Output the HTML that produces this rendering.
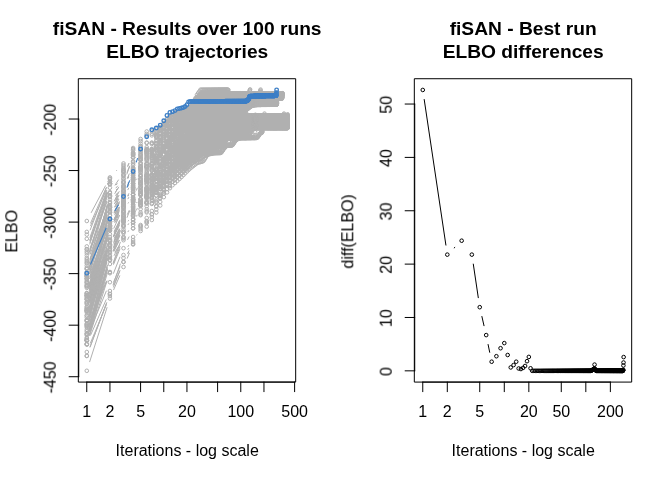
<!DOCTYPE html>
<html lang="en"><head><meta charset="utf-8"><title>fiSAN - ELBO trajectories</title>
<style>
html,body{margin:0;padding:0;background:#fff;}
svg{display:block;}
text{font-family:"Liberation Sans",sans-serif;fill:#000;will-change:transform;}
.ax{font-size:16px;text-anchor:middle;}
.tt{font-size:19.2px;font-weight:bold;text-anchor:middle;}
.ln{stroke:#000;stroke-width:1;fill:none;stroke-linecap:round;stroke-linejoin:round;}
.g{stroke:#b0b0b0;stroke-width:1;fill:none;stroke-linecap:round;}
.gp{fill:none;stroke:none;marker-start:url(#mg);marker-mid:url(#mg);marker-end:url(#mg);}
.bp{fill:none;stroke:none;marker-start:url(#mb);marker-mid:url(#mb);marker-end:url(#mb);}
.kp{fill:none;stroke:none;marker-start:url(#mk);marker-mid:url(#mk);marker-end:url(#mk);}
</style></head>
<body>
<svg width="672" height="480" viewBox="0 0 672 480">
<rect x="0" y="0" width="672" height="480" fill="#fff"/>
<defs>
<marker id="mg" markerUnits="userSpaceOnUse" markerWidth="8" markerHeight="8" refX="4" refY="4" viewBox="0 0 8 8" overflow="visible"><circle cx="4" cy="4" r="1.8" fill="none" stroke="#b0b0b0" stroke-width="1"/></marker>
<marker id="mb" markerUnits="userSpaceOnUse" markerWidth="8" markerHeight="8" refX="4" refY="4" viewBox="0 0 8 8" overflow="visible"><circle cx="4" cy="4" r="1.8" fill="none" stroke="#3d7fc6" stroke-width="1.35"/></marker>
<marker id="mk" markerUnits="userSpaceOnUse" markerWidth="8" markerHeight="8" refX="4" refY="4" viewBox="0 0 8 8" overflow="visible"><circle cx="4" cy="4" r="1.8" fill="none" stroke="#000" stroke-width="1"/></marker>
<clipPath id="cl"><rect x="78.7" y="78.7" width="217" height="303.4"/></clipPath>
<clipPath id="cr"><rect x="414.7" y="78.7" width="217" height="303.4"/></clipPath>
</defs>
<g clip-path="url(#cl)">
<path class="g" d="M91.3 212.5L105.4 185.9M116.6 170.5L116.8 170.3M89.9 240.3L106.8 192.6M90 237.3L106.7 190.5M90.2 229.9L106.5 187.6M90.6 225.8L106.1 190.4M90.6 223.1L106.1 187.8M89.9 242.3L106.8 192.6M89.5 251.7L107.2 193.1M89.8 244L106.9 192.9M90 240L106.7 193.4M127.8 165.5L128.8 163.4M89.9 250.4L106.8 202.3M115.1 185.1L118.4 180M89.2 263.9L107.5 193.1M127.7 166.5L128.9 163.9M89.9 248.8L106.7 201.1M116.3 184.8L117.2 183.8M89.3 269.1L107.4 204.6M116 187.9L117.5 186.1M89.5 266.9L107.2 208.4M115.7 191.6L117.8 188.8M127.1 172.2L129.5 166.2M89.4 269.7L107.3 205.8M116.5 189.6L116.9 189.3M154 147L154.1 146.4M89.6 253.2L107.1 196.8M127.4 178.1L129.2 174M90.1 259.8L106.6 216.2M115.6 199.5L117.9 196.2M90.1 254.4L106.6 210.7M114.8 193.5L118.6 187.2M89.4 267.1L107.3 206M116.5 189.8L117 189.3M91.1 246.8L105.6 218.1M114.3 201L119.1 191.6M126.9 174L129.7 166.4M89.4 268.9L107.3 205.1M127.9 177.8L128.7 176.2M90 258.8L106.7 212.4M115.8 195.8L117.6 193.5M90.9 260.5L105.8 229.6M114.4 212.5L119 203.8M89.8 267L106.9 216.5M116.1 200L117.4 198.5M128.2 182.7L128.4 182.4M89.4 284.1L107.3 220.4M115.3 203.2L118.2 198.8M89.4 273.1L107.3 211.8M115.9 195L117.6 192.8M89.8 265.6L106.9 214.3M116.3 198L117.1 197.1M91.1 257.1L105.6 228.2M114.5 211.2L119 202.7M89.5 273.8L107.2 215.6M115.5 198.7L117.9 195.4M90.4 263.3L106.3 224.1M114.6 206.8L118.8 199.3M89.2 290.3L107.5 221.4M114.5 203.7L119 195.3M128 178.4L128.6 177.3M90.2 266.2L106.5 224.2M115.2 207.2L118.2 202.8M89.1 294.7L107.6 221.4M116 204.6L117.5 202.7M127.8 186.7L128.8 184.6M89.5 285.9L107.1 228M116.1 211.4L117.4 209.8M90 276.6L106.7 230.6M114.1 212.9L119.4 201.8M127.8 184.5L128.9 182.3M90.4 277.7L106.3 239.1M114 221.6L119.4 210M136.8 179.4L136.9 179M88.9 299.4L107.8 217.2M116.2 200.5L117.3 199.3M89.4 283.8L107.3 221.4M115.8 204.5L117.7 202M89 308.1L107.7 231.1M89.8 271.1L106.9 219.8M127.9 189.7L128.7 188.1M89.6 284.5L107.1 228.3M114.7 210.8L118.8 203.4M90.2 272.9L106.5 230.1M115 213L118.4 207.6M89.2 301.9L107.5 232.4M114.7 214.8L118.7 207.8M89.7 290.1L106.9 237.6M113.9 219.7L119.6 207.1M89.5 286.7L107.1 228.7M115.9 212L117.5 210.1M90.1 275.6L106.6 230.8M115.3 213.8L118.1 209.5M136.5 190.2L137.2 188.2M90.3 277.2L106.4 237.1M114.1 219.5L119.3 208.7M89.6 278.7L107.1 221.4M128.1 196.1L128.6 195.2M89.4 298.1L107.3 234.6M115.2 217.4L118.2 213M89.8 290.1L106.9 238.1M114.4 220.5L119 211.7M89.4 297.4L107.3 234.6M116 218L117.4 216.3M89.7 293L107 238.8M115.7 222L117.8 219.2M128.2 203.1L128.4 202.7M89.7 288.5L107 235.6M115.4 218.6L118 214.8M89.3 301.5L107.4 236.6M114.8 219L118.7 212.4M127.8 195.6L128.8 193.6M89.9 287.6L106.8 239.7M114.8 222.4L118.7 215.6M128 198.8L128.7 197.5M88.9 310.7L107.8 228.5M89 314.3L107.7 235.1M90.8 286.6L105.9 254.4M113.6 236.8L119.8 221.7M89.9 286.1L106.8 237.7M114.9 220.4L118.5 214.5M89.2 303.2L107.5 232M89.6 301.3L107.1 246.1M113.9 228.2L119.6 215.4M89.6 292.9L107.1 235.9M90.1 294.4L106.6 250.2M114.8 232.9L118.6 226.6M89.7 306.3L106.9 253.8M113.5 235.8L119.9 220.2M89.6 311.7L107.1 254M113.9 236L119.6 223.3M88.9 331L107.8 249.3M114.2 231.3L119.2 221.2M89.4 310.7L107.3 248.6M115.2 231.4L118.3 226.6M89.8 300.6L106.9 249.8M114.4 232.2L119 223.4M89.9 301.8L106.8 254M114.1 236.2L119.4 225.2M89.3 316.6L107.4 250.2M115.1 232.9L118.3 227.8M136.8 202.7L136.9 202.4M89.5 315.3L107.2 256M114.4 238.2L119.1 229.2M89.1 322.1L107.5 250.5M114.6 232.8L118.8 225.1M88.9 318.2L107.7 238.1M89.1 328.8L107.6 255M114.9 237.5L118.6 231.3M127.4 214.3L129.2 210.4M89.1 331L107.6 257.9M114.2 240L119.3 229.6M90 306.6L106.7 260.9M113.7 243.1L119.7 229M89.3 331.1L107.4 265.2M113.9 247.2L119.5 235.1M127.1 217.4L129.5 211.3M89.6 315.5L107.1 259.8M113.9 241.9L119.6 229.3M89 320.6L107.7 243.5M136.5 210.1L137.2 208.5M89.9 311.9L106.8 262.4M114.1 244.7L119.3 233.8M89.4 331.1L107.3 267.3M114.3 249.5L119.1 240.3M90.4 299.9L106.3 261M114.9 243.9L118.6 237.6M128.2 221L128.5 220.5M89.6 326.2L107.1 269M113.2 250.8L120.3 231M89.3 324.1L107.4 258.2M114.7 240.6L118.7 233.8M89.4 331.1L107.3 269M113.6 250.9L119.9 235.4M89.5 324.7L107.2 265.5M113.4 247.4L120 230.4M89.4 331.1L107.3 269M114.1 251.2L119.3 240.4M89.7 361.7L107 307.6M113.7 289.7L119.7 275.8M127.3 258.2L129.3 253.3M90.4 343.1L106.3 304.9M113.5 287.1L119.9 270.9M127.7 253.3L129 250.7M90.6 335.2L106.1 299.8M113.6 282.1L119.9 266.9M128 249.5L128.6 248.5M90.1 347L106.6 303M113.1 284.9L120.3 264.1M128 246.5L128.6 245.5M90.4 329.3L106.3 291.1M113.5 273.3L119.9 257.1M127.7 239.5L129 236.9M90.6 317.4L106.1 282M113.6 264.3L119.9 249.1M128 231.7L128.6 230.7M90.1 325.2L106.6 281.2M113.1 263.1L120.3 242.3M128 224.7L128.6 223.7M90.1 346.8L106.6 302.9M113.7 285.1L119.8 270.8M128 253.4L128.6 252.3M136.8 235L136.9 234.8M89.4 335L107.3 273.2M114.2 255.4L119.2 245.5M89.7 335.4L107 281.1M113.5 263.1L120 246.5M89.3 335.1L107.4 269.5M115 252.1L118.4 246.7M136.7 216.1L137 215.2"/>
<polyline class="gp" points="86.8,221 109.9,177.4 123.5,163.4 133.1,148 140.6,139 146.7,131.5 151.8,131.4 156.3,129.6 160.2,127.1 163.8,123 167,119.3 169.9,115.6 172.5,114.2 175,112.6 177.3,111.6 179.5,111 181.5,110.6 183.4,110.6 185.2,109.3 187,108.7 188.6,108.4 190.1,107.5 191.6,105.4 193,103.9 194.4,101.3 195.7,97.8 197,94.8 198.2,93 199.4,91.4 200.5,89.7 201.6,89.7 202.7,89.7 203.7,89.7 204.7,89.7 205.7,89.7 206.6,89.7 207.5,89.7 208.4,89.7 209.3,89.7 210.1,89.7 211,89.7 211.8,89.7 212.6,89.7 213.3,89.7 214.1,89.7 214.8,89.7 215.5,89.7 216.2,89.7 216.9,89.7 217.6,89.7 218.3,89.7 218.9,89.7 219.5,89.7 220.2,89.7 220.8,89.7 221.4,89.7 222,89.7 222.6,89.7 223.1,89.7 223.7,89.7 224.2,89.7 224.8,89.7 225.3,89.7 225.9,89.7 226.4,89.7 226.9,89.7 227.4,89.7 227.9,89.7 228.4,90.1"/>
<polyline class="gp" points="86.8,249.4 109.9,183.5 123.5,170.3 133.1,153.8 140.6,147.4 146.7,147.2 151.8,144 156.3,134.1 160.2,129.4 163.8,125.2 167,121 169.9,118.4 172.5,118.4 175,117 177.3,116.9 179.5,115.5 181.5,112.9 183.4,111.9 185.2,111.9 187,111.7 188.6,110.2 190.1,110.2 191.6,110.2 193,109.9 194.4,109.8 195.7,106.1 197,103.8 198.2,100.8 199.4,98.4 200.5,96.8 201.6,96.2 202.7,96.2 203.7,96.2 204.7,96.2 205.7,96.2 206.6,96.2 207.5,96.2 208.4,96.2 209.3,96.2 210.1,96.2 211,96.2 211.8,96.2 212.6,96.2 213.3,96.2 214.1,96.2 214.8,96.2 215.5,96.2 216.2,96.2 216.9,96.2 217.6,96.2 218.3,96.2 218.9,96.2 219.5,96.2 220.2,96.2 220.8,96.2 221.4,96.2 222,96.2 222.6,96.2 223.1,95.9 223.7,95.4 224.2,95"/>
<polyline class="gp" points="86.8,246.4 109.9,181.5 123.5,169.3 133.1,153.1 140.6,145.9 146.7,143 151.8,143 156.3,135.4 160.2,130.3 163.8,124.9 167,123.2 169.9,119.8 172.5,117.4 175,116.5 177.3,112.5 179.5,112 181.5,111.5 183.4,111.5 185.2,111.4 187,111 188.6,109 190.1,108.3 191.6,106.9 193,104.9 194.4,101.6 195.7,99 197,98 198.2,97 199.4,96 200.5,95 201.6,95 202.7,95 203.7,95 204.7,95 205.7,95 206.6,95 207.5,95 208.4,95 209.3,95 210.1,95 211,95 211.8,95 212.6,95 213.3,95 214.1,95 214.8,95 215.5,95 216.2,95 216.9,95 217.6,95 218.3,95 218.9,95 219.5,95 220.2,95 220.8,95 221.4,95 222,95 222.6,95 223.1,95 223.7,95 224.2,95 224.8,95 225.3,95 225.9,95 226.4,95 226.9,95 227.4,95 227.9,95 228.4,94.8 228.9,94.7 229.3,94.5 229.8,94.3 230.3,94.2 230.7,94 231.2,93.8 231.6,93.6 232,93.5 232.5,93.4 232.9,93.4 233.3,93.4 233.7,93.4 234.1,93.4 234.5,93.4 234.9,93.4 235.3,93.4 235.7,93.4 236.1,93.4 236.5,93.4 236.9,93.4 237.3,93.4 237.6,93.4 238,93.4 238.4,93.4 238.7,93.4 239.1,93.4 239.4,93.4 239.8,93.4 240.1,93.4 240.8,93.4 241.4,93.4 242.1,93.4 242.7,93.4 243.4,93.4 244,93.4 244.6,93.4 245.2,93.4 245.7,93.4 246.3,93.4 246.9,93.4 247.4,93.4 248,93.4 248.5,93.4 249,93.4 249.6,93.4 250.1,93.4 250.6,93.4 251.1,93.4 251.6,93.4 252,93.4 252.5,93.4 253,93.4 253.4,93.4 253.9,93.4 254.3,93.4 254.8,93.4 255.2,93.4 255.7,93.4 256.1,93.4 256.5,93.4 256.9,93.4 257.3,93.4 257.7,93.4 258.1,93.4 258.5,93.4 258.9,93.4 259.3,93.4 259.7,93.4 260.1,93.4 260.4,93.4 260.8,93.4 261.2,93.4 261.5,93.4 261.9,93.4 262.2,93.4 262.6,93.4 262.9,93.4 263.3,93.4 263.8,93.4 264.3,93.4 264.8,93.4 265.3,93.4 265.8,93.4 266.2,93.4 266.7,93.4 267.2,93.4 267.6,93.4 268.1,93.4 268.5,93.4 268.9,93.4 269.4,93.4 269.8,93.4 270.2,93.4 270.6,93.4 271,93.4 271.4,93.4 271.8,93.4 272.2,93.4 272.6,93.4 273,93.4 273.4,93.4 273.8,93.4 274.1,93.4 274.5,93.4 274.9,93.4 275.2,93.4 275.6,93.4 275.9,93.4 276.3,93.4 276.6,93.4 277,93.4 277.4,93.4 277.9,93.4 278.3,93.4 278.7,93.4 279.2,93.4 279.6,93.4 280,93.4 280.4,93.4 280.8,93.4 281.2,93.4 281.6,93.4 282,93.4 282.2,93.3 282.3,93.3 282.4,93.3"/>
<polyline class="gp" points="86.8,238.8 109.9,178.6 123.5,165.1 133.1,149.1 140.6,141.1 146.7,133.9 151.8,133.9 156.3,131.3 160.2,129.4 163.8,124.4 167,120.7 169.9,116.2 172.5,114.7 175,114 177.3,112.7 179.5,112.7 181.5,111.7 183.4,110.4 185.2,110 187,109.3 188.6,108.6 190.1,107.8 191.6,106.9 193,105.4 194.4,103.4 195.7,100.8 197,98.3 198.2,96.1 199.4,94.4 200.5,93.8 201.6,93.8 202.7,93.8 203.7,93.8 204.7,93.8 205.7,93.8 206.6,93.8 207.5,93.8 208.4,93.8 209.3,93.8 210.1,93.8 211,93.8 211.8,93.8 212.6,93.8 213.3,93.8 214.1,93.8 214.8,93.8 215.5,93.8 216.2,93.8 216.9,93.8 217.6,93.8 218.3,93.8 218.9,93.8 219.5,93.8 220.2,93.8 220.8,93.8 221.4,93.8 222,93.8 222.6,93.8 223.1,93.8 223.7,93.8 224.2,93.8 224.8,93.8 225.3,93.8 225.9,93.8 226.4,93.8 226.9,93.8 227.4,93.8 227.9,93.8 228.4,93.8 228.9,93.8 229.3,93.8 229.8,93.8 230.3,93.8 230.7,93.8 231.2,93.8 231.6,93.8 232,93.8 232.5,93.8 232.9,93.8 233.3,93.8 233.7,93.8 234.1,93.8 234.5,93.8 234.9,93.8 235.3,93.8 235.7,93.8 236.1,93.8 236.5,93.8 236.9,93.8 237.3,93.8 237.6,93.8 238,93.8 238.4,93.8 238.7,93.8 239.1,93.8 239.4,93.8 239.8,93.8 240.1,93.8 240.8,93.8 241.4,93.8 242.1,93.8 242.7,93.8 243.4,93.8 244,93.8 244.6,93.8 245.2,93.8 245.7,93.8 246.3,93.8 246.9,93.8 247.4,93.8 248,93.8 248.5,93.5 249,92.7 249.6,91.2 249.8,90.3 250.1,89.4"/>
<polyline class="gp" points="86.8,234.6 109.9,181.6 123.5,168.3 133.1,152.6 140.6,146.2 146.7,142.6 151.8,142.6 156.3,135.1 160.2,133 163.8,128.1 167,123.7 169.9,120.5 172.5,118.9 175,114.9 177.3,112.8 179.5,111.5 181.5,110.5 183.4,109.9 185.2,109.7 187,108 188.6,107.8 190.1,107.7 191.6,107.7 193,107.7 194.4,107.7 195.7,104.8 197,102.2 198.2,99.2 199.4,96.6 200.5,94.7 201.6,94 202.7,94 203.7,94 204.7,94 205.7,94 206.6,94 207.5,94 208.4,94 209.3,94 210.1,94 211,94 211.8,94 212.6,94 213.3,94 214.1,94 214.8,94 215.5,94 216.2,94 216.9,94 217.6,94 218.3,94 218.9,94 219.5,94 220.2,94 220.8,94 221.4,94 222,94 222.6,94 223.1,94 223.7,94 224.2,94 224.8,94 225.3,94 225.9,94 226.4,94 226.9,94 227.4,94 227.9,94 228.4,94 228.9,94 229.3,94 229.8,94 230.3,94 230.7,94 231.2,94 231.6,94 232,94 232.5,94 232.9,94 233.3,94 233.7,94 234.1,94 234.5,94 234.9,94 235.3,94 235.7,94 236.1,94 236.5,94 236.9,94 237.3,94 237.6,94 238,94 238.4,94 238.7,94 239.1,94 239.4,94 239.8,94 240.1,94 240.8,94 241.4,94 242.1,94 242.7,94 243.4,94 244,94 244.6,94 245.2,94 245.7,94 246.3,94 246.9,94 247.4,94 248,94 248.5,94 249,94 249.6,94 250.1,94 250.6,94 251.1,94 251.6,94 252,94 252.5,94 253,94 253.4,94 253.9,94 254.3,94 254.8,94 255.2,94 255.7,94 256.1,94 256.5,94 256.9,94 257.3,94 257.7,94 258.1,94 258.5,94 258.9,94 259.3,94 259.7,93.4 260.1,92.2 260.3,91.4 260.4,90.5 260.6,89.6"/>
<polyline class="gp" points="86.8,231.9 109.9,179 123.5,166.6 133.1,150.3 140.6,143.6 146.7,135.4 151.8,135.4 156.3,132.5 160.2,128.4 163.8,123.8 167,119.1 169.9,117.1 172.5,115.1 175,113.5 177.3,112.8 179.5,111.8 181.5,111.2 183.4,111.2 185.2,110.4 187,110.1 188.6,109.2 190.1,107.9 191.6,106.3 193,103.3 194.4,101.6 195.7,99 197,98 198.2,97 199.4,96 200.5,95 201.6,95 202.7,95 203.7,95 204.7,95 205.7,95 206.6,95 207.5,95 208.4,95 209.3,95 210.1,95 211,95 211.8,95 212.6,95 213.3,95 214.1,95 214.8,95 215.5,95 216.2,95 216.9,95 217.6,95 218.3,95 218.9,95 219.5,95 220.2,95 220.8,95 221.4,95 222,95 222.6,95 223.1,95 223.7,95 224.2,95 224.8,95 225.3,95 225.9,95 226.4,95 226.9,95 227.4,95 227.9,95 228.4,94.8 228.9,94.7 229.3,94.6 229.8,94.6 230.3,94.6 230.7,94.6 231.2,94.6 231.6,94.6 232,94.6 232.5,94.6 232.9,94.6 233.3,94.6 233.7,94.6 234.1,94.6 234.5,94.6 234.9,94.6 235.3,94.6 235.7,94.6 236.1,94.6 236.5,94.6 236.9,94.6 237.3,94.6 237.6,94.6 238,94.6 238.4,94.6 238.7,94.6 239.1,94.6 239.4,94.6 239.8,94.6 240.1,94.6 240.8,94.6 241.4,94.6 242.1,94.6 242.7,94.6 243.4,94.6 244,94.6 244.6,94.6 245.2,94.6 245.7,94.6 246.3,94.6 246.9,94.6 247.4,94.6 248,94.6 248.5,94.6 249,94.6 249.6,94.6 250.1,94.6 250.6,94.6 251.1,94.6 251.6,94.6 252,94.6 252.5,94.6 253,94.6 253.4,94.6 253.9,94.6 254.3,94.6 254.8,94.6 255.2,94.6 255.7,94.6 256.1,94.6 256.5,94.6 256.9,94.6 257.3,94.6 257.7,94.6 258.1,94.6 258.5,94.6 258.9,94.6 259.3,94.6 259.7,94.6 260.1,94.6 260.4,94.6 260.8,94.6 261.2,94.6 261.5,94.6 261.9,94.6 262.2,94.6 262.6,94.6 262.9,94.6 263.3,94.6 263.8,94.6 264.3,94.6 264.8,94.6 265.3,94.6 265.8,94.6 266.2,94.6 266.7,94.6 267.2,94.6 267.6,94.6 268.1,94.6 268.5,94.6 268.9,94.6 269.4,94.6 269.8,94.6 270.2,94.6 270.6,94.6 271,94.6 271.4,94.6 271.8,94.6 272.2,94.6 272.6,94.6 273,94.6 273.4,94.6 273.8,94.6 274.1,94.6 274.5,94.6 274.9,94.6 275.2,94.6 275.6,94.6 275.9,94.6 276.3,94.6 276.6,94.6 277,94.6 277.4,94.6 277.9,94.6 278.3,94.6 278.7,94.6 279.2,94.6 279.6,94.6 280,94.6 280.4,94.6 280.8,94.6 281.2,94.6 281.6,94.6 282,94.6 282.2,94.3 282.3,93.8 282.4,93.3"/>
<polyline class="gp" points="86.8,251.4 109.9,183.6 123.5,171.9 133.1,157.5 140.6,151.6 146.7,151.4 151.8,151.4 156.3,141.5 160.2,134.1 163.8,126.8 167,122 169.9,119.6 172.5,117.2 175,116.7 177.3,112.6 179.5,112.6 181.5,112.6 183.4,111.8 185.2,110.2 187,110.1 188.6,108.5 190.1,108.5 191.6,108.5 193,106.6 194.4,103.7 195.7,102.3 197,100.7 198.2,99.7 199.4,99.4 200.5,99.4 201.6,99.4 202.7,99.4 203.7,99.4 204.7,99.4 205.7,99.4 206.6,99.4 207.5,99.4 208.4,99.4 209.3,99.4 210.1,99.4 211,99.4 211.8,99.4 212.6,99.4 213.3,99.4 214.1,99.4 214.8,99.4 215.5,99.4 216.2,99.4 216.9,99.4 217.6,99.4 218.3,99.4 218.9,99.4 219.5,99.4 220.2,99.4 220.8,99.4 221.4,99.4 222,99.4 222.6,99.4 223.1,99.4 223.7,99.4 224.2,99.4 224.8,99.4 225.3,99.4 225.9,99.4 226.4,99.4 226.9,99.4 227.4,98.8 227.9,97.9 228.4,96.3"/>
<polyline class="gp" points="86.8,260.9 109.9,183.9 123.5,175.4 133.1,161.2 140.6,149.9 146.7,149 151.8,148.8 156.3,140.4 160.2,136.8 163.8,132.1 167,128.1 169.9,122.9 172.5,122.9 175,120.7 177.3,117.3 179.5,113.6 181.5,111.8 183.4,111 185.2,110.8 187,110.8 188.6,110.8 190.1,109.4 191.6,106 193,102.4 194.4,100.1 195.7,99 197,98 198.2,97 199.4,96 200.5,95.3 201.6,95.3 202.7,95.3 203.7,95.3 204.7,95.3 205.7,95.3 206.6,95.3 207.5,95.3 208.4,95.3 209.3,95.3 210.1,95.3 211,95.3 211.8,95.3 212.6,95.3 213.3,95.3 214.1,95.3 214.8,95.3 215.5,95.3 216.2,95.3 216.9,95.3 217.6,95.3 218.3,95.3 218.9,95.3 219.5,95.3 220.2,95.3 220.8,95.3 221.4,95.3 222,95.3 222.6,95.3 223.1,95.3 223.7,95.3 224.2,95.3 224.8,95.3 225.3,95.3 225.9,95.3 226.4,95.3 226.9,95.3 227.4,95.3 227.9,95.3 228.4,95.3 228.9,95.3 229.3,95.3 229.8,95.3 230.3,95.3 230.7,95.3 231.2,95.3 231.6,95.3 232,95.3 232.5,95.3 232.9,95.3 233.3,95.3 233.7,95.3 234.1,95.3 234.5,95.3 234.9,95.3 235.3,95.3 235.7,95.3 236.1,95.3 236.5,95.3 236.9,95.3 237.3,95.3 237.6,95.3 238,95.3 238.4,95.3 238.7,95.3 239.1,95.3 239.4,95.3 239.8,94.7 240.1,93.7 240.4,93.3"/>
<polyline class="gp" points="86.8,253.1 109.9,183.8 123.5,170.9 133.1,154.3 140.6,149.7 146.7,149.6 151.8,149.6 156.3,136.4 160.2,127.8 163.8,123.9 167,122.1 169.9,118.2 172.5,118.2 175,116.6 177.3,116.6 179.5,115.5 181.5,115.5 183.4,115.5 185.2,113.1 187,111.9 188.6,111.8 190.1,111.8 191.6,109.1 193,105.6 194.4,102.1 195.7,100.3 197,99.5 198.2,99.5 199.4,99.5 200.5,99.5 201.6,99.5 202.7,99.5 203.7,99.5 204.7,99.5 205.7,99.5 206.6,99.5 207.5,99.5 208.4,99.5 209.3,99.5 210.1,99.5 211,99.5 211.8,99.5 212.6,99.5 213.3,99.5 214.1,99.5 214.8,99.5 215.5,99.5 216.2,99.5 216.9,99.5 217.6,99.5 218.3,99.5 218.9,99.5 219.5,99.5 220.2,99.5 220.8,99.5 221.4,99.5 222,99.5 222.6,99.5 223.1,99.5 223.7,99.5 224.2,99.5 224.8,99.5 225.3,99.5 225.9,99.5 226.4,99.5 226.9,99.5 227.4,99.5 227.9,99.5 228.4,99.5 228.9,99.5 229.3,99.5 229.8,99.5 230.3,99.5 230.7,99.5 231.2,99.5 231.6,99.5 232,99.5 232.5,99.5 232.9,99.5 233.3,99.5 233.7,99.5 234.1,99.5 234.5,99.5 234.9,99.5 235.3,99.5 235.7,99.5 236.1,99.5 236.5,99.5 236.9,99.5 237.3,99.5 237.6,99.5 238,99.5 238.4,99.5 238.7,99.5 239.1,99.5 239.4,99.5 239.8,99.5 240.1,99.5 240.8,99.5 241.4,99.5 242.1,99.5 242.7,99.5 243.4,99.5 244,99.5 244.6,99.5 245.2,99.5 245.7,99.5 246.3,99.5 246.9,99.5 247.4,99.5 248,99.5 248.5,99.5 249,99.5 249.6,99.5 250.1,99.5 250.6,99.5 251.1,99.5 251.6,99.5 252,99.5 252.5,99.5 253,99.5 253.4,99.5 253.9,99.5 254.3,99.5 254.8,99.5 255.2,99.5 255.7,99.5 256.1,99.5 256.5,99.5 256.9,99.5 257.3,99.5 257.7,99.5 258.1,99.5 258.5,99.5 258.9,99.5 259.3,99.5 259.7,99.5 260.1,99.5 260.4,99.5 260.8,99.5 261.2,99.5 261.5,99.5 261.9,99.5 262.2,99.5 262.6,99.5 262.9,99.5 263.3,99.5 263.8,99.5 264.3,99.5 264.8,99.5 265.3,99.5 265.8,99.5 266.2,99.5 266.7,99.5 267.2,99.5 267.6,99.5 268.1,99.5 268.5,99.5 268.9,99.5 269.4,99.5 269.8,98.7 269.9,97.5 270.1,95.4"/>
<polyline class="gp" points="86.8,249.1 109.9,184.3 123.5,174.1 133.1,154.9 140.6,152.2 146.7,152.2 151.8,149.5 156.3,137.6 160.2,131.4 163.8,127.1 167,123.3 169.9,120.2 172.5,118.3 175,116.3 177.3,114.4 179.5,113.9 181.5,113.9 183.4,112.7 185.2,112.3 187,112.3 188.6,111 190.1,111 191.6,110.5 193,109.4 194.4,106.5 195.7,104.2 197,102.4 198.2,100.6 199.4,99.1 200.5,98.6 201.6,98.6 202.7,98.6 203.7,98.6 204.7,98.6 205.7,98.6 206.6,98.6 207.5,98.6 208.4,98.6 209.3,98.6 210.1,98.6 211,98.6 211.8,98.6 212.6,98.6 213.3,98.6 214.1,98.6 214.8,98.6 215.5,98.6 216.2,98.6 216.9,98.6 217.6,98.6 218.3,98.6 218.9,98.6 219.5,98.6 220.2,98.6 220.8,98.6 221.4,98.6 222,98.6 222.6,98.6 223.1,98.6 223.7,98.6 224.2,98.6 224.8,98.6 225.3,98.6 225.9,98.6 226.4,98.6 226.9,98.6 227.4,98.6 227.9,98.6 228.4,98.6 228.9,98.6 229.3,98.6 229.8,98.6 230.3,98.6 230.7,98.6 231.2,98.6 231.6,98.6 232,98.6 232.5,98.6 232.9,98.6 233.3,98.6 233.7,98.6 234.1,98.6 234.5,98.6 234.9,98.6 235.3,98.6 235.7,98.6 236.1,98.6 236.5,98.6 236.9,98.6 237.3,98.6 237.6,98.6 238,98.6 238.4,98.6 238.7,98.6 239.1,98.6 239.4,98.6 239.8,98.6 240.1,98.6 240.8,98.6 241.4,98.6 242.1,98.6 242.7,98.6 243.4,98.6 244,98.6 244.6,98.6 245.2,98.6 245.7,98.6 246.3,98.6 246.9,98.6 247.4,98.6 248,98.6 248.5,98.6 249,98.6 249.6,98.6 250.1,98.6 250.6,98.6 251.1,98.6 251.6,98.6 252,98.6 252.5,98.6 253,98.6 253.4,98.6 253.9,98.6 254.3,98.6 254.8,98.6 255.2,98.6 255.7,98.6 256.1,98.6 256.5,98.6 256.9,98.6 257.3,98.6 257.7,98.6 258.1,98.6 258.5,98.6 258.9,98.6 259.3,98.6 259.7,98.6 260.1,98.6 260.4,98.6 260.8,98.6 261.2,98.6 261.5,98.6 261.9,98.6 262.2,98.6 262.6,98.6 262.9,98.6 263.3,98.6 263.8,98.6 264.3,98.6 264.8,98.6 265.3,98.6 265.8,98.6 266.2,98.6 266.7,98.6 267.2,98.6 267.6,98.6 268.1,98.6 268.5,98.6 268.9,98.6 269.4,98.6 269.8,98.6 270.2,98.6 270.6,98.6 271,98.6 271.4,98.6 271.8,98.6 272.2,98.6 272.6,98.6 273,98.6 273.4,98.6 273.8,98.6 274.1,98.6 274.5,98.6 274.9,98.6 275.2,98.6 275.6,98.6 275.9,98.6 276.3,98.6 276.6,98.6 277,98.6 277.4,98.6 277.9,98.6 278.3,98.6 278.7,98.6 279.2,98.6 279.6,98.6 280,98.6 280.4,98.6 280.8,98.6 281.2,98.6 281.6,98.6 282,98.6 282.2,98 282.3,97.1 282.4,95.5"/>
<polyline class="gp" points="86.8,259.4 109.9,193.2 123.5,171.9 133.1,162 140.6,154.6 146.7,150.2 151.8,149.9 156.3,136.5 160.2,132.7 163.8,125.7 167,121.7 169.9,119.4 172.5,116.1 175,115.7 177.3,115.7 179.5,115.7 181.5,115.5 183.4,113.2 185.2,112 187,112 188.6,112 190.1,112 191.6,112 193,109.5 194.4,107 195.7,103.7 197,100.6 198.2,98.2 199.4,96.5 200.5,95.8 201.6,95.8 202.7,95.8 203.7,95.8 204.7,95.8 205.7,95.8 206.6,95.8 207.5,95.8 208.4,95.8 209.3,95.8 210.1,95.8 211,95.8 211.8,95.8 212.6,95.8 213.3,95.8 214.1,95.8 214.8,95.8 215.5,95.8 216.2,95.8 216.9,95.8 217.6,95.8 218.3,95.8 218.9,95.8 219.5,95.8 220.2,95.8 220.8,95.8 221.4,95.8 222,95.8 222.6,95.8 223.1,95.8 223.7,95.8 224.2,95.8 224.8,95.8 225.3,95.8 225.9,95.8 226.4,95.8 226.9,95.8 227.4,95.8 227.9,95.8 228.4,95.8 228.9,95.8 229.3,95.8 229.8,95.8 230.3,95.8 230.7,95.8 231.2,95.8 231.6,95.8 232,95.8 232.5,95.8 232.9,95.8 233.3,95.8 233.7,95.8 234.1,95.8 234.5,95.8 234.9,95.8 235.3,95.8 235.7,95.8 236.1,95.8 236.5,95.8 236.9,95.8 237.3,95.8 237.6,95.8 238,95.8 238.4,95.8 238.7,95.8 239.1,95.8 239.4,95.8 239.8,95.8 240.1,95.8 240.8,95.8 241.4,95.8 242.1,95.8 242.7,95.8 243.4,95.8 244,95.8 244.6,95.8 245.2,95.8 245.7,95.8 246.3,95.8 246.9,95.8 247.4,95.8 248,95.8 248.5,95.8 249,95.8 249.6,95.8 250.1,95.8 250.6,95.8 251.1,95.8 251.6,95.8 252,95.8 252.5,95.8 253,95.8 253.4,95.8 253.9,95.8 254.3,95.8 254.8,95.8 255.2,95.8 255.7,95.8 256.1,95.8 256.5,95.8 256.9,95.8 257.3,95.8 257.7,95.8 258.1,95.8 258.5,95.8 258.9,95.8 259.3,95.8 259.7,95.8 260.1,95.8 260.4,95.8 260.8,95.8 261.2,95.8 261.5,95.8 261.9,95.8 262.2,95.8 262.6,95.8 262.9,95.8 263.3,95.8 263.8,95.8 264.3,95.8 264.8,95.8 265.3,95.8 265.8,95.8 266.2,95.8 266.7,95.8 267.2,95.8 267.6,95.8 268.1,95.8 268.5,95.8 268.9,95.8 269.4,95.8 269.8,95.8 270.2,95.8 270.6,95.8 271,95.8 271.4,95.8 271.8,95.8 272.2,95.8 272.6,95.8 273,95.8 273.4,95.8 273.8,95.8 274.1,95.8 274.5,95.8 274.9,95.8 275.2,95.8 275.6,95.8 275.9,95.8 276.3,95.8 276.6,95.8 277,95.8 277.4,95.8 277.9,95.8 278.3,95.8 278.7,95.8 279.2,95.8 279.6,95.8 280,95.8 280.4,95.8 280.8,95.8 281.2,95.8 281.6,95.8 282,95.8 282.2,95.5 282.3,95 282.4,94.3"/>
<polyline class="gp" points="86.8,273.2 109.9,183.8 123.5,175.1 133.1,155.3 140.6,149.5 146.7,149.5 151.8,149.5 156.3,143.7 160.2,137.8 163.8,132.2 167,128.5 169.9,124.8 172.5,123.1 175,122.4 177.3,120.9 179.5,119.2 181.5,118.4 183.4,116.7 185.2,116.1 187,116.1 188.6,116 190.1,116 191.6,114.2 193,110.3 194.4,106.8 195.7,103 197,100.3 198.2,98.3 199.4,97.5 200.5,97.5 201.6,97.5 202.7,97.5 203.7,97.5 204.7,97.5 205.7,97.5 206.6,97.5 207.5,97.5 208.4,97.5 209.3,97.5 210.1,97.5 211,97.5 211.8,97.5 212.6,97.5 213.3,97.5 214.1,97.5 214.8,97.5 215.5,97.5 216.2,97.5 216.9,97.5 217.6,97.5 218.3,97.5 218.9,97.5 219.5,97.5 220.2,97.5 220.8,97.5 221.4,97.5 222,97.5 222.6,97.5 223.1,97.5 223.7,97.5 224.2,97.5 224.8,97.5 225.3,97.5 225.9,97.5 226.4,97.5 226.9,97.5 227.4,97.5 227.9,97.5 228.4,97.5 228.9,97.5 229.3,97.5 229.8,97.5 230.3,97.5 230.7,97.5 231.2,97.5 231.6,97.5 232,97.5 232.5,97.5 232.9,97.5 233.3,97.5 233.7,97.5 234.1,97.5 234.5,97.5 234.9,97.5 235.3,97.5 235.7,97.5 236.1,97.5 236.5,97.5 236.9,97.5 237.3,97.5 237.6,97.5 238,97.5 238.4,97.5 238.7,97.5 239.1,97.5 239.4,97.5 239.8,97.5 240.1,97.5 240.8,97.5 241.4,97.5 242.1,97.5 242.7,97.5 243.4,97.5 244,97.5 244.6,97.5 245.2,97.5 245.7,97.5 246.3,97.5 246.9,97.5 247.4,97.5 248,97.5 248.5,97.5 249,97.5 249.6,97.5 250.1,97.5 250.6,97.5 251.1,97.5 251.6,97.5 252,97.5 252.5,97.5 253,97.5 253.4,97.5 253.9,97.5 254.3,97.5 254.8,97.5 255.2,97.5 255.7,97.5 256.1,97.5 256.5,97.5 256.9,97.5 257.3,97.5 257.7,97.5 258.1,97.5 258.5,97.5 258.9,97.5 259.3,97.5 259.7,97.5 260.1,97.5 260.4,97.5 260.8,97.5 261.2,97.5 261.5,97.5 261.9,97.5 262.2,97.5 262.6,97.5 262.9,97.5 263.3,97.5 263.8,97.5 264.3,97.5 264.8,97.5 265.3,97.5 265.8,97.5 266.2,97.5 266.7,97.5 267.2,97.5 267.6,97.5 268.1,97.5 268.5,97.5 268.9,97.5 269.4,97.5 269.8,97.5 270.2,97.5 270.6,97.5 271,97.5 271.4,97.5 271.8,97.5 272.2,97.5 272.6,97.5 273,97.5 273.4,97.5 273.8,97.5 274.1,97.5 274.5,97.5 274.9,97.5 275.2,97.5 275.6,97.5 275.9,97.5 276.3,97.5 276.6,97.5 277,97.5 277.4,97.5 277.9,97.5 278.3,97.5 278.7,97.5 279.2,97.5 279.6,97.5 280,97.5 280.4,97.5 280.8,97.5 281.2,97.5 281.6,97.5 282,97.5 282.2,97.1 282.3,96.5 282.4,95.4"/>
<polyline class="gp" points="86.8,257.9 109.9,192.1 123.5,176.6 133.1,169.3 140.6,158.1 146.7,150.7 151.8,150.7 156.3,143.8 160.2,140.7 163.8,135.1 167,131.4 169.9,127.2 172.5,124.3 175,121.5 177.3,120.4 179.5,119.2 181.5,119.2 183.4,119.2 185.2,117.4 187,116.6 188.6,116.6 190.1,116.1 191.6,115 193,114.8 194.4,113.1 195.7,113.1 197,111.2 198.2,110 199.4,107.9 200.5,105.9 201.6,104 202.7,102.1 203.7,100.9 204.7,100.5 205.7,100.5 206.6,100.5 207.5,100.5 208.4,100.5 209.3,100.5 210.1,100.5 211,100.5 211.8,100.5 212.6,100.5 213.3,100.5 214.1,100.5 214.8,100.5 215.5,100.5 216.2,100.5 216.9,100.5 217.6,100.5 218.3,100.5 218.9,100.5 219.5,100.5 220.2,100.5 220.8,100.5 221.4,100.5 222,100.5 222.6,100.5 223.1,100.5 223.7,100.5 224.2,100.5 224.8,100.5 225.3,100.5 225.9,100.5 226.4,100.5 226.9,100.5 227.4,100.5 227.9,100.5 228.4,100.5 228.9,100.5 229.3,100.5 229.8,100.5 230.3,100.5 230.7,100.5 231.2,100.5 231.6,100.5 232,100.5 232.5,100.5 232.9,100.5 233.3,100.5 233.7,100.5 234.1,100.5 234.5,100.5 234.9,100.5 235.3,100.5 235.7,100.5 236.1,100.5 236.5,100.5 236.9,100.5 237.3,100.5 237.6,100.5 238,100.5 238.4,100.5 238.7,100.5 239.1,100.5 239.4,100.5 239.8,100.5 240.1,100.5 240.8,100.5 241.4,100.5 242.1,100.5 242.7,100.5 243.4,100.5 244,100.5 244.6,100.5 245.2,100.5 245.7,100.5 246.3,100.5 246.9,100.5 247.4,100.5 248,100.5 248.5,100.5 249,100.5 249.6,100.5 250.1,100.5 250.6,100.5 251.1,100.5 251.6,100.5 252,100.5 252.5,100.5 253,100.5 253.4,100.5 253.9,100.5 254.3,100.5 254.6,99.7 254.8,98.5 255,96.4"/>
<polyline class="gp" points="86.8,278.4 109.9,195.3 123.5,178.6 133.1,163.6 140.6,158.7 146.7,151.7 151.8,151.7 156.3,146.1 160.2,136.5 163.8,131.4 167,126.3 169.9,122.8 172.5,120.5 175,118.9 177.3,115.6 179.5,114.2 181.5,112.6 183.4,112.6 185.2,112.6 187,112.4 188.6,111.5 190.1,111.4 191.6,108.6 193,104.8 194.4,101.9 195.7,99 197,98 198.2,97 199.4,96.5 200.5,96.5 201.6,96.5 202.7,96.5 203.7,96.5 204.7,96.5 205.7,96.5 206.6,96.5 207.5,96.5 208.4,96.5 209.3,96.5 210.1,96.5 211,96.5 211.8,96.5 212.6,96.5 213.3,96.5 214.1,96.5 214.8,96.5 215.5,96.5 216.2,96.5 216.9,96.5 217.6,96.5 218.3,96.5 218.9,96.5 219.5,96.5 220.2,96.5 220.8,96.5 221.4,96.5 222,96.5 222.6,96.5 223.1,96.5 223.7,96.5 224.2,96.5 224.8,96.5 225.3,96.5 225.9,96.5 226.4,96.5 226.9,96.5 227.4,96.5 227.9,96.5 228.4,96.5 228.9,96.5 229.3,96.5 229.8,96.5 230.3,96.5 230.7,96.5 231.2,96.5 231.6,96.5 232,96.5 232.5,96.5 232.9,96.5 233.3,96.5 233.7,96.5 234.1,96.5 234.5,96.5 234.9,96.5 235.3,96.5 235.7,96.5 236.1,96.5 236.5,96.5 236.9,96.5 237.3,96.5 237.6,96.5 238,96.5 238.4,96.5 238.7,96.5 239.1,96.5 239.4,95.9 239.8,95 240.1,93.4"/>
<polyline class="gp" points="86.8,276.1 109.9,199.3 123.5,181.1 133.1,157.3 140.6,153.9 146.7,153.9 151.8,153.9 156.3,143.4 160.2,137 163.8,131.7 167,124.7 169.9,120.8 172.5,117.5 175,116.4 177.3,114.6 179.5,114.6 181.5,113.1 183.4,112.1 185.2,111.9 187,111.9 188.6,111.9 190.1,110.9 191.6,109.2 193,107.3 194.4,105.1 195.7,103.8 197,102.8 198.2,102.5 199.4,102.5 200.5,102.5 201.6,102.5 202.7,102.5 203.7,102.5 204.7,102.5 205.7,102.5 206.6,102.5 207.5,102.5 208.4,102.5 209.3,102.5 210.1,102.5 211,102.5 211.8,102.5 212.6,102.5 213.3,102.5 214.1,102.5 214.8,102.5 215.5,102.5 216.2,102.5 216.9,102.5 217.6,102.5 218.3,102.5 218.9,102.5 219.5,102.5 220.2,102.5 220.8,102.5 221.4,102.5 222,102.5 222.6,102.5 223.1,102.5 223.7,102.5 224.2,102.5 224.8,102.5 225.3,102.5 225.9,102.5 226.4,102.5 226.9,102.5 227.4,102.5 227.9,102.5 228.4,102.5 228.9,102.5 229.3,102.5 229.8,102.5 230.3,102.5 230.7,102.5 231.2,102.5 231.6,102.5 232,102.5 232.5,102.5 232.9,102.5 233.3,102.5 233.7,102.5 234.1,102.5 234.5,102.5 234.9,102.5 235.3,102.5 235.7,102.5 236.1,102.5 236.5,102.5 236.9,102.5 237.3,102.5 237.6,102.5 238,102.5 238.4,102.5 238.7,102.5 239.1,102.5 239.4,102.5 239.8,102.5 240.1,102.5 240.8,102.5 241.4,102.5 242.1,102.5 242.7,102.5 243.4,102.5 244,102.5 244.6,102.5 245.2,102.5 245.7,102.5 246.3,102.5 246.9,102.5 247.4,102.5 248,102.5 248.5,102.5 249,102.5 249.6,102.5 250.1,102.5 250.6,102.5 251.1,102.5 251.6,102.5 252,102.5 252.5,102.5 253,102.5 253.4,102.5 253.9,102.5 254.3,102.5 254.8,102.5 255.2,102.5 255.7,102.5 256.1,102.5 256.5,102.5 256.9,102.5 257.3,102.5 257.7,102.5 258.1,102.5 258.5,102.5 258.9,102.5 259.3,102.5 259.7,102.5 260.1,102.5 260.4,102.5 260.8,102.5 261.2,102.5 261.5,102.5 261.9,102.5 262.2,102.5 262.6,102.5 262.9,102.5 263.3,102.5 263.8,102.5 264.3,102.5 264.8,102.5 265.3,102.5 265.8,102.5 266.2,102.5 266.5,101.9 266.7,100.9 266.8,99.4"/>
<polyline class="gp" points="86.8,278.9 109.9,196.6 123.5,182.3 133.1,170.5 140.6,159.2 146.7,158.6 151.8,156.3 156.3,137 160.2,137 163.8,131.5 167,128 169.9,124.3 172.5,123.5 175,123.2 177.3,119.5 179.5,119 181.5,117.5 183.4,117.4 185.2,116.2 187,115 188.6,114.6 190.1,114.6 191.6,114.6 193,114.6 194.4,114.6 195.7,114.6 197,114.6 198.2,114.6 199.4,114.6 200.5,113.1 201.6,113.1 202.7,113.1 203.7,113 204.7,112.7 205.7,112.7 206.6,112.7 207.5,112.6 208.4,112.6 209.3,112.6 210.1,112.6 211,112.6 211.8,112.6 212.6,112.6 213.3,112.4 214.1,112.3 214.8,112.2 215.5,112.1 216.2,112.1 216.9,112 217.6,111.9 218.3,111.8 218.9,111.7 219.5,111.6 220.2,111.4 220.8,111.3 221.4,111.2 222,111.1 222.6,110.9 223.1,110.8 223.7,110.6 224.2,110.4 224.8,110.3 225.3,110.1 225.9,109.9 226.4,109.7 226.9,109.5 227.4,109.3 227.9,109 228.4,108.8 228.9,108.6 229.3,108.4 229.8,108.2 230.3,107.9 230.7,107.7 231.2,107.5 231.6,107.3 232,107.2 232.5,107 232.9,106.8 233.3,106.6 233.7,106.5 234.1,106.4 234.5,106.2 234.9,106.1 235.3,106 235.7,105.9 236.1,105.8 236.5,105.7 236.9,105.7 237.3,105.6 237.6,105.5 238,105.5 238.4,105.4 238.7,105.4 239.1,105.3 239.4,105.3 239.8,105.2 240.1,105.2 240.8,105.2 241.4,105.1 242.1,105.1 242.7,105 243.4,105 244,105 244.6,105 245.2,104.9 245.7,104.9 246.3,104.9 246.9,104.9 247.4,104.9 248,104.9 248.5,104.9 249,104.9 249.6,104.8 250.1,104.8 250.6,104.8 251.1,104.8 251.6,104.8 252,104.8 252.5,104.8 253,104.8 253.4,104.8 253.9,104.8 254.3,104.8 254.8,104.8 255.2,104.8 255.7,104.8 256.1,104.7 256.5,104.7 256.9,104.7 257.3,104.7 257.7,104.7 258.1,104.7 258.5,104.7 258.9,104.7 259.3,104.7 259.7,104.7 260.1,104.7 260.4,104.7 260.8,104.7 261.2,104.7 261.5,104.7 261.7,104.1 261.9,103.1 262.1,101.6"/>
<polyline class="gp" points="86.8,262.4 109.9,187.7 123.5,186.9 133.1,165.2 140.6,159.8 146.7,159.8 151.8,157.8 156.3,147.1 160.2,142.2 163.8,133.8 167,132.3 169.9,128.7 172.5,123.8 175,122.1 177.3,119.9 179.5,119.8 181.5,119.1 183.4,118.6 185.2,118 187,118 188.6,116.7 190.1,115 191.6,113.3 193,110 194.4,108.3 195.7,105.8 197,103.8 198.2,103 199.4,103 200.5,103 201.6,103 202.7,103 203.7,103 204.7,103 205.7,103 206.6,103 207.5,103 208.4,103 209.3,103 210.1,103 211,103 211.8,103 212.6,103 213.3,103 214.1,103 214.8,103 215.5,103 216.2,103 216.9,103 217.6,103 218.3,103 218.9,103 219.5,103 220.2,103 220.8,103 221.4,103 222,103 222.6,103 223.1,103 223.7,103 224.2,103 224.8,103 225.3,103 225.9,103 226.4,103 226.9,103 227.4,103 227.9,103 228.4,103 228.9,103 229.3,103 229.8,103 230.3,103 230.7,103 231.2,103 231.6,103 232,103 232.5,103 232.9,103 233.3,103 233.7,103 234.1,103 234.5,103 234.9,103 235.3,103 235.7,103 236.1,103 236.5,103 236.9,103 237.3,103 237.6,103 238,103 238.4,103 238.7,103 239.1,103 239.4,103 239.8,103 240.1,103 240.8,103 241.4,103 242.1,103 242.7,103 243.4,103 244,103 244.6,103 245.2,103 245.7,103 246.3,103 246.9,103 247.4,103 248,103 248.5,103 249,103 249.6,103 250.1,103 250.6,103 251.1,103 251.6,103 252,103 252.5,103 253,103 253.4,103 253.9,103 254.3,103 254.8,103 255.2,103 255.7,103 256.1,103 256.5,103 256.9,103 257.3,103 257.7,103 258.1,103 258.5,103 258.9,103 259.3,103 259.7,103 260.1,103 260.4,103 260.8,103 261.2,103 261.5,103 261.9,103 262.2,103 262.6,103 262.9,103 263.3,103 263.8,103 264.3,103 264.8,103 265.3,103 265.8,103 266.2,103 266.7,103 267.2,103 267.6,103 268.1,103 268.5,103 268.9,103 269.4,103 269.8,103 270.2,103 270.6,103 271,103 271.4,103 271.8,103 272.2,103 272.6,103 273,103 273.4,103 273.8,103 274.1,103 274.5,103 274.9,103 275.2,103 275.6,103 275.9,103 276.3,103 276.6,103 276.7,102.4 276.8,101.5 277,99.9"/>
<polyline class="gp" points="86.8,268.8 109.9,207.2 123.5,188.4 133.1,173.3 140.6,160 146.7,153.9 151.8,153.9 156.3,149.8 160.2,144.2 163.8,140.9 167,138.4 169.9,134.9 172.5,132.8 175,128.6 177.3,126.2 179.5,125.2 181.5,123.1 183.4,121.8 185.2,117.6 187,117.1 188.6,117.1 190.1,117.1 191.6,114.8 193,111.4 194.4,107.8 195.7,104.9 197,102.7 198.2,102 199.4,102 200.5,102 201.6,102 202.7,102 203.7,102 204.7,102 205.7,102 206.6,102 207.5,102 208.4,102 209.3,102 210.1,102 211,102 211.8,102 212.6,102 213.3,102 214.1,102 214.8,102 215.5,102 216.2,102 216.9,102 217.6,102 218.3,102 218.9,102 219.5,102 220.2,102 220.8,102 221.4,102 222,102 222.6,102 223.1,102 223.7,102 224.2,102 224.8,102 225.3,102 225.9,102 226.4,102 226.9,102 227.4,102 227.9,102 228.4,102 228.9,102 229.3,102 229.8,102 230.3,102 230.7,102 231.2,102 231.6,102 232,102 232.5,102 232.9,102 233.3,102 233.7,102 234.1,102 234.5,102 234.9,102 235.3,102 235.7,102 236.1,102 236.5,102 236.9,102 237.3,102 237.6,102 238,102 238.4,102 238.7,102 239.1,102 239.4,102 239.8,102 240.1,102 240.8,102 241.4,102 242.1,102 242.7,102 243.4,102 244,102 244.6,102 245.2,102 245.7,102 246.3,102 246.9,102 247.4,102 248,102 248.5,102 249,102 249.6,102 250.1,102 250.6,102 251.1,102 251.6,102 252,102 252.5,102 253,102 253.4,102 253.9,102 254.3,102 254.8,102 255.2,102 255.7,102 256.1,102 256.5,102 256.9,102 257.3,102 257.7,102 258.1,102 258.5,102 258.9,102 259.3,102 259.7,102 260.1,102 260.4,102 260.8,102 261.2,102 261.5,102 261.9,102 262.2,102 262.6,102 262.9,102 263.3,102 263.8,102 264.3,102 264.8,102 265.3,102 265.4,101.4 265.6,100.4 265.8,98.9"/>
<polyline class="gp" points="86.8,263.4 109.9,201.8 123.5,178.9 133.1,168.1 140.6,155.3 146.7,155.3 151.8,155.3 156.3,149.3 160.2,147.4 163.8,139.1 167,134.9 169.9,131.6 172.5,131.6 175,126.9 177.3,125.3 179.5,123.4 181.5,122.1 183.4,120 185.2,119.1 187,119.1 188.6,118.6 190.1,117.3 191.6,117.3 193,117.3 194.4,117.3 195.7,117.2 197,116.6 198.2,115.4 199.4,115.4 200.5,115.4 201.6,115.4 202.7,115.2 203.7,114.4 204.7,114.4 205.7,114.4 206.6,114.2 207.5,114 208.4,114 209.3,113.8 210.1,113.8 211,113.8 211.8,113.8 212.6,113.8 213.3,113.8 214.1,113.7 214.8,113.6 215.5,113.6 216.2,113.5 216.9,113.4 217.6,113.4 218.3,113.3 218.9,113.3 219.5,113.2 220.2,113.2 220.8,113.1 221.4,113.1 222,113.1 222.6,113 223.1,113 223.7,112.9 224.2,112.9 224.8,112.9 225.3,112.8 225.9,112.8 226.4,112.8 226.9,112.7 227.4,112.7 227.9,112.7 228.4,112.7 228.9,112.6 229.3,112.6 229.8,112.6 230.3,112.6 230.7,112.5 231.2,112.5 231.6,112.5 232,112.5 232.5,112.5 232.9,112.4 233.3,112.4 233.7,112.4 234.1,112.4 234.5,112.4 234.9,112.3 235.3,112.3 235.7,112.3 236.1,112.3 236.5,112.2 236.9,112.2 237.3,112.2 237.6,112.2 238,112.2 238.4,112.1 238.7,112.1 239.1,112.1 239.4,112 239.8,112 240.1,112 240.8,111.9 241.4,111.8 242.1,111.7 242.7,111.5 243.4,111.4 244,111.2 244.6,110.9 245.2,110.6 245.7,110.3 246.3,110 246.9,109.6 247.4,109.1 248,108.7 248.5,108.3 249,107.8 249.6,107.4 250.1,107 250.6,106.6 251.1,106.3 251.6,106.1 252,105.8 252.5,105.6 253,105.5 253.4,105.3 253.9,105.2 254.3,105.1 254.8,105.1 255.2,105 255.7,105 256.1,104.9 256.5,104.9 256.9,104.9 257.3,104.9 257.7,104.8 258.1,104.8 258.5,104.8 258.9,104.8 259.3,104.8 259.7,104.8 260.1,104.8 260.4,104.8 260.8,104.8 261.2,104.8 261.5,104.7 261.9,104.7 262.2,104.7 262.6,104.7 262.9,104.7 263.3,104.7 263.8,104.7 264.3,104.7 264.8,104.7 265.3,104.7 265.8,104.7 266.2,104.7 266.7,104.7 267.2,104.7 267.6,104.7 268.1,104.7 268.5,104.7 268.9,104.7 269.4,104.7 269.8,104.7 270.2,104.6 270.6,104.6 271,104.6 271.4,104.6 271.8,104.6 272.2,104.6 272.6,104.6 273,104.6 273.4,104.6 273.8,104.6 274.1,104.6 274.5,104.6 274.9,104.6 275.2,104.6 275.6,104.6 275.9,104.6 276.3,104.6 276.6,104.6 276.7,104.3 276.8,103.8 277,103"/>
<polyline class="gp" points="86.8,276.3 109.9,196.8 123.5,182.2 133.1,175.5 140.6,159.8 146.7,151.6 151.8,151.6 156.3,143.1 160.2,137.8 163.8,133.9 167,132 169.9,128.4 172.5,127.9 175,124.2 177.3,121.7 179.5,118.9 181.5,117.7 183.4,117.7 185.2,117.5 187,117 188.6,116.2 190.1,116.2 191.6,114.4 193,113.4 194.4,110.3 195.7,107.2 197,105.2 198.2,103 199.4,101.4 200.5,100.9 201.6,100.9 202.7,100.9 203.7,100.9 204.7,100.9 205.7,100.9 206.6,100.9 207.5,100.9 208.4,100.9 209.3,100.9 210.1,100.9 211,100.9 211.8,100.9 212.6,100.9 213.3,100.9 214.1,100.9 214.8,100.9 215.5,100.9 216.2,100.9 216.9,100.9 217.6,100.9 218.3,100.9 218.9,100.9 219.5,100.9 220.2,100.9 220.8,100.9 221.4,100.9 222,100.9 222.6,100.9 223.1,100.9 223.7,100.9 224.2,100.9 224.8,100.9 225.3,100.9 225.9,100.9 226.4,100.9 226.9,100.9 227.4,100.9 227.9,100.9 228.4,100.9 228.9,100.9 229.3,100.9 229.8,100.9 230.3,100.9 230.7,100.9 231.2,100.9 231.6,100.9 232,100.9 232.5,100.9 232.9,100.9 233.3,100.9 233.7,100.9 234.1,100.9 234.5,100.9 234.9,100.9 235.3,100.9 235.7,100.9 236.1,100.9 236.5,100.9 236.9,100.9 237.3,100.9 237.6,100.9 238,100.9 238.4,100.9 238.7,100.9 239.1,100.9 239.4,100.9 239.8,100.9 240.1,100.9 240.8,100.9 241.4,100.9 242.1,100.9 242.7,100.9 243.4,100.9 244,100.9 244.6,100.9 245.2,100.9 245.7,100.9 246.3,100.9 246.9,100.9 247.4,100.9 248,100.9 248.5,100.9 249,100.9 249.6,100.9 250.1,100.9 250.6,100.9 251.1,100.9 251.6,100.9 252,100.9 252.5,100.9 253,100.9 253.4,100.9 253.9,100.9 254.3,100.9 254.8,100.9 255.2,100.9 255.4,100.3 255.7,99.3 255.9,97.8"/>
<polyline class="gp" points="86.8,255.4 109.9,209.5 123.5,183 133.1,157.4 140.6,157.4 146.7,157.4 151.8,157.4 156.3,151.3 160.2,143 163.8,137.3 167,134.2 169.9,129.4 172.5,126.9 175,123.1 177.3,120.2 179.5,118.9 181.5,116.6 183.4,115.4 185.2,114.1 187,113.9 188.6,113 190.1,113 191.6,112.7 193,112.4 194.4,111.4 195.7,109.4 197,107.3 198.2,105.9 199.4,104.1 200.5,102.8 201.6,102.1 202.7,101.8 203.7,101.8 204.7,101.8 205.7,101.8 206.6,101.8 207.5,101.8 208.4,101.8 209.3,101.8 210.1,101.8 211,101.8 211.8,101.8 212.6,101.8 213.3,101.8 214.1,101.8 214.8,101.8 215.5,101.8 216.2,101.8 216.9,101.8 217.6,101.8 218.3,101.8 218.9,101.8 219.5,101.8 220.2,101.8 220.8,101.8 221.4,101.8 222,101.8 222.6,101.8 223.1,101.8 223.7,101.8 224.2,101.8 224.8,101.8 225.3,101.8 225.9,101.8 226.4,101.8 226.9,101.8 227.4,101.8 227.9,101.8 228.4,101.8 228.9,101.8 229.3,101.8 229.8,101.8 230.3,101.8 230.7,101.8 231.2,101.8 231.6,101.8 232,101.8 232.5,101.8 232.9,101.8 233.3,101.8 233.7,101.8 234.1,101.8 234.5,101.8 234.9,101.8 235.3,101.8 235.7,101.8 236.1,101.8 236.5,101.8 236.9,101.8 237.3,101.8 237.6,101.8 238,101.8 238.4,101.8 238.7,101.8 239.1,101.8 239.4,101.8 239.8,101.8 240.1,101.8 240.8,101.8 241.4,101.8 242.1,101.8 242.7,101.8 243.4,101.8 244,101.8 244.6,101.8 245.2,101.8 245.7,101.8 246.3,101.8 246.9,101.8 247.4,101.8 248,101.8 248.5,101.8 249,101.8 249.6,101.8 250.1,101.8 250.6,101.8 251.1,101.8 251.6,101.8 252,101.8 252.5,101.8 253,101.8 253.4,101.8 253.9,101.8 254.3,101.8 254.8,101.8 255.2,101.8 255.7,101.8 256.1,101.8 256.5,101.8 256.9,101.8 257.3,101.8 257.7,101.8 258.1,101.8 258.5,101.8 258.9,101.8 259.3,101.8 259.7,101.8 260.1,101.8 260.4,101.8 260.8,101.8 261.2,101.8 261.5,101.8 261.9,101.8 262.2,101.8 262.6,101.8 262.9,101.8 263.3,101.8 263.8,101.8 264.3,101.8 264.8,101.8 265.3,101.8 265.8,101.8 266.2,101.8 266.7,101.8 267.2,101.8 267.6,101.8 268.1,101.8 268.5,101.8 268.9,101.8 269.4,101.8 269.8,101.8 270.2,101.8 270.6,101.8 271,101.8 271.4,101.8 271.8,101.8 272.2,101.8 272.6,101.8 273,101.8 273.4,101.8 273.8,101.8 274.1,101.8 274.5,101.8 274.9,101.8 275.2,101.8 275.6,101.8 275.9,101.8 276.3,101.8 276.6,101.8 276.7,101.2 276.8,100.3 277,98.7"/>
<polyline class="gp" points="86.8,278.1 109.9,195.9 123.5,186.3 133.1,167.7 140.6,159.1 146.7,153.1 151.8,153.1 156.3,147.9 160.2,139.5 163.8,132.7 167,125.9 169.9,123.4 172.5,121.4 175,118.1 177.3,116.7 179.5,114.5 181.5,114.5 183.4,114.5 185.2,114.5 187,114.5 188.6,114.5 190.1,113.2 191.6,112.6 193,111.5 194.4,111.5 195.7,111.4 197,109.2 198.2,108.1 199.4,107.8 200.5,106.1 201.6,105.2 202.7,104.3 203.7,103.7 204.7,103.5 205.7,103.5 206.6,103.5 207.5,103.5 208.4,103.5 209.3,103.5 210.1,103.5 211,103.5 211.8,103.5 212.6,103.5 213.3,103.5 214.1,103.5 214.8,103.5 215.5,103.5 216.2,103.5 216.9,103.5 217.6,103.5 218.3,103.5 218.9,103.5 219.5,103.5 220.2,102.9 220.8,101.9 221.4,100.4"/>
<polyline class="gp" points="86.8,267.8 109.9,203.3 123.5,186 133.1,172 140.6,163.5 146.7,158.5 151.8,158.5 156.3,148.7 160.2,143 163.8,137.5 167,132.9 169.9,126.8 172.5,123.1 175,120 177.3,119.6 179.5,117.2 181.5,115.7 183.4,115.7 185.2,114.9 187,113.5 188.6,112.1 190.1,112.1 191.6,111.3 193,111.2 194.4,111.1 195.7,111.1 197,109.8 198.2,107.7 199.4,105.7 200.5,104.8 201.6,104.1 202.7,103.9 203.7,103.9 204.7,103.9 205.7,103.9 206.6,103.9 207.5,103.9 208.4,103.9 209.3,103.9 210.1,103.9 211,103.9 211.8,103.9 212.6,103.9 213.3,103.9 214.1,103.9 214.8,103.9 215.5,103.9 216.2,103.9 216.9,103.9 217.6,103.9 218.3,103.9 218.9,103.9 219.5,103.9 220.2,103.9 220.8,103.9 221.4,103.9 222,103.9 222.6,103.9 223.1,103.9 223.7,103.9 224.2,103.9 224.8,103.9 225.3,103.9 225.9,103.9 226.4,103.9 226.9,103.9 227.4,103.9 227.9,103.9 228.4,103.9 228.9,103.9 229.3,103.9 229.8,103.9 230.3,103.9 230.7,103.9 231.2,103.9 231.6,103.9 232,103.9 232.5,103.9 232.9,103.9 233.3,103.9 233.7,103.9 234.1,103.9 234.5,103.9 234.9,103.9 235.3,103.9 235.7,103.9 236.1,103.9 236.5,103.9 236.9,103.9 237.3,103.9 237.6,103.9 238,103.9 238.4,103.9 238.7,103.9 239.1,103.9 239.4,103.9 239.8,103.9 240.1,103.9 240.8,103.9 241.4,103.9 242.1,103.9 242.7,103.9 243.4,103.9 244,103.9 244.6,103.9 245.2,103.9 245.7,103.9 246.3,103.9 246.9,103.9 247.4,103.9 248,103.9 248.5,103.9 249,103.9 249.6,103.9 250.1,103.9 250.3,103.3 250.6,102.3 250.8,100.8"/>
<polyline class="gp" points="86.8,269.1 109.9,221 123.5,195.3 133.1,179.9 140.6,166.4 146.7,166.4 151.8,166.4 156.3,158.1 160.2,153.9 163.8,146.6 167,141.8 169.9,136.6 172.5,132.7 175,129 177.3,126.1 179.5,125.9 181.5,125.9 183.4,124.9 185.2,123.4 187,121 188.6,121 190.1,121 191.6,119.6 193,118.3 194.4,118.3 195.7,118.2 197,118.1 198.2,118.1 199.4,118.1 200.5,117.7 201.6,117.7 202.7,117.2 203.7,116.4 204.7,115.9 205.7,115.9 206.6,115.8 207.5,115.4 208.4,115.4 209.3,115 210.1,114.7 211,114.7 211.8,114.5 212.6,114.4 213.3,114.3 214.1,114.2 214.8,114.1 215.5,114 216.2,113.9 216.9,113.8 217.6,113.7 218.3,113.6 218.9,113.5 219.5,113.4 220.2,113.4 220.8,113.3 221.4,113.2 222,113.1 222.6,113.1 223.1,113 223.7,112.9 224.2,112.9 224.8,112.8 225.3,112.8 225.9,112.7 226.4,112.6 226.9,112.6 227.4,112.5 227.9,112.4 228.4,112.4 228.9,112.3 229.3,112.2 229.8,112.2 230.3,112.1 230.7,112 231.2,112 231.6,111.9 232,111.8 232.5,111.7 232.9,111.6 233.3,111.5 233.7,111.4 234.1,111.3 234.5,111.2 234.9,111.1 235.3,111 235.7,110.9 236.1,110.8 236.5,110.6 236.9,110.5 237.3,110.3 237.6,110.2 238,110 238.4,109.9 238.7,109.7 239.1,109.5 239.4,109.4 239.8,109.2 240.1,109 240.8,108.7 241.4,108.3 242.1,108 242.7,107.6 243.4,107.3 244,107 244.6,106.7 245.2,106.5 245.7,106.3 246.3,106.1 246.9,105.9 247.4,105.8 248,105.7 248.5,105.5 249,105.4 249.6,105.4 250.1,105.3 250.6,105.2 251.1,105.2 251.6,105.1 252,105.1 252.5,105.1 253,105 253.4,105 253.9,105 254.3,105 254.8,104.9 255.2,104.9 255.7,104.9 256.1,104.9 256.5,104.9 256.9,104.9 257.3,104.8 257.7,104.8 258.1,104.8 258.5,104.8 258.9,104.8 259.3,104.8 259.7,104.8 260.1,104.8 260.4,104.8 260.8,104.8 261.2,104.8 261.5,104.7 261.9,104.7 262.2,104.7 262.6,104.7 262.9,104.7 263.3,104.7 263.8,104.7 264.3,104.7 264.8,104.7 265.3,104.7 265.8,104.7 266.2,104.7 266.7,104.6 267.2,104.6 267.6,104.6 268.1,104.6 268.5,104.6 268.9,104.6 269.4,104.6 269.8,104.6 270.2,104.6 270.6,104.6 271,104.6 271.4,104.6 271.8,104.6 272.2,104.6 272.6,104.6 273,104.6 273.4,104.5 273.8,104.5 274.1,104.5 274.5,104.5 274.9,104.5 275.2,104.5 275.6,104.5 275.9,104.5 276.3,104.5 276.6,104.5 276.7,104.2 276.8,103.7 277,103"/>
<polyline class="gp" points="86.8,276.1 109.9,207.4 123.5,191.1 133.1,174.1 140.6,172.8 146.7,163.8 151.8,163.8 156.3,158.6 160.2,153.4 163.8,148.6 167,143.9 169.9,139.9 172.5,137.7 175,134.4 177.3,133.6 179.5,132.2 181.5,129.4 183.4,126.1 185.2,125.3 187,123.4 188.6,122.9 190.1,120.7 191.6,119 193,117.9 194.4,115.6 195.7,114.4 197,112.6 198.2,112.5 199.4,110.8 200.5,110.2 201.6,108.7 202.7,108.4 203.7,107.9 204.7,107.6 205.7,107.2 206.6,107 207.5,106.8 208.4,106.7 209.3,106.7 210.1,106.7 211,106.7 211.8,106.7 212.6,106.6 213.3,106.6 214.1,106.6 214.8,106.6 215.5,106.6 216.2,106.6 216.9,106.6 217.6,106.6 218.3,106.5 218.9,106.5 219.5,106.5 220.2,106.5 220.8,106.5 221.4,106.5 222,106.5 222.6,106.5 223.1,106.5 223.7,106.5 224.2,106.5 224.8,106.5 225.3,106.5 225.9,106.5 226.4,106.5 226.9,106.5 227.4,106.5 227.9,106.5 228.4,106.5 228.9,106.5 229.3,106.5 229.8,106.5 230.3,106.5 230.7,106.5 231.2,106.5 231.6,106.5 232,106.5 232.5,106.5 232.9,106.5 233.3,106.5 233.7,106.5 234.1,106.5 234.5,106.5 234.9,106.5 235.3,105.7 235.7,104.5 236.1,102.4"/>
<polyline class="gp" points="86.8,293.3 109.9,211.2 123.5,190.8 133.1,177.5 140.6,162.8 146.7,160.9 151.8,160.9 156.3,159.8 160.2,153.3 163.8,148.7 167,145.4 169.9,141.2 172.5,137.8 175,135.1 177.3,132.4 179.5,131.1 181.5,128.2 183.4,126.9 185.2,124.3 187,123.4 188.6,122.1 190.1,121.6 191.6,119 193,117.8 194.4,115.7 195.7,114.1 197,113.6 198.2,112.7 199.4,111.7 200.5,110.4 201.6,109.8 202.7,109.1 203.7,108.5 204.7,108.4 205.7,107.8 206.6,107.8 207.5,107.8 208.4,107.8 209.3,107.8 210.1,107.8 211,107.8 211.8,107.7 212.6,107.6 213.3,107.6 214.1,107.6 214.8,107.6 215.5,107.6 216.2,107.6 216.9,107.6 217.6,107.6 218.3,107.5 218.9,107.5 219.5,107.5 220.2,107.5 220.8,106.7 221.4,105.5 222,103.4"/>
<polyline class="gp" points="86.8,282.3 109.9,202.6 123.5,185.2 133.1,169.8 140.6,167.2 146.7,163.3 151.8,163.3 156.3,147.2 160.2,142 163.8,135.2 167,130.6 169.9,128.5 172.5,125.4 175,123.2 177.3,121.8 179.5,118.1 181.5,116.5 183.4,113.8 185.2,113.3 187,111.4 188.6,111.4 190.1,110.4 191.6,110 193,108.8 194.4,108.8 195.7,108.8 197,108.5 198.2,108.5 199.4,108.5 200.5,108.5 201.6,108.5 202.7,108.1 203.7,108.1 204.7,108.1 205.7,107.9 206.6,107.9 207.5,107.9 208.4,107.9 209.3,107.9 210.1,107.9 211,107.9 211.8,107.9 212.6,107.9 213.3,107.9 214.1,107.9 214.8,107.9 215.5,107.9 216.2,107.9 216.9,107.9 217.6,107.9 218.3,107.9 218.9,107.9 219.5,107.9 220.2,107.9 220.8,107.9 221.4,107.9 222,107.9 222.6,107.9 223.1,107.9 223.7,107.9 224.2,107.9 224.8,107.9 225.3,107.9 225.9,107.9 226.4,107.9 226.9,107.9 227.4,107.9 227.9,107.9 228.4,107.9 228.9,107.9 229.3,107.9 229.8,107.9 230.3,107.9 230.7,107.9 231.2,107.9 231.6,107.9 232,107.9 232.5,107.9 232.9,107.9 233.3,107.1 233.7,105.9 234.1,103.8"/>
<polyline class="gp" points="86.8,274.7 109.9,205.2 123.5,189.9 133.1,180.5 140.6,169.1 146.7,165.9 151.8,165.9 156.3,155.7 160.2,149.1 163.8,143 167,138.7 169.9,134.6 172.5,132.2 175,129.4 177.3,127.7 179.5,125.7 181.5,124.6 183.4,123.6 185.2,123.2 187,121.1 188.6,118.8 190.1,117.4 191.6,116.4 193,115.1 194.4,113 195.7,112.6 197,111.6 198.2,110.7 199.4,110.5 200.5,110.2 201.6,109.7 202.7,109.7 203.7,109.7 204.7,109.7 205.7,109.7 206.6,109.7 207.5,109.6 208.4,109.6 209.3,109.6 210.1,109.6 211,109.6 211.8,109.5 212.6,109.5 213.3,109.5 214.1,109.5 214.8,109.5 215.5,109.5 216.2,109.5 216.9,109.5 217.6,109.5 218.3,109.5 218.9,109.5 219.5,109.5 220.2,109.5 220.8,109.5 221.4,109.5 222,109.5 222.6,109.5 223.1,109.5 223.7,109.5 224.2,109.5 224.8,108.7 225.3,107.5 225.9,105.4"/>
<polyline class="gp" points="86.8,265.6 109.9,219.6 123.5,194.2 133.1,183.1 140.6,172 146.7,172 151.8,170.4 156.3,158.4 160.2,152.4 163.8,148.1 167,143.3 169.9,139.2 172.5,137.4 175,134.5 177.3,132.1 179.5,130.3 181.5,128.4 183.4,126.2 185.2,124.4 187,122.7 188.6,120.1 190.1,118.5 191.6,117.3 193,117 194.4,116.7 195.7,114.7 197,113.8 198.2,112.4 199.4,112 200.5,111.9 201.6,111.2 202.7,111 203.7,110.9 204.7,110.9 205.7,110.6 206.6,110.5 207.5,110.4 208.4,110.4 209.3,110.4 210.1,110.4 211,110.4 211.8,110.4 212.6,110.4 213.3,110.4 214.1,110.4 214.8,110.4 215.5,110.4 216.2,110.4 216.9,110.4 217.6,110.4 218.3,110.4 218.9,110.4 219.5,110.4 220.2,110.4 220.8,110.4 221.4,110.4 222,110.4 222.6,110.4 223.1,110.4 223.7,110.4 224.2,110.4 224.8,110.4 225.3,110.4 225.9,110.4 226.4,110.4 226.9,110.4 227.4,110.4 227.9,110.4 228.4,110.4 228.9,110.4 229.3,110.4 229.8,110.4 230.3,110.4 230.7,110.4 231.2,110.4 231.6,110.4 232,110.4 232.5,110.4 232.9,110.4 233.3,110.4 233.7,110.4 234.1,110.4 234.5,110.4 234.9,110.4 235.3,110.4 235.7,110.4 236.1,109.6 236.5,108.4 236.9,106.3"/>
<polyline class="gp" points="86.8,283 109.9,206.5 123.5,187.6 133.1,179 140.6,167.2 146.7,167.2 151.8,159.2 156.3,150.3 160.2,146.1 163.8,139.9 167,133.7 169.9,131.1 172.5,128.3 175,126.4 177.3,124.7 179.5,122 181.5,118.9 183.4,117.8 185.2,117 187,115 188.6,114.8 190.1,113.4 191.6,112.1 193,111.4 194.4,111.4 195.7,111.4 197,111.4 198.2,111.4 199.4,111.4 200.5,111.4 201.6,111.4 202.7,111.4 203.7,111.4 204.7,111.1 205.7,111.1 206.6,111.1 207.5,111.1 208.4,111.1 209.3,111.1 210.1,111.1 211,111.1 211.8,111.1 212.6,111.1 213.3,110.3 214.1,109.1 214.8,107"/>
<polyline class="gp" points="86.8,272.2 109.9,215.2 123.5,191 133.1,177.6 140.6,167.9 146.7,164.4 151.8,164.4 156.3,155.5 160.2,150 163.8,146.4 167,143.4 169.9,139.1 172.5,135.3 175,133.6 177.3,129.7 179.5,126.8 181.5,125.3 183.4,122.9 185.2,121.1 187,119.1 188.6,117.9 190.1,115.8 191.6,114.6 193,113.3 194.4,112.4 195.7,112.4 197,112.4 198.2,111.9 199.4,111.9 200.5,111.9 201.6,111.5 202.7,111.5 203.7,111.5 204.7,111.5 205.7,111.5 206.6,111.5 207.5,111.5 208.4,111.5 209.3,111.5 210.1,111.5 211,111.5 211.8,111.5 212.6,111.5 213.3,111.5 214.1,111.5 214.8,111.5 215.5,111.5 216.2,111.5 216.9,111.5 217.6,111.5 218.3,111.5 218.9,111.5 219.5,111.5 220.2,111.5 220.8,111.5 221.4,111.5 222,111.5 222.6,111.5 223.1,111.5 223.7,111.5 224.2,111.5 224.8,111.5 225.3,111.5 225.9,111.5 226.4,111.5 226.9,111.5 227.4,111.5 227.9,111.5 228.4,111.5 228.9,111.5 229.3,111.5 229.8,111.5 230.3,111.5 230.7,111.5 231.2,111.5 231.6,111.5 232,110.7 232.5,109.4 232.9,107.4"/>
<polyline class="gp" points="86.8,299.5 109.9,212.1 123.5,186.8 133.1,168.8 140.6,156.2 146.7,156.2 151.8,156.2 156.3,156.2 160.2,151.8 163.8,147.5 167,143.1 169.9,137.7 172.5,136.4 175,134.4 177.3,132.1 179.5,129.7 181.5,128.3 183.4,126 185.2,124 187,122.3 188.6,119.6 190.1,118.2 191.6,117.2 193,116.9 194.4,116.1 195.7,115 197,115 198.2,114.7 199.4,114.7 200.5,114.5 201.6,114.1 202.7,113.6 203.7,113.6 204.7,113.3 205.7,113 206.6,113 207.5,113 208.4,113 209.3,113 210.1,113 211,113 211.8,113 212.6,113 213.3,113 214.1,113 214.8,113 215.5,113 216.2,113 216.9,113 217.6,113 218.3,113 218.9,113 219.5,113 220.2,113 220.8,113 221.4,113 222,113 222.6,113 223.1,113 223.7,113 224.2,113 224.8,113 225.3,113 225.9,113 226.4,113 226.9,113 227.4,113 227.9,113 228.4,113 228.9,113 229.3,113 229.8,113 230.3,113 230.7,113 231.2,113 231.6,113 232,113 232.5,113 232.9,113 233.3,113 233.7,113 234.1,113 234.5,113 234.9,113 235.3,113 235.7,113 236.1,113 236.5,113 236.9,113 237.3,112.2 237.6,110.9 238,108.9"/>
<polyline class="gp" points="86.8,275.2 109.9,215.2 123.5,194.8 133.1,179.6 140.6,169.2 146.7,166.7 151.8,164.3 156.3,155.9 160.2,150.4 163.8,145.9 167,140.6 169.9,137.2 172.5,134.3 175,132 177.3,128.9 179.5,128.1 181.5,124.8 183.4,123.9 185.2,121.5 187,120.5 188.6,118.6 190.1,118.6 191.6,117.9 193,117.9 194.4,117.9 195.7,117.9 197,117.9 198.2,117.8 199.4,117.3 200.5,117.3 201.6,117.3 202.7,117.3 203.7,117.3 204.7,117.3 205.7,117.3 206.6,117.3 207.5,117.3 208.4,117.3 209.3,117.3 210.1,117.3 211,117.3 211.8,117.3 212.6,117.3 213.3,117.3 214.1,117.3 214.8,117.3 215.5,117.3 216.2,117.3 216.9,117.3 217.6,117.3 218.3,117.3 218.9,117.3 219.5,117.3 220.2,117.3 220.8,117.3 221.4,117.3 222,117.3 222.6,117.3 223.1,117.3 223.7,117.3 224.2,117.3 224.8,117.3 225.3,117.3 225.9,117.3 226.4,117.3 226.9,117.3 227.4,117.3 227.9,117.3 228.4,117.3 228.9,117.3 229.3,117.3 229.8,117.3 230.3,117.3 230.7,117.3 231.2,117.3 231.6,117.3 232,117.3 232.5,117.3 232.9,117.3 233.3,117.3 233.7,117.3 234.1,117.3 234.5,117.3 234.9,117.3 235.3,117.3 235.7,117.3 236.1,117.3 236.5,117.3 236.9,117.3 237.3,117.3 237.6,117.3 238,117.3 238.4,117.3 238.7,117.3 239.1,117.3 239.4,117.3 239.8,117.3 240.1,117.3 240.8,117.3 241.4,117.3 242.1,117.3 242.7,117.3 243.4,117.3 244,117.3 244.6,117.3 245.2,117.3 245.7,117.3 246.3,117.3 246.9,117.3 247.4,117.3 248,117.3 248.5,117.3 249,117.3 249.6,117.3 250.1,117.3 250.6,117.3 251.1,117.3 251.6,117.3 252,117.3 252.5,117.3 253,117.3 253.4,117.3 253.9,117.3 254.3,117.3 254.8,117.3 255.2,117.3 255.7,117.3 256.1,117.3 256.5,117.3 256.9,117.3 257.3,117.3 257.7,117.3 258.1,117.3 258.5,117.3 258.9,117.3 259.3,117.3 259.7,117.3 260.1,117.3 260.4,117.3 260.8,117.3 261.2,117.3 261.5,117.3 261.9,117.3 262.2,117.3 262.6,117.3 262.9,117.3 263.3,117.3 263.8,117.3 264.3,117.3 264.8,117.3 265.3,117.3 265.8,117.3 266.2,117.3 266.7,117.3 267.2,117.3 267.6,117.3 268.1,117.3 268.5,117.3 268.9,117.3 269.4,117.3 269.8,117.3 270.2,117.3 270.6,117.3 271,117.3 271.4,117.3 271.8,117.3 272.2,117.3 272.6,117.3 273,117.3 273.4,117.3 273.8,117.3 274.1,117.3 274.5,117.3 274.9,117.3 275.2,117.3 275.6,117.3 275.9,117.3 276.3,117.3 276.6,117.3 277,117.3 277.4,117.3 277.9,117.3 278.3,117.3 278.7,117.3 279.2,117.3 279.6,117.3 280,117.3 280.4,117.3 280.8,117.3 281.2,117.3 281.6,117.3 282,117.3 282.4,117.3 282.8,117.3 283.2,117.3 283.5,117.3 283.9,117.3 284.3,117.3 284.6,117.3 285,117.3 285.3,117.3 285.7,117.3 286,117.3 286.4,117.3 286.7,117.3 287.1,117.3 287.5,117 287.6,116.5 287.6,115.8"/>
<polyline class="gp" points="86.8,304 109.9,212.1 123.5,195.3 133.1,176 140.6,164.2 146.7,163.9 151.8,163.9 156.3,163.7 160.2,159.2 163.8,154.1 167,149.9 169.9,145.4 172.5,142.2 175,138.5 177.3,135.6 179.5,134.1 181.5,133 183.4,130.8 185.2,128.3 187,126.3 188.6,124.8 190.1,124.5 191.6,123.3 193,122.5 194.4,120.9 195.7,120.1 197,118.9 198.2,118.3 199.4,117.8 200.5,116.5 201.6,116.5 202.7,116.4 203.7,115.7 204.7,115.5 205.7,115.4 206.6,115.4 207.5,115.4 208.4,115.4 209.3,115.4 210.1,115.4 211,115.4 211.8,115.4 212.6,115.4 213.3,115.4 214.1,115.4 214.8,115.4 215.5,115.4 216.2,115.4 216.9,115.4 217.6,115.4 218.3,115.4 218.9,115.4 219.5,115.4 220.2,115.4 220.8,115.4 221.4,115.4 222,115.4 222.6,115.4 223.1,115.4 223.7,115.4 224.2,115.4 224.8,115.4 225.3,115.4 225.9,115.4 226.4,115.4 226.9,115.4 227.4,115.4 227.9,115.4 228.4,115.4 228.9,115.4 229.3,115.4 229.8,115.4 230.3,115.4 230.7,115.4 231.2,115.4 231.6,115.4 232,115.4 232.5,115.4 232.9,115.4 233.3,115.4 233.7,115.4 234.1,115.4 234.5,115.4 234.9,115.4 235.3,115.4 235.7,115.4 236.1,115.4 236.5,115.4 236.9,115.4 237.3,115.4 237.6,115.4 238,115.4 238.4,115.4 238.7,115.4 239.1,115.4 239.4,115.4 239.8,115.4 240.1,115.4 240.8,115.4 241.4,115.4 242.1,115.4 242.7,115.4 243.4,115.4 244,115.4 244.6,115.4 245.2,115.4 245.7,115.4 246.3,115.4 246.9,115.4 247.4,115.4 248,115.4 248.5,115.4 249,115.4 249.6,115.4 250.1,115.4 250.6,115.4 251.1,115.4 251.6,115.4 252,115.4 252.5,115.4 253,115.4 253.4,115.4 253.9,115.4 254.3,115.4 254.8,115.4 255.2,115.4 255.7,115.4 256.1,115.4 256.5,115.4 256.9,115.4 257.3,115.4 257.7,115.4 258.1,115.4 258.5,115.4 258.9,115.4 259.3,115.4 259.7,115.4 260.1,115.4 260.4,115.4 260.8,115.4 261.2,115.4 261.5,115.4 261.9,115.4 262.2,115.4 262.6,115.4 262.9,115.4 263.3,115.4 263.8,115.4 264.3,115.4 264.8,115.4 265.3,115.4 265.8,115.4 266.2,115.4 266.7,115.4 267.2,115.4 267.6,115.4 268.1,115.4 268.5,115.4 268.9,115.4 269.4,115.4 269.8,115.4 270.2,115.4 270.6,115.4 271,115.4 271.4,115.4 271.8,115.4 272.2,115.4 272.6,115.4 273,115.4 273.4,115.4 273.8,115.4 274.1,115.4 274.5,115.4 274.9,115.4 275.2,115.4 275.6,115.4 275.9,115.4 276.3,115.4 276.6,115.4 277,115.4 277.4,115.4 277.9,115.4 278.3,115.4 278.7,115.4 279.2,115.4 279.6,115.4 280,115.4 280.4,115.4 280.8,115.4 281.2,115.4 281.6,115.4 282,115.4 282.4,115.4 282.8,115.4 283.2,115.4 283.5,115.4 283.8,115.1 283.9,114.5 284,113.6"/>
<polyline class="gp" points="86.8,295.1 109.9,218.8 123.5,202.4 133.1,185.9 140.6,168.8 146.7,167.7 151.8,167.7 156.3,159.9 160.2,154.8 163.8,149.9 167,144.7 169.9,140.9 172.5,135.6 175,133.1 177.3,130.9 179.5,130.9 181.5,129.1 183.4,128 185.2,125.2 187,124.4 188.6,122.7 190.1,121.8 191.6,120.4 193,120.4 194.4,120.2 195.7,119.5 197,119.5 198.2,119.5 199.4,119.5 200.5,119.2 201.6,119.2 202.7,119.2 203.7,119.2 204.7,119.2 205.7,119.2 206.6,119.2 207.5,119.2 208.4,119.2 209.3,119.2 210.1,119.2 211,119.2 211.8,119.2 212.6,119.2 213.3,119.2 214.1,119.2 214.8,119.2 215.5,119.2 216.2,119.2 216.9,119.2 217.6,119.2 218.3,119.2 218.9,119.2 219.5,119.2 220.2,119.2 220.8,119.2 221.4,119.2 222,119.2 222.6,119.2 223.1,119.2 223.7,119.2 224.2,119.2 224.8,119.2 225.3,119.2 225.9,119.2 226.4,119.2 226.9,119.2 227.4,119.2 227.9,119.2 228.4,119.2 228.9,119.2 229.3,119.2 229.8,119.2 230.3,119.2 230.7,119.2 231.2,119.2 231.6,119.2 232,119.2 232.5,119.2 232.9,119.2 233.3,119.2 233.7,119.2 234.1,119.2 234.5,119.2 234.9,119.2 235.3,118.6 235.7,117.7 236.1,116.1"/>
<polyline class="gp" points="86.8,285.6 109.9,221.6 123.5,193.1 133.1,173.7 140.6,166 146.7,166 151.8,166 156.3,158.6 160.2,153.1 163.8,147.8 167,146 169.9,140.5 172.5,136 175,136 177.3,133.8 179.5,131.5 181.5,127.9 183.4,126.2 185.2,124.3 187,122.7 188.6,121 190.1,119.6 191.6,119.2 193,118 194.4,118 195.7,117.9 197,117.2 198.2,116.9 199.4,116.7 200.5,116.7 201.6,116.7 202.7,116.7 203.7,116.7 204.7,116.7 205.7,116.6 206.6,116.6 207.5,116.6 208.4,116.6 209.3,116.6 210.1,116.6 211,116.6 211.8,116.6 212.6,116.6 213.3,116.6 214.1,116.6 214.8,116.6 215.5,116.6 216.2,116.6 216.9,116.6 217.6,116.6 218.3,116.6 218.9,116.6 219.5,116.6 220.2,116.6 220.8,116.6 221.4,116.6 222,116.6 222.6,116.6 223.1,116.6 223.7,116.6 224.2,116.6 224.8,116.6 225.3,116 225.9,115 226.4,113.5"/>
<polyline class="gp" points="86.8,286.6 109.9,230.3 123.5,201.3 133.1,188.3 140.6,170.1 146.7,168.9 151.8,168.8 156.3,160.7 160.2,155.6 163.8,149.7 167,145.3 169.9,141.5 172.5,138.1 175,135.2 177.3,133.6 179.5,131.8 181.5,130.3 183.4,128.2 185.2,126.5 187,125.3 188.6,123.5 190.1,122.4 191.6,121.6 193,119.1 194.4,118.5 195.7,118.2 197,118.2 198.2,118 199.4,117.3 200.5,116.8 201.6,116.1 202.7,116.1 203.7,116.1 204.7,116.1 205.7,116.1 206.6,116.1 207.5,116.1 208.4,116.1 209.3,116.1 210.1,116.1 211,116.1 211.8,116.1 212.6,116.1 213.3,116.1 214.1,116.1 214.8,116.1 215.5,116.1 216.2,116.1 216.9,116.1 217.6,116.1 218.3,116.1 218.9,116.1 219.5,116.1 220.2,116.1 220.8,116.1 221.4,116.1 222,116.1 222.6,116.1 223.1,116.1 223.7,116.1 224.2,116.1 224.8,116.1 225.3,116.1 225.9,116.1 226.4,116.1 226.9,116.1 227.4,116.1 227.9,116.1 228.4,116.1 228.9,116.1 229.3,116.1 229.8,116.1 230.3,116.1 230.7,116.1 231.2,116.1 231.6,116.1 232,116.1 232.5,116.1 232.9,116.1 233.3,116.1 233.7,116.1 234.1,116.1 234.5,116.1 234.9,116.1 235.3,116.1 235.7,116.1 236.1,116.1 236.5,116.1 236.9,116.1 237.3,116.1 237.6,116.1 238,116.1 238.4,116.1 238.7,116.1 239.1,116.1 239.4,116.1 239.8,116.1 240.1,116.1 240.8,116.1 241.4,116.1 242.1,116.1 242.7,116.1 243.4,116.1 244,116.1 244.6,116.1 245.2,116.1 245.7,116.1 246.3,116.1 246.9,116.1 247.4,116.1 248,116.1 248.5,116.1 249,116.1 249.6,116.1 250.1,116.1 250.6,116.1 251.1,116.1 251.6,116.1 252,116.1 252.5,116.1 253,116.1 253.4,116.1 253.9,116.1 254.3,116.1 254.8,116.1 255.2,116.1 255.7,116.1 256.1,116.1 256.5,116.1 256.9,116.1 257.3,116.1 257.7,116.1 258.1,116.1 258.5,116.1 258.9,116.1 259.3,116.1 259.7,116.1 260.1,116.1 260.4,116.1 260.8,116.1 261.2,116.1 261.5,116.1 261.9,116.1 262.2,116.1 262.6,116.1 262.9,116.1 263.3,116.1 263.8,116.1 264.1,115.6 264.3,114.9 264.5,113.6"/>
<polyline class="gp" points="86.8,308.8 109.9,207.8 123.5,192 133.1,178.3 140.6,170.6 146.7,170.5 151.8,163 156.3,154.1 160.2,148.4 163.8,143.1 167,138.6 169.9,135.2 172.5,130.6 175,128.4 177.3,127.3 179.5,126.6 181.5,123.6 183.4,122.2 185.2,121.1 187,121.1 188.6,121.1 190.1,121.1 191.6,121.1 193,120.4 194.4,120.2 195.7,120.2 197,120.1 198.2,119.5 199.4,119.3 200.5,119.2 201.6,119.2 202.7,119.2 203.7,119.2 204.7,119.2 205.7,119.2 206.6,119.2 207.5,119.2 208.4,119.2 209.3,119.2 210.1,119.2 211,119.2 211.8,119.2 212.6,119.2 213.3,119.2 214.1,119.2 214.8,119.2 215.5,119.2 216.2,119.2 216.9,119.2 217.6,119.2 218.3,119.2 218.9,119.2 219.5,119.2 220.2,119.2 220.8,119.2 221.4,119.2 222,119.2 222.6,119.2 223.1,119.2 223.7,119.2 224.2,119.2 224.8,119.2 225.3,119.2 225.9,119.2 226.4,119.2 226.9,119.2 227.4,119.2 227.9,119.2 228.4,119.2 228.9,119.2 229.3,119.2 229.8,119.2 230.3,119.2 230.7,119.2 231.2,119.2 231.6,119.2 232,119.2 232.5,119.2 232.9,119.2 233.3,119.2 233.7,119.2 234.1,119.2 234.5,119.2 234.9,119.2 235.3,119.2 235.7,119.2 236.1,119.2 236.5,119.2 236.9,119.2 237.3,119.2 237.6,119.2 238,119.2 238.4,119.2 238.7,119.2 239.1,119.2 239.4,119.2 239.8,119.2 240.1,119.2 240.8,119.2 241.4,119.2 242.1,119.2 242.7,119.2 243.4,119.2 244,119.2 244.6,119.2 245.2,119.2 245.7,119.2 246.3,119.2 246.9,119.2 247.4,119.2 248,119.2 248.5,119.2 249,119.2 249.6,119.2 250.1,119.2 250.6,119.2 251.1,119.2 251.6,119.2 252,119.2 252.5,119.2 253,119.2 253.4,119.2 253.9,119.2 254.3,119.2 254.8,119.2 255.2,119.2 255.7,119.2 256.1,119.2 256.5,119.2 256.9,119.2 257.3,119.2 257.7,119.2 258.1,119.2 258.5,119.2 258.9,119.2 259.3,119.2 259.7,119.2 260.1,119.2 260.4,119.2 260.8,119.2 261.2,119.2 261.5,119.2 261.9,119.2 262.2,119.2 262.6,119.2 262.9,119.2 263.3,119.2 263.8,119.2 264.3,119.2 264.8,119.2 265.3,119.2 265.8,119.2 266.2,119.2 266.7,119.2 267.2,119.2 267.6,119.2 268.1,119.2 268.5,119.2 268.9,119.2 269.4,119.2 269.8,119.2 270.2,119.2 270.6,119.2 271,119.2 271.4,119.2 271.8,119.2 272.2,119.2 272.6,119.2 273,119.2 273.4,119.2 273.8,119.2 274.1,119.2 274.5,119.2 274.9,119.2 275.2,119.2 275.6,119.2 275.9,119.2 276.3,119.2 276.6,119.2 277,119.2 277.4,119.2 277.9,119.2 278.3,119.2 278.7,119.2 279.2,119.2 279.6,119.2 280,119.2 280.4,119.2 280.8,119.2 281.2,119.2 281.6,119.2 282,119.2 282.3,118.6 282.4,117.7 282.5,116.1"/>
<polyline class="gp" points="86.8,293 109.9,212.2 123.5,194.4 133.1,183.6 140.6,179.8 146.7,174.5 151.8,174.5 156.3,169.1 160.2,161.5 163.8,154.8 167,151.9 169.9,148 172.5,145.2 175,143.8 177.3,141.7 179.5,140.9 181.5,137.6 183.4,136.5 185.2,133.8 187,131.8 188.6,130.4 190.1,129.2 191.6,128.2 193,127.3 194.4,126.5 195.7,125.4 197,124.6 198.2,123.9 199.4,122.9 200.5,121.7 201.6,121 202.7,120 203.7,120 204.7,120 205.7,120 206.6,120 207.5,120 208.4,119.9 209.3,119.9 210.1,119.9 211,119.9 211.8,119.9 212.6,119.9 213.3,119.9 214.1,119.9 214.8,119.9 215.5,119.9 216.2,119.9 216.9,119.3 217.6,118.4 218.3,116.8"/>
<polyline class="gp" points="86.8,317.5 109.9,221.8 123.5,208.7 133.1,194.8 140.6,178.5 146.7,173.1 151.8,166.3 156.3,158.1 160.2,151.7 163.8,146.9 167,141.8 169.9,138.5 172.5,135.3 175,131 177.3,129.5 179.5,128.7 181.5,127.8 183.4,125.2 185.2,124.2 187,123.1 188.6,120.8 190.1,119.5 191.6,118.6 193,118.6 194.4,118.6 195.7,118.5 197,117.7 198.2,117.6 199.4,117.6 200.5,117.6 201.6,117.4 202.7,117.4 203.7,117.4 204.7,116.8 205.7,115.8 206.6,114.3"/>
<polyline class="gp" points="86.8,280.2 109.9,210.6 123.5,198.2 133.1,179.5 140.6,175.8 146.7,175.1 151.8,169.7 156.3,156.9 160.2,153 163.8,146.1 167,143.8 169.9,138.1 172.5,135.5 175,132.4 177.3,131.8 179.5,130.4 181.5,129.1 183.4,127.2 185.2,125.2 187,123.8 188.6,123 190.1,122.4 191.6,122.2 193,122.2 194.4,122.2 195.7,122.1 197,122 198.2,122 199.4,122 200.5,122 201.6,122 202.7,122 203.7,122 204.7,122 205.7,122 206.6,122 207.5,122 208.4,122 209.3,122 210.1,122 211,122 211.8,122 212.6,122 213.3,122 214.1,122 214.8,122 215.5,122 216.2,122 216.9,122 217.6,122 218.3,122 218.9,122 219.5,122 220.2,122 220.8,122 221.4,122 222,122 222.6,122 223.1,122 223.7,122 224.2,122 224.8,121.4 225.3,120.4 225.9,118.9"/>
<polyline class="gp" points="86.8,293.7 109.9,219.1 123.5,195.1 133.1,181.5 140.6,166.9 146.7,166.9 151.8,166.9 156.3,165.2 160.2,160.5 163.8,154.4 167,150.3 169.9,146.3 172.5,143.4 175,140.3 177.3,138.7 179.5,137.3 181.5,134.4 183.4,132.3 185.2,131.2 187,129.2 188.6,128.3 190.1,127.2 191.6,124.4 193,124.3 194.4,123.1 195.7,122 197,121.6 198.2,119.8 199.4,118.8 200.5,117.5 201.6,117.1 202.7,116.9 203.7,116.3 204.7,115.9 205.7,115.9 206.6,115.9 207.5,115.7 208.4,115.7 209.3,115.7 210.1,115.7 211,115.7 211.8,115.7 212.6,115.7 213.3,115.6 214.1,115.6 214.8,115.6 215.5,115.6 216.2,115.6 216.9,115.6 217.6,115.6 218.3,115.6 218.9,115.6 219.5,115.6 220.2,115.6 220.8,115.6 221.4,115.6 222,115.6 222.6,115.6 223.1,115.6 223.7,115.6 224.2,115.6 224.8,115.6 225.3,115.6 225.9,115.6 226.4,115.6 226.9,115.6 227.4,115.6 227.9,115.6 228.4,115.6 228.9,115.6 229.3,115.6 229.8,115.6 230.3,115.6 230.7,115.6 231.2,115.6 231.6,115.6 232,115.6 232.5,115.6 232.9,115.6 233.3,115.6 233.7,115.6 234.1,115.6 234.5,115.6 234.9,115.6 235.3,115.6 235.7,115.6 236.1,115.6 236.5,115.6 236.9,115.6 237.3,115.6 237.6,115.6 238,115.6 238.4,115.6 238.7,115.6 239.1,115.6 239.4,115.6 239.8,115.6 240.1,115.6 240.8,115.6 241.4,115.6 242.1,115.6 242.7,115.6 243.4,115.6 244,115.6 244.6,115.6 245.2,115.6 245.7,115.6 246.3,115.6 246.9,115.6 247.4,115.6 248,115.6 248.5,115.6 249,115.6 249.6,115.6 250.1,115.6 250.6,115.6 251.1,115.6 251.6,115.6 252,115.6 252.5,115.6 253,115.6 253.4,115.6 253.9,115.6 254.3,115.6 254.8,115.6 255.2,115.6 255.7,115.6 256.1,115.6 256.5,115.6 256.9,115.6 257.3,115.6 257.7,115.6 258.1,115.6 258.5,115.6 258.9,115.6 259.3,115.6 259.7,115.6 260.1,115.6 260.4,115.6 260.8,115.6 261.2,115.6 261.5,115.6 261.9,115.6 262.2,115.6 262.6,115.6 262.9,115.6 263.3,115.6 263.8,115.6 264.3,115.6 264.8,115.6 265.3,115.6 265.8,115.6 266.2,115.6 266.7,115.6 267.2,115.6 267.6,115.6 268.1,115.6 268.5,115.6 268.9,115.6 269.4,115.6 269.8,115.6 270.2,115.6 270.6,115.6 271,115.6 271.4,115.6 271.8,115.6 272.2,115.6 272.6,115.6 273,115.6 273.4,115.6 273.8,115.6 274.1,115.6 274.5,115.6 274.9,115.6 275.2,115.6 275.6,115.6 275.9,115.6 276.3,115.6 276.6,115.6 277,115.6 277.4,115.6 277.9,115.6 278.3,115.6 278.7,115.6 279.2,115.6 279.6,115.6 280,115.6 280.4,115.6 280.8,115.6 281.2,115.6 281.6,115.6 282,115.6 282.4,115.6 282.8,115.6 283.2,115.6 283.5,115.6 283.9,115.6 284.3,115.6 284.6,115.6 285,115.6 285.3,115.6 285.7,115.6 286,115.6 286.4,115.6 286.7,115.6 287.1,115.6 287.5,115.4 287.6,115 287.6,114.3"/>
<polyline class="gp" points="86.8,281.8 109.9,221.2 123.5,199.4 133.1,194.4 140.6,182.3 146.7,176.2 151.8,170.7 156.3,162.6 160.2,157.8 163.8,150.9 167,146.4 169.9,142.3 172.5,140.1 175,139.5 177.3,137 179.5,134.9 181.5,132.9 183.4,130.3 185.2,129.1 187,127.8 188.6,127.3 190.1,125.7 191.6,124.9 193,123.7 194.4,123.4 195.7,123.4 197,123.4 198.2,123.4 199.4,123.4 200.5,123.4 201.6,123.3 202.7,122.9 203.7,122.9 204.7,122.9 205.7,122.9 206.6,122.9 207.5,122.6 208.4,122.6 209.3,122.6 210.1,122.6 211,122.6 211.8,122.6 212.6,122.6 213.3,122.6 214.1,122.6 214.8,122.6 215.5,122.6 216.2,122.6 216.9,122.6 217.6,122.6 218.3,122.6 218.9,122.6 219.5,122.6 220.2,122.6 220.8,122.6 221.4,122.6 222,122.6 222.6,122.6 223.1,122.6 223.7,122.6 224.2,122.6 224.8,122.6 225.3,122.6 225.9,122.6 226.4,122.6 226.9,122.6 227.4,122.6 227.9,122.6 228.4,122.6 228.9,122.6 229.3,122.6 229.8,122.6 230.3,122.6 230.7,122.6 231.2,122.6 231.6,122.6 232,122.6 232.5,122.6 232.9,122.6 233.3,122.6 233.7,122.6 234.1,122.6 234.5,122.6 234.9,122.6 235.3,122.6 235.7,122.6 236.1,122.6 236.5,122.6 236.9,122.6 237.3,122.6 237.6,122.6 238,122.6 238.4,122.6 238.7,122.6 239.1,122.6 239.4,122.6 239.8,122.6 240.1,122.6 240.8,122.6 241.4,122.6 242.1,122.6 242.7,122.6 243.4,122.6 244,122.6 244.6,122.6 245.2,122.6 245.7,122.6 246.3,122.6 246.9,122.6 247.4,122.6 248,122.6 248.5,122 248.8,121 249,119.5"/>
<polyline class="gp" points="86.8,311.2 109.9,223.1 123.5,199.5 133.1,183.8 140.6,176.3 146.7,176.3 151.8,175.4 156.3,161.3 160.2,154.4 163.8,149.9 167,146.9 169.9,142.4 172.5,139.4 175,137.2 177.3,133.1 179.5,132.9 181.5,130.7 183.4,128.1 185.2,127.3 187,124.6 188.6,123.7 190.1,122.1 191.6,121.2 193,120.5 194.4,119.2 195.7,118.4 197,117.7 198.2,117.7 199.4,117.7 200.5,117.6 201.6,117.2 202.7,117 203.7,117 204.7,117 205.7,117 206.6,117 207.5,117 208.4,117 209.3,117 210.1,117 211,117 211.8,117 212.6,117 213.3,117 214.1,117 214.8,117 215.5,117 216.2,117 216.9,117 217.6,117 218.3,117 218.9,117 219.5,117 220.2,117 220.8,117 221.4,117 222,117 222.6,117 223.1,117 223.7,117 224.2,117 224.8,117 225.3,117 225.9,117 226.4,117 226.9,117 227.4,117 227.9,117 228.4,117 228.9,117 229.3,117 229.8,117 230.3,117 230.7,117 231.2,117 231.6,117 232,117 232.5,117 232.9,117 233.3,117 233.7,117 234.1,117 234.5,117 234.9,117 235.3,117 235.7,117 236.1,117 236.5,117 236.9,117 237.3,117 237.6,117 238,117 238.4,117 238.7,117 239.1,117 239.4,117 239.8,117 240.1,117 240.8,117 241.4,117 242.1,117 242.7,117 243.4,117 244,117 244.6,117 245.2,117 245.7,117 246.3,116.5 246.6,115.6 246.9,114.2"/>
<polyline class="gp" points="86.8,299.2 109.9,228.5 123.5,198.3 133.1,187.6 140.6,174.6 146.7,174.6 151.8,174.6 156.3,160.9 160.2,155.1 163.8,150.7 167,145 169.9,141 172.5,137.6 175,136.5 177.3,135.6 179.5,133.4 181.5,129.7 183.4,129.1 185.2,128.1 187,125.2 188.6,124.4 190.1,122.6 191.6,120.8 193,120 194.4,119.8 195.7,119.7 197,119.4 198.2,119.4 199.4,119.1 200.5,118.8 201.6,118.8 202.7,118.8 203.7,118.8 204.7,118.8 205.7,118.8 206.6,118.8 207.5,118.8 208.4,118.8 209.3,118.8 210.1,118.8 211,118.8 211.8,118.8 212.6,118.8 213.3,118.8 214.1,118.8 214.8,118.8 215.5,118.8 216.2,118.8 216.9,118.8 217.6,118.8 218.3,118.8 218.9,118.8 219.5,118.8 220.2,118.8 220.8,118.8 221.4,118.8 222,118.8 222.6,118.8 223.1,118.8 223.7,118.8 224.2,118.8 224.8,118.8 225.3,118.8 225.9,118.8 226.4,118.8 226.9,118.8 227.4,118.8 227.9,118.8 228.4,118.8 228.9,118.8 229.3,118.8 229.8,118.8 230.3,118.8 230.7,118.8 231.2,118.8 231.6,118.8 232,118.8 232.5,118.8 232.9,118.8 233.3,118.8 233.7,118.8 234.1,118.8 234.5,118.8 234.9,118.8 235.3,118.8 235.7,118.8 236.1,118.8 236.5,118.8 236.9,118.8 237.3,118.8 237.6,118.8 238,118.8 238.4,118.8 238.7,118.8 239.1,118.8 239.4,118.8 239.8,118.8 240.1,118.8 240.8,118.8 241.4,118.8 242.1,118.8 242.7,118.8 243.4,118.8 244,118.8 244.6,118.8 245.2,118.8 245.7,118.8 246.3,118.8 246.9,118.8 247.4,118.8 248,118.8 248.5,118.8 249,118.8 249.6,118.8 250.1,118.8 250.6,118.8 251.1,118.8 251.6,118.8 252,118.8 252.5,118.8 253,118.8 253.4,118.8 253.9,118.8 254.3,118.8 254.8,118.8 255.2,118.8 255.7,118.8 256.1,118.8 256.5,118.8 256.9,118.8 257.3,118.8 257.7,118.8 258.1,118.8 258.5,118.8 258.9,118.8 259.3,118.8 259.7,118.8 260.1,118.8 260.4,118.8 260.8,118.8 261.2,118.8 261.5,118.8 261.9,118.8 262.2,118.8 262.6,118.8 262.9,118.8 263.3,118.8 263.8,118.8 264.3,118.8 264.8,118.8 265.3,118.8 265.8,118.8 266.2,118.8 266.7,118.8 267.2,118.8 267.6,118.8 268.1,118.8 268.5,118.8 268.9,118.8 269.4,118.8 269.8,118.8 270.2,118.8 270.6,118.8 271,118.8 271.4,118.8 271.8,118.8 272.2,118.8 272.6,118.8 273,118.8 273.4,118.8 273.8,118.8 274.1,118.8 274.5,118.8 274.9,118.8 275.2,118.8 275.6,118.8 275.9,118.8 276.3,118.8 276.6,118.8 277,118.8 277.4,118.8 277.9,118.8 278.3,118.8 278.7,118.8 279.2,118.8 279.6,118.8 280,118.8 280.4,118.8 280.8,118.8 281.2,118.8 281.6,118.8 282,118.8 282.4,118.8 282.8,118.8 283.2,118.8 283.5,118.8 283.9,118.2 284,117.3 284.1,115.7"/>
<polyline class="gp" points="86.8,295.9 109.9,219.5 123.5,202.6 133.1,187.6 140.6,183.1 146.7,179.2 151.8,176.4 156.3,163 160.2,156 163.8,151.1 167,146.9 169.9,143.8 172.5,141.4 175,138.4 177.3,136.2 179.5,133.8 181.5,132.6 183.4,130.8 185.2,129.6 187,127.7 188.6,126.4 190.1,126.4 191.6,125.9 193,125.9 194.4,125.9 195.7,125.9 197,125.9 198.2,125.9 199.4,125.7 200.5,125.1 201.6,125.1 202.7,125.1 203.7,125.1 204.7,125.1 205.7,125.1 206.6,125.1 207.5,125.1 208.4,125.1 209.3,125.1 210.1,125.1 211,125.1 211.8,125.1 212.6,125.1 213.3,125.1 214.1,125.1 214.8,125.1 215.5,125.1 216.2,125.1 216.9,125.1 217.6,125.1 218.3,125.1 218.9,125.1 219.5,125.1 220.2,125.1 220.8,125.1 221.4,125.1 222,124.5 222.6,123.6 223.1,122"/>
<polyline class="gp" points="86.8,284.6 109.9,221.8 123.5,201.6 133.1,199.2 140.6,179.2 146.7,178.8 151.8,174.4 156.3,174 160.2,166.9 163.8,163.5 167,157.5 169.9,155.4 172.5,153.2 175,150.9 177.3,148.8 179.5,146.8 181.5,144.1 183.4,141.4 185.2,137.7 187,137.4 188.6,136.1 190.1,133.9 191.6,133.4 193,131 194.4,129.9 195.7,128.3 197,127.1 198.2,126.2 199.4,125.5 200.5,124.7 201.6,123.6 202.7,122.6 203.7,121.4 204.7,120.6 205.7,120.4 206.6,119.7 207.5,119.4 208.4,119.4 209.3,119.3 210.1,119.1 211,118.8 211.8,118.7 212.6,118.5 213.3,118.4 214.1,118.4 214.8,118.3 215.5,118.3 216.2,118.2 216.9,118.2 217.6,118.2 218.3,118.1 218.9,118.1 219.5,118.1 220.2,118.1 220.8,118.1 221.4,118 222,118 222.6,118 223.1,118 223.7,118 224.2,118 224.8,118 225.3,118 225.9,118 226.4,118 226.9,118 227.4,118 227.9,118 228.4,118 228.9,118 229.3,118 229.8,118 230.3,118 230.7,118 231.2,118 231.6,118 232,118 232.5,118 232.9,118 233.3,118 233.7,118 234.1,118 234.5,117.9 234.9,117.9 235.3,117.9 235.7,117.9 236.1,117.9 236.5,117.9 236.9,117.9 237.3,117.9 237.6,117.9 238,117.9 238.4,117.9 238.7,117.9 239.1,117.9 239.4,117.9 239.8,117.9 240.1,117.9 240.8,117.9 241.4,117.9 242.1,117.9 242.7,117.9 243.4,117.9 244,117.9 244.6,117.9 245.2,117.9 245.7,117.9 246.3,117.9 246.9,117.9 247.4,117.9 248,117.9 248.5,117.9 249,117.9 249.6,117.9 250.1,117.9 250.6,117.9 251.1,117.9 251.6,117.9 252,117.9 252.5,117.9 253,117.9 253.4,117.9 253.9,117.9 254.3,117.9 254.8,117.9 255,117.3 255.2,116.4 255.4,114.8"/>
<polyline class="gp" points="86.8,286.1 109.9,228.2 123.5,200.1 133.1,189.7 140.6,181.7 146.7,178.8 151.8,178.8 156.3,168.8 160.2,162.4 163.8,159 167,154 169.9,150.1 172.5,146.9 175,145.2 177.3,143.9 179.5,140 181.5,137.1 183.4,135.7 185.2,134.1 187,132.6 188.6,131.1 190.1,129.4 191.6,128.3 193,127.6 194.4,125.9 195.7,125.1 197,123.6 198.2,122.9 199.4,122.3 200.5,122 201.6,121.7 202.7,121.7 203.7,121.7 204.7,121.7 205.7,121.7 206.6,121.7 207.5,121.7 208.4,121.7 209.3,121.7 210.1,121.7 211,121.7 211.8,121.7 212.6,121.7 213.3,121.7 214.1,121.7 214.8,121.7 215.5,121.7 216.2,121.7 216.9,121.7 217.6,121.7 218.3,121.7 218.9,121.7 219.5,121.7 220.2,121.7 220.8,121.7 221.4,121.7 222,121.7 222.6,121.7 223.1,121.7 223.7,121.7 224.2,121.7 224.8,121.7 225.3,121.7 225.9,121.7 226.4,121.7 226.9,121.7 227.4,121.7 227.9,121.7 228.4,121.7 228.9,121.7 229.3,121.7 229.8,121.7 230.3,121.7 230.7,121.7 231.2,121.7 231.6,121.7 232,121.7 232.5,121.7 232.9,121.7 233.3,121.7 233.7,121.7 234.1,121.7 234.5,121.7 234.9,121.7 235.3,121.7 235.7,121.7 236.1,121.7 236.5,121.7 236.9,121.7 237.3,121.7 237.6,121.7 238,121.7 238.4,121.7 238.7,121.7 239.1,121.7 239.4,121.7 239.8,121.7 240.1,121.7 240.8,121.7 241.4,121.7 242.1,121.7 242.7,121.7 243.4,121.7 244,121.7 244.6,121.7 245.2,121.7 245.7,121.7 246.3,121.7 246.9,121.7 247.4,121.7 248,121.7 248.5,121.7 249,121.7 249.6,121.7 250.1,121.7 250.6,121.7 251.1,121.7 251.6,121.7 252,121.7 252.5,121.7 253,121.7 253.4,121.7 253.9,121.7 254.3,121.7 254.8,121.7 255.2,121.7 255.7,121.7 256.1,121.7 256.5,121.7 256.9,121.7 257.3,121.7 257.7,121.7 258.1,121.7 258.5,121.7 258.9,121.7 259.3,121.7 259.7,121.7 260.1,121.7 260.4,121.7 260.8,121.7 261.2,121.7 261.5,121.7 261.9,121.7 262.2,121.7 262.6,121.7 262.9,121.7 263.3,121.7 263.8,121.7 264.3,121.7 264.8,121.7 265.3,121.7 265.8,121.7 266.2,121.7 266.7,121.7 267.2,121.7 267.6,121.7 268.1,121.7 268.5,121.7 268.9,121.7 269.4,121.7 269.8,121.7 270.2,121.7 270.6,121.7 271,121.7 271.4,121.7 271.8,121.7 272.2,121.7 272.6,121.7 273,121.7 273.4,121.7 273.8,121.7 274.1,121.7 274.5,121.7 274.9,121.7 275.2,121.7 275.6,121.7 275.9,121.7 276.3,121.7 276.6,121.7 277,121.7 277.4,121.7 277.9,121.7 278.3,121.7 278.7,121.7 279.2,121.7 279.6,121.7 280,121.7 280.4,121.7 280.8,121.7 281.2,121.7 281.6,121.7 282,121.7 282.4,121.7 282.8,121.7 283.2,121.7 283.5,121.7 283.6,121.1 283.7,120.2 283.8,118.6"/>
<polyline class="gp" points="86.8,287.9 109.9,212.2 123.5,204.5 133.1,186.7 140.6,178.8 146.7,178.8 151.8,178.8 156.3,172.2 160.2,165.9 163.8,160.9 167,156.2 169.9,151.8 172.5,148.6 175,147.2 177.3,145.4 179.5,144.5 181.5,143.4 183.4,140.5 185.2,139.5 187,137.5 188.6,135.5 190.1,133.2 191.6,131.7 193,131.1 194.4,129.4 195.7,127.8 197,126.4 198.2,125.7 199.4,125.1 200.5,124.1 201.6,123.3 202.7,123.2 203.7,123.1 204.7,123.1 205.7,123 206.6,123 207.5,122.8 208.4,122.8 209.3,122.8 210.1,122.6 211,122.6 211.8,122.6 212.6,122.6 213.3,122.5 214.1,122.5 214.8,122.5 215.5,122.5 216.2,122.5 216.9,122.5 217.6,122.5 218.3,122.5 218.9,122.5 219.5,122.5 220.2,122.5 220.8,122.5 221.4,122.5 222,122.5 222.6,122.5 223.1,122.5 223.7,122.5 224.2,121.9 224.8,121 225.3,119.4"/>
<polyline class="gp" points="86.8,307.4 109.9,225.4 123.5,205 133.1,194.7 140.6,180.6 146.7,177.2 151.8,175 156.3,159.8 160.2,152.5 163.8,147.8 167,143.4 169.9,141.2 172.5,136.9 175,135.6 177.3,132.7 179.5,130.9 181.5,127.8 183.4,127.2 185.2,125.5 187,123.5 188.6,123.5 190.1,123.5 191.6,123.2 193,122.8 194.4,122.8 195.7,122.8 197,122.8 198.2,122.8 199.4,122.8 200.5,122.8 201.6,122.8 202.7,122.8 203.7,122.8 204.7,122.8 205.7,122.8 206.6,122.8 207.5,122.8 208.4,122.8 209.3,122.8 210.1,122.8 211,122.8 211.8,122.8 212.6,122.8 213.3,122.8 214.1,122.8 214.8,122.8 215.5,122.8 216.2,122.8 216.9,122.8 217.6,122.8 218.3,122.8 218.9,122.8 219.5,122.8 220.2,122.8 220.8,122.8 221.4,122.8 222,122.8 222.6,122.8 223.1,122.8 223.7,122.8 224.2,122.8 224.8,122.8 225.3,122.8 225.9,122.8 226.4,122.8 226.9,122.8 227.4,122.8 227.9,122.8 228.4,122.8 228.9,122.8 229.3,122.8 229.8,122.8 230.3,122.8 230.7,122.8 231.2,122.8 231.6,122.8 232,122.8 232.5,122.8 232.9,122.8 233.3,122.8 233.7,122.8 234.1,122.8 234.5,122.8 234.9,122.8 235.3,122.8 235.7,122.8 236.1,122.8 236.5,122.8 236.9,122.8 237.3,122.8 237.6,122.8 238,122.8 238.4,122.8 238.7,122.8 239.1,122.8 239.4,122.8 239.8,122.8 240.1,122.8 240.8,122.8 241.4,122.8 242.1,122.8 242.7,122.8 243.4,122.8 244,122.8 244.6,122.8 245.2,122.8 245.7,122.8 246.3,122.8 246.9,122.8 247.4,122.8 248,122.8 248.5,122.8 249,122.8 249.6,122.8 250.1,122.8 250.6,122.8 251.1,122.8 251.6,122.8 252,122.8 252.5,122.8 253,122.8 253.4,122.8 253.9,122.8 254.3,122.8 254.8,122.8 255.2,122.8 255.7,122.8 256.1,122.8 256.5,122.8 256.9,122.8 257.3,122.8 257.7,122.8 257.9,122.2 258.1,121.3 258.3,119.8"/>
<polyline class="gp" points="86.8,299.2 109.9,229 123.5,203.2 133.1,192 140.6,178.7 146.7,176.6 151.8,176.1 156.3,172.9 160.2,166.1 163.8,160.1 167,155.6 169.9,150.4 172.5,148.1 175,148.1 177.3,147.1 179.5,143.5 181.5,142.5 183.4,139.2 185.2,137.7 187,135.8 188.6,134.2 190.1,132.8 191.6,132.4 193,131.3 194.4,130.1 195.7,129.1 197,128.1 198.2,126.4 199.4,124.8 200.5,124.5 201.6,123.5 202.7,122.8 203.7,122.4 204.7,121.8 205.7,121.8 206.6,121.8 207.5,121.8 208.4,121.8 209.3,121.8 210.1,121.8 211,121.8 211.8,121.8 212.6,121.7 213.3,121.7 214.1,121.7 214.8,121.7 215.5,121.7 216.2,121.7 216.9,121.7 217.6,121.7 218.3,121.7 218.9,121.7 219.5,121.7 220.2,121.1 220.8,120.1 221.4,118.6"/>
<polyline class="gp" points="86.8,306.6 109.9,225.4 123.5,208.9 133.1,197.1 140.6,184 146.7,179.5 151.8,178.2 156.3,168.8 160.2,164.8 163.8,158.4 167,154.4 169.9,149.2 172.5,146.9 175,144 177.3,141.8 179.5,139 181.5,136.2 183.4,135.5 185.2,133.4 187,131.6 188.6,130.9 190.1,129.1 191.6,128.1 193,127.5 194.4,126.5 195.7,124.7 197,122.9 198.2,121.2 199.4,121.2 200.5,120.4 201.6,120 202.7,119.4 203.7,119.4 204.7,119.2 205.7,118.9 206.6,118.9 207.5,118.7 208.4,118.6 209.3,118.5 210.1,118.5 211,118.5 211.8,118.5 212.6,118.5 213.3,118.5 214.1,118.5 214.8,118.5 215.5,118.5 216.2,118.5 216.9,118.5 217.6,118.5 218.3,118.5 218.9,118.5 219.5,118.5 220.2,118.5 220.8,118.5 221.4,118.5 222,118.5 222.6,118.5 223.1,118.5 223.7,118.5 224.2,118.5 224.8,118.5 225.3,118.5 225.9,118.5 226.4,118.5 226.9,118.5 227.4,118.5 227.9,118.5 228.4,118.5 228.9,118.5 229.3,118.5 229.8,118.5 230.3,118.5 230.7,118.5 231.2,118.5 231.6,118.5 232,118.5 232.5,118.5 232.9,118.5 233.3,118.5 233.7,118.5 234.1,118.5 234.5,118.5 234.9,118.5 235.3,118.5 235.7,118.5 236.1,118.5 236.5,118.5 236.9,118.5 237.3,118.5 237.6,118.5 238,118.5 238.4,118.5 238.7,118.5 239.1,118.5 239.4,118.5 239.8,118.5 240.1,118.5 240.8,118.5 241.4,118.5 242.1,118.5 242.7,118.5 243.4,118.5 244,118.5 244.6,118.5 245.2,118.5 245.7,118.5 246.3,118.5 246.9,118.5 247.4,118.5 248,118.5 248.5,118.5 249,118.5 249.6,118.5 250.1,118.5 250.6,118.5 250.8,117.9 251.1,117 251.3,115.4"/>
<polyline class="gp" points="86.8,302.1 109.9,229.7 123.5,211.5 133.1,194.3 140.6,182.8 146.7,177.8 151.8,177.8 156.3,170.5 160.2,167.3 163.8,160.9 167,157 169.9,152.9 172.5,148.2 175,145.9 177.3,143.4 179.5,142.5 181.5,139.9 183.4,139.9 185.2,137.5 187,134.5 188.6,133 190.1,130.6 191.6,130.5 193,129.1 194.4,126.8 195.7,125.7 197,125.2 198.2,124.9 199.4,124.3 200.5,123.9 201.6,123.2 202.7,123.2 203.7,123.2 204.7,123.2 205.7,123.2 206.6,123.2 207.5,123.2 208.4,123.2 209.3,123.2 210.1,123.2 211,123.2 211.8,123.2 212.6,123.2 213.3,123.2 214.1,123.2 214.8,123.2 215.5,123.2 216.2,123.2 216.9,123.2 217.6,123.2 218.3,123.2 218.9,123.2 219.5,123.2 220.2,123.2 220.8,123.2 221.4,123.2 222,123.2 222.6,123.2 223.1,123.2 223.7,122.6 224.2,121.6 224.8,120.1"/>
<polyline class="gp" points="86.8,297.7 109.9,226.5 123.5,206.9 133.1,191.3 140.6,183.5 146.7,183.5 151.8,183.3 156.3,170.3 160.2,165.7 163.8,159.8 167,154.7 169.9,150.1 172.5,147.6 175,144.9 177.3,142.4 179.5,140.9 181.5,138.7 183.4,137.9 185.2,136.7 187,134.8 188.6,132.5 190.1,130.7 191.6,130.5 193,129.6 194.4,127.8 195.7,127.2 197,127.2 198.2,126.6 199.4,126.4 200.5,125.8 201.6,125.2 202.7,125.2 203.7,125.2 204.7,125.2 205.7,125.2 206.6,125.2 207.5,125.2 208.4,125.2 209.3,125.2 210.1,125.2 211,125.2 211.8,125.2 212.6,125.2 213.3,125.2 214.1,125.2 214.8,125.2 215.5,125.2 216.2,125.2 216.9,125.2 217.6,125.2 218.3,125.2 218.9,125.2 219.5,125.2 220.2,125.2 220.8,125.2 221.4,125.2 222,125.2 222.6,125.2 223.1,125.2 223.7,125.2 224.2,125.2 224.8,125.2 225.3,125.2 225.9,125.2 226.4,125.2 226.9,125.2 227.4,125.2 227.9,125.2 228.4,125.2 228.9,125.2 229.3,125.2 229.8,125.2 230.3,125.2 230.7,125.2 231.2,125.2 231.6,125.2 232,125.2 232.5,125.2 232.9,125.2 233.3,125.2 233.7,125.2 234.1,125.2 234.5,125.2 234.9,125.2 235.3,125.2 235.7,125.2 236.1,125.2 236.5,125.2 236.9,125.2 237.3,125.2 237.6,125.2 238,125.2 238.4,125.2 238.7,125.2 239.1,125.2 239.4,125.2 239.8,125.2 240.1,125.2 240.8,125.2 241.1,124.6 241.4,123.7 241.8,122.1"/>
<polyline class="gp" points="86.8,310.7 109.9,227.3 123.5,204.2 133.1,185.1 140.6,184.5 146.7,180.6 151.8,179.8 156.3,170.6 160.2,165.2 163.8,159 167,153.9 169.9,152.5 172.5,149.2 175,146.9 177.3,145.1 179.5,141.7 181.5,139.1 183.4,138.5 185.2,136 187,135.2 188.6,132.9 190.1,129.8 191.6,129.6 193,128.2 194.4,127.9 195.7,127.3 197,126.9 198.2,126.2 199.4,126 200.5,125 201.6,124.1 202.7,124.1 203.7,124.1 204.7,124.1 205.7,124 206.6,123.9 207.5,123.5 208.4,123.5 209.3,123.5 210.1,123.5 211,123.5 211.8,123.5 212.6,123.5 213.3,123.5 214.1,123.5 214.8,123.5 215.5,123.5 216.2,123.5 216.9,123.5 217.6,123.5 218.3,123.5 218.9,123.5 219.5,123.5 220.2,123.5 220.8,123.5 221.4,123.5 222,123.5 222.6,123.5 223.1,123.5 223.7,123.5 224.2,123.5 224.8,123.5 225.3,123.5 225.9,123.5 226.4,123.5 226.9,123.5 227.4,123.5 227.9,123.5 228.4,123.5 228.9,123.5 229.3,123.5 229.8,123.5 230.3,123.5 230.7,123.5 231.2,123.5 231.6,123.5 232,123.5 232.5,123.5 232.9,123.5 233.3,123.5 233.7,123.5 234.1,123.5 234.5,123.5 234.9,123.5 235.3,123.5 235.7,123.5 236.1,123.5 236.5,123.5 236.9,123.5 237.3,123.5 237.6,123.5 238,123.5 238.4,123.5 238.7,123.5 239.1,123.5 239.4,123.5 239.8,123.5 240.1,123.5 240.8,123.5 241.4,123.5 242.1,123.5 242.7,123.5 243.4,123.5 244,123.5 244.6,123.5 245.2,123.5 245.7,123.5 246.3,123.5 246.9,123.5 247.4,123.5 248,123.5 248.5,123.5 249,123.5 249.6,123.5 250.1,123.5 250.6,123.5 251.1,123.5 251.6,123.5 252,123.5 252.5,123.5 253,123.5 253.4,123.5 253.9,123.5 254.3,123.5 254.8,123.5 255.2,123.5 255.7,123.5 256.1,123.5 256.5,123.5 256.9,123.5 257.3,123.5 257.7,123.5 258.1,123.5 258.5,123.5 258.9,123.5 259.3,123.5 259.7,123.5 260.1,123.5 260.4,123.5 260.8,123.5 261.2,123.5 261.5,123.5 261.9,123.5 262.2,123.5 262.6,123.5 262.9,123.5 263.3,123.5 263.8,123.5 264.3,123.5 264.8,123.5 265.3,123.5 265.8,123.5 266.2,123.5 266.7,123.5 267.2,123.5 267.6,123.5 268.1,123.5 268.5,123.5 268.9,123.5 269.4,123.5 269.8,123.5 270.2,123.5 270.6,123.5 271,123.5 271.4,123.5 271.8,123.5 272.2,123.5 272.6,123.5 273,123.5 273.4,123.5 273.8,123.5 274.1,123.5 274.5,123.5 274.9,123.5 275.2,123.5 275.6,123.5 275.9,123.5 276.3,123.5 276.6,123.5 277,123.5 277.4,123.5 277.9,123.5 278.3,123.5 278.7,123.5 279.2,123.5 279.6,123.5 280,123.5 280.4,123.5 280.8,123.5 281.2,123.5 281.6,123.5 282,123.5 282.4,123.5 282.8,123.5 283.2,123.5 283.5,123.5 283.9,123.5 284.3,123.5 284.6,123.5 285,123.5 285.3,123.5 285.7,123.5 286,123.5 286.4,123.5 286.7,123.5 287.1,123.5 287.5,123.2 287.6,122.7 287.6,121.9"/>
<polyline class="gp" points="86.8,296.7 109.9,230.7 123.5,207.3 133.1,189 140.6,175.6 146.7,175.6 151.8,175.6 156.3,172.7 160.2,166.2 163.8,161.4 167,156.1 169.9,152.6 172.5,150.6 175,147.8 177.3,145.1 179.5,144.3 181.5,141.7 183.4,140.9 185.2,140 187,137.9 188.6,135.8 190.1,133.7 191.6,132.4 193,131.5 194.4,129.9 195.7,128.1 197,126.5 198.2,126.2 199.4,124.7 200.5,123.5 201.6,123.5 202.7,123.5 203.7,122.9 204.7,122.4 205.7,122.3 206.6,122.1 207.5,121.7 208.4,121.4 209.3,121.4 210.1,121.3 211,121.2 211.8,121.1 212.6,121.1 213.3,121.1 214.1,121.1 214.8,121.1 215.5,121.1 216.2,121.1 216.9,121 217.6,121 218.3,121 218.9,121 219.5,121 220.2,121 220.8,121 221.4,121 222,121 222.6,121 223.1,121 223.7,121 224.2,121 224.8,121 225.3,121 225.9,121 226.4,121 226.9,121 227.4,121 227.9,121 228.4,121 228.9,121 229.3,121 229.8,121 230.3,121 230.7,121 231.2,121 231.6,121 232,121 232.5,121 232.9,121 233.3,121 233.7,121 234.1,121 234.5,121 234.9,121 235.3,121 235.7,121 236.1,121 236.5,121 236.9,121 237.3,121 237.6,121 238,121 238.4,121 238.7,121 239.1,121 239.4,121 239.8,121 240.1,121 240.8,121 241.4,121 242.1,121 242.7,121 243.4,121 244,121 244.6,121 245.2,121 245.7,121 246.3,121 246.9,121 247.4,121 248,121 248.5,121 249,121 249.6,121 250.1,121 250.6,121 251.1,121 251.6,121 252,121 252.5,121 253,121 253.4,121 253.9,121 254.3,121 254.8,121 255.2,121 255.7,121 256.1,121 256.5,121 256.9,121 257.3,121 257.7,121 258.1,121 258.5,121 258.9,121 259.3,121 259.7,121 260.1,121 260.4,121 260.8,121 261.2,121 261.5,121 261.9,121 262.2,121 262.6,121 262.9,121 263.3,121 263.8,121 264.3,121 264.8,121 265.3,121 265.8,121 266.2,121 266.7,121 267.2,121 267.6,121 268.1,121 268.5,121 268.9,121 269.4,121 269.8,121 270.2,121 270.6,121 271,121 271.4,121 271.8,121 272.2,121 272.6,121 273,121 273.4,121 273.8,121 274.1,121 274.5,121 274.9,121 275.2,121 275.6,121 275.9,121 276.3,121 276.6,121 277,121 277.4,121 277.9,121 278.3,121 278.7,121 279.2,121 279.6,121 280,121 280.4,121 280.8,121 281.2,121 281.6,121 282,121 282.4,121 282.8,121 283.2,121 283.5,121 283.9,121 284.3,121 284.6,121 285,121 285.3,121 285.7,121 286,121 286.4,121 286.7,121 287.1,121 287.5,120.7 287.6,120.2 287.6,119.5"/>
<polyline class="gp" points="86.8,320.1 109.9,219.2 123.5,211.7 133.1,199.6 140.6,183.9 146.7,180.8 151.8,177.9 156.3,171.9 160.2,164.9 163.8,160.5 167,156.5 169.9,153.3 172.5,151.1 175,146.9 177.3,145.6 179.5,143.7 181.5,141.6 183.4,139.4 185.2,137.7 187,135.7 188.6,133.9 190.1,132.5 191.6,131 193,130.2 194.4,129 195.7,127.5 197,126.6 198.2,126.2 199.4,125.2 200.5,124.4 201.6,123.8 202.7,123.3 203.7,122.6 204.7,122.2 205.7,122.2 206.6,122.2 207.5,122.2 208.4,122.2 209.3,122.2 210.1,122.2 211,122.2 211.8,122.2 212.6,122.2 213.3,122.2 214.1,122.2 214.8,122.2 215.5,122.2 216.2,122.2 216.9,122.2 217.6,122.2 218.3,122.2 218.9,122.2 219.5,122.2 220.2,122.2 220.8,122.2 221.4,122.2 222,122.2 222.6,122.2 223.1,122.2 223.7,122.2 224.2,122.2 224.8,122.2 225.3,122.2 225.9,122.2 226.4,122.2 226.9,122.2 227.4,122.2 227.9,122.2 228.4,122.2 228.9,122.2 229.3,122.2 229.8,122.2 230.3,122.2 230.7,122.2 231.2,122.2 231.6,122.2 232,122.2 232.5,122.2 232.9,122.2 233.3,122.2 233.7,122.2 234.1,122.2 234.5,122.2 234.9,122.2 235.3,122.2 235.7,122.2 236.1,122.2 236.5,122.2 236.9,122.2 237.3,122.2 237.6,122.2 238,122.2 238.4,122.2 238.7,122.2 239.1,122.2 239.4,122.2 239.8,122.2 240.1,122.2 240.8,122.2 241.4,122.2 242.1,122.2 242.7,122.2 243.4,122.2 244,122.2 244.6,122.2 245.2,122.2 245.7,122.2 246.3,122.2 246.9,122.2 247.4,122.2 248,122.2 248.5,122.2 249,122.2 249.6,122.2 250.1,122.2 250.6,122.2 251.1,122.2 251.6,122.2 252,122.2 252.5,122.2 253,122.2 253.4,122.2 253.9,122.2 254.3,122.2 254.8,122.2 255.2,122.2 255.7,122.2 256.1,122.2 256.5,122.2 256.9,122.2 257.3,122.2 257.7,122.2 258.1,122.2 258.5,122.2 258.9,122.2 259.3,122.2 259.7,122.2 260.1,122.2 260.4,122.2 260.8,122.2 261.2,122.2 261.5,122.2 261.9,122.2 262.2,122.2 262.6,122.2 262.9,122.2 263.3,122.2 263.8,122.2 264.3,122.2 264.8,122.2 265.3,122.2 265.8,122.2 266.2,122.2 266.7,122.2 267.2,122.2 267.6,122.2 268.1,122.2 268.5,122.2 268.9,122.2 269.4,122.2 269.8,122.2 270.2,122.2 270.6,122.2 271,122.2 271.4,122.2 271.8,122.2 272.2,122.2 272.6,122.2 273,122.2 273.4,122.2 273.8,122.2 274.1,122.2 274.5,122.2 274.9,122.2 275.2,122.2 275.6,122.2 275.9,122.2 276.3,122.2 276.6,122.2 277,122.2 277.4,122.2 277.9,122.2 278.3,122.2 278.7,122.2 279.2,122.2 279.6,122.2 280,122.2 280.4,122.2 280.8,122.2 281.2,122.2 281.6,122.2 282,122.2 282.4,122.2 282.8,122.2 283.2,122.2 283.5,122.2 283.9,122.2 284.3,122.2 284.6,122.2 285,122.2 285.3,122.2 285.7,122.2 286,122.2 286.4,122.2 286.7,122.2 287.1,122.2 287.5,121.9 287.6,121.5 287.6,120.7"/>
<polyline class="gp" points="86.8,323.6 109.9,225.8 123.5,216 133.1,200.8 140.6,191.3 146.7,183.3 151.8,181.2 156.3,175.7 160.2,170.3 163.8,165.2 167,160.8 169.9,157.4 172.5,154.5 175,152.2 177.3,149.9 179.5,148.1 181.5,146.3 183.4,144.2 185.2,141.6 187,139.2 188.6,137.7 190.1,136.5 191.6,135.3 193,134 194.4,132.1 195.7,131.2 197,130 198.2,129.1 199.4,127.9 200.5,127.1 201.6,126.6 202.7,125.8 203.7,124.9 204.7,123.3"/>
<polyline class="gp" points="86.8,295.3 109.9,245.7 123.5,212.8 133.1,200 140.6,186.8 146.7,184.8 151.8,182.2 156.3,177.7 160.2,172.4 163.8,166.3 167,162 169.9,157.6 172.5,154.9 175,152.6 177.3,150.3 179.5,148.8 181.5,146.9 183.4,144.9 185.2,143.9 187,142 188.6,140.3 190.1,138.9 191.6,137.1 193,136.4 194.4,135.4 195.7,133.1 197,132.3 198.2,131.4 199.4,129.9 200.5,128.2 201.6,126.8 202.7,126 203.7,124.3 204.7,123.9 205.7,123.3 206.6,122.6 207.5,122.2 208.4,122.1 209.3,121.8 210.1,121.5 211,121.2 211.8,121 212.6,120.8 213.3,120.6 214.1,120.5 214.8,120.4 215.5,120.3 216.2,120.2 216.9,120.1 217.6,120 218.3,120 218.9,119.9 219.5,119.9 220.2,119.8 220.8,119.8 221.4,119.8 222,119.8 222.6,119.8 223.1,119.7 223.7,119.7 224.2,119.7 224.8,119.7 225.3,119.7 225.9,119.7 226.4,119.7 226.9,119.7 227.4,119.7 227.9,119.6 228.4,119.6 228.9,119.6 229.3,119.6 229.8,119.6 230.3,119.6 230.7,119.6 231.2,119.6 231.6,119.6 232,119.6 232.5,119.6 232.9,119.6 233.3,119.6 233.7,119.6 234.1,119.6 234.5,119.6 234.9,119.6 235.3,119.6 235.7,119.6 236.1,119.6 236.5,119.6 236.9,119.6 237.3,119.6 237.6,119.5 238,119.5 238.4,119.5 238.7,119.5 239.1,119.5 239.4,119.5 239.8,119.5 240.1,119.5 240.8,119.5 241.4,119.5 242.1,119.5 242.7,119.5 243.4,119.5 244,119.5 244.6,119.5 245.2,119.5 245.7,119.5 246.3,119.5 246.9,119.5 247.4,119.5 248,119.5 248.5,119.5 249,119.5 249.6,119.5 250.1,119.5 250.6,119.5 251.1,119.5 251.6,119.5 252,119.5 252.5,119.5 253,119.5 253.4,119.5 253.9,119.5 254.3,119.5 254.8,119.5 255.2,119.5 255.7,119.5 256.1,119.5 256.5,119.5 256.9,119.5 257.3,119.5 257.7,119.5 258.1,119.5 258.5,119.5 258.9,119.5 259.3,119.5 259.7,119.5 260.1,119.5 260.4,119.5 260.8,119.5 261.2,119.5 261.5,119.5 261.9,119.5 262.2,119.5 262.6,119.5 262.9,119.5 263.3,119.5 263.8,119.5 264.3,119.5 264.8,119.5 265.3,119.5 265.8,119.5 266.2,119.5 266.7,119.5 267.2,119.5 267.6,119.5 268.1,119.5 268.5,119.5 268.9,119.5 269.4,119.5 269.8,119.5 270.2,119.5 270.6,119.5 271,119.5 271.4,119.5 271.8,119.5 272.2,119.5 272.6,119.5 273,119.5 273.4,119.5 273.8,119.5 274.1,119.5 274.5,119.5 274.9,119.5 275.2,119.5 275.6,119.5 275.9,119.5 276.3,119.5 276.6,119.5 277,119.5 277.4,119.5 277.9,119.5 278.3,119.5 278.7,119.5 279.2,119.5 279.6,119.5 280,119.5 280.4,119.5 280.8,119.5 281.2,119.5 281.6,119.5 282,119.5 282.4,119.5 282.8,119.5 283.2,119.5 283.5,119.5 283.9,119.5 284.3,119.5 284.6,119.5 285,119.5 285.3,119.5 285.7,119.5 286,119.5 286.4,119.5 286.7,119.5 287.1,119.5 287.5,119.2 287.6,118.7 287.6,118"/>
<polyline class="gp" points="86.8,295.2 109.9,228.6 123.5,206.3 133.1,199 140.6,187.2 146.7,182 151.8,179.4 156.3,172.3 160.2,166.2 163.8,161.2 167,157 169.9,153.4 172.5,149.4 175,147.5 177.3,146.3 179.5,143.9 181.5,141.4 183.4,139.6 185.2,137 187,135.8 188.6,134.1 190.1,132.3 191.6,132.3 193,131.2 194.4,130.2 195.7,128.1 197,126.6 198.2,125.6 199.4,124.4 200.5,124.3 201.6,122.8 202.7,122.4 203.7,122.4 204.7,122.4 205.7,122.3 206.6,121.8 207.5,121.6 208.4,121.6 209.3,121.6 210.1,121.6 211,121.6 211.8,121.6 212.6,121.6 213.3,121.6 214.1,121.6 214.8,121.5 215.5,121.5 216.2,121.5 216.9,121.5 217.6,121.5 218.3,121.5 218.9,121.5 219.5,121.5 220.2,121.5 220.8,121.5 221.4,121.5 222,121.5 222.6,121.5 223.1,121.5 223.7,121.5 224.2,121.5 224.8,121.5 225.3,121.5 225.9,121.5 226.4,121.5 226.9,121.5 227.4,121.5 227.9,121.5 228.4,121.5 228.9,121.5 229.3,121.5 229.8,121.5 230.3,121.5 230.7,121.5 231.2,121.5 231.6,121.5 232,121.5 232.5,121.5 232.9,121.5 233.3,121.5 233.7,121.5 234.1,121.5 234.5,121.5 234.9,121.5 235.3,121.5 235.7,121.5 236.1,121.5 236.5,121.5 236.9,121.5 237.3,121.5 237.6,121.5 238,121.5 238.4,121.5 238.7,121.5 239.1,121.5 239.4,121.5 239.8,121.5 240.1,121.5 240.8,121.5 241.4,121.5 242.1,121.5 242.7,121.5 243.4,121.5 244,121.5 244.6,121.5 245.2,121.5 245.7,121.5 246.3,121.5 246.9,121.5 247.4,121.5 248,121.5 248.5,121.5 249,121.5 249.6,121.5 250.1,121.5 250.6,121.5 251.1,121.5 251.6,121.5 252,121.5 252.5,121.5 253,121.5 253.4,121.5 253.9,121.5 254.3,121.5 254.8,121.5 255.2,121.5 255.7,121.5 256.1,121.5 256.5,121.5 256.9,121.5 257.3,121.5 257.7,121.5 258.1,121.5 258.5,121.5 258.9,121.5 259.3,121.5 259.7,121.5 260.1,121.5 260.4,121.5 260.8,121.5 261.2,121.5 261.5,121.5 261.9,121.5 262.2,121.5 262.6,121.5 262.9,121.5 263.3,121.5 263.8,121.5 264.3,121.5 264.8,121.5 265.3,121.5 265.8,121.5 266.2,121.5 266.7,121.5 267.2,121.5 267.6,121.5 268.1,121.5 268.5,121.5 268.9,121.5 269.4,121.5 269.8,121.5 270.2,121.5 270.6,121.5 271,121.5 271.4,121.5 271.8,121.5 272.2,121.5 272.6,121.5 273,121.5 273.4,121.5 273.8,121.5 274.1,121.5 274.5,121.5 274.9,121.5 275.2,121.5 275.6,121.5 275.9,121.5 276.3,121.5 276.6,121.5 277,121.5 277.4,121.5 277.9,121.5 278.3,121.5 278.7,121.5 279.2,121.5 279.6,121.5 280,121.5 280.4,121.5 280.8,121.5 281.2,121.5 281.6,121.5 282,121.5 282.4,121.5 282.8,121.5 282.9,120.9 283,120 283.1,118.4"/>
<polyline class="gp" points="86.8,312.5 109.9,222.7 123.5,210.9 133.1,199.3 140.6,186.2 146.7,181 151.8,179.3 156.3,176.9 160.2,171.6 163.8,168.1 167,163.6 169.9,158.8 172.5,154.9 175,152.7 177.3,150.7 179.5,148 181.5,146.2 183.4,144.4 185.2,142.8 187,140.3 188.6,138.5 190.1,137 191.6,135.7 193,135 194.4,133.3 195.7,132.8 197,132.5 198.2,131.4 199.4,129.4 200.5,128.2 201.6,127.5 202.7,127.3 203.7,126.6 204.7,124.6 205.7,123.5 206.6,121.9"/>
<polyline class="gp" points="86.8,310.4 109.9,236.9 123.5,206.7 133.1,197.8 140.6,183.3 146.7,181.3 151.8,180.6 156.3,176.7 160.2,172.1 163.8,166.2 167,162.7 169.9,156.6 172.5,154.5 175,153 177.3,150.8 179.5,147.2 181.5,144.6 183.4,143.2 185.2,141.4 187,140.2 188.6,140 190.1,138.9 191.6,136.2 193,135 194.4,133.8 195.7,131.7 197,130.7 198.2,130.1 199.4,129.4 200.5,128.1 201.6,127.1 202.7,127.1 203.7,126.8 204.7,126.3 205.7,125.9 206.6,125.9 207.5,125.9 208.4,125.7 209.3,125.7 210.1,125.7 211,125.6 211.8,125.6 212.6,125.6 213.3,125.6 214.1,125.6 214.8,125.6 215.5,125.6 216.2,125.5 216.9,125.5 217.6,125.5 218.3,125.5 218.9,125.5 219.5,125.5 220.2,125.5 220.8,125.5 221.4,125.5 222,125.5 222.6,125.5 223.1,125.5 223.7,125.5 224.2,125.5 224.8,125.5 225.3,125.5 225.9,125.5 226.4,125.5 226.9,125.5 227.4,125.5 227.9,125.5 228.4,125.5 228.9,125.5 229.3,125.5 229.8,125.5 230.3,125.5 230.7,125.5 231.2,125.5 231.6,125.5 232,125.5 232.5,125.5 232.9,125.5 233.3,125.5 233.7,125.5 234.1,125.5 234.5,125.5 234.9,125.5 235.3,125.5 235.7,125.5 236.1,125.5 236.5,125.5 236.9,125.5 237.3,125.5 237.6,125.5 238,125.5 238.4,125.5 238.7,125.5 239.1,125.5 239.4,125.5 239.8,125.5 240.1,125.5 240.8,125.5 241.4,125.5 242.1,125.5 242.7,125.5 243.4,125.5 244,125.5 244.6,125.5 245.2,125.5 245.7,125.5 246.3,125.5 246.9,125.5 247.4,125.5 248,125.5 248.5,125.5 249,125.5 249.6,125.5 250.1,125.5 250.6,125.5 251.1,125.5 251.6,125.5 252,125.5 252.5,125.5 253,125.5 253.4,125.5 253.9,125.5 254.3,125.5 254.8,125.5 255.2,125.5 255.7,125.5 256.1,125.5 256.5,125.5 256.9,125.5 257.3,125.5 257.7,125.5 258.1,125.5 258.5,125.5 258.9,125.5 259.3,125.5 259.7,125.5 260.1,125.5 260.4,125.5 260.8,125.5 261.2,125.5 261.5,125.5 261.9,125.5 262.2,125.5 262.6,125.5 262.9,125.5 263.3,125.5 263.8,125.5 264.3,125.5 264.8,125.5 265.3,125.5 265.8,125.5 266.2,125.5 266.7,125.5 267.2,125.5 267.6,125.5 268.1,125.5 268.5,125.5 268.9,125.5 269.4,125.5 269.8,125.5 270.2,125.5 270.6,125.5 271,125.5 271.4,125.5 271.8,125.5 272.2,125.5 272.6,125.5 273,125.5 273.4,125.5 273.8,125.5 274.1,125.5 274.5,125.5 274.9,125.5 275.2,125.5 275.6,125.5 275.9,125.5 276.3,125.5 276.6,125.5 277,125.5 277.4,125.5 277.9,125.5 278.3,125.5 278.7,125.5 279.2,125.5 279.6,125.5 280,125.5 280.4,125.5 280.8,125.5 281.2,125.5 281.6,125.5 282,125.5 282.4,125.5 282.8,125.5 283.2,125.5 283.5,125.5 283.9,125.5 284.3,125.5 284.6,125.5 285,125.5 285.3,125.5 285.7,125.5 286,125.5 286.4,125.5 286.7,125.5 287.1,125.5 287.5,125.2 287.6,124.7 287.6,124"/>
<polyline class="gp" points="86.8,302.1 109.9,226.7 123.5,221.3 133.1,210.8 140.6,193.9 146.7,189.4 151.8,185.4 156.3,178.5 160.2,173.8 163.8,167.4 167,162.1 169.9,157 172.5,153.7 175,151.7 177.3,151.2 179.5,149.4 181.5,147.7 183.4,146 185.2,144.8 187,142.8 188.6,140.8 190.1,139.3 191.6,137.5 193,136.1 194.4,135 195.7,134.7 197,133.6 198.2,132.6 199.4,132 200.5,130.7 201.6,129.4 202.7,128.7 203.7,128 204.7,127 205.7,126.6 206.6,126.4 207.5,126.4 208.4,126.2 209.3,126 210.1,125.8 211,125.8 211.8,125.8 212.6,125.8 213.3,125.8 214.1,125.8 214.8,125.8 215.5,125.7 216.2,125.7 216.9,125.7 217.6,125.7 218.3,125.7 218.9,125.7 219.5,125.7 220.2,125.7 220.8,125.7 221.4,125.7 222,125.7 222.6,125.7 223.1,125.7 223.7,125.7 224.2,125.7 224.8,125.7 225.3,125.7 225.9,125.7 226.4,125.7 226.9,125.7 227.4,125.7 227.9,125.7 228.4,125.7 228.9,125.7 229.3,125.7 229.8,125.7 230.3,125.7 230.7,125.7 231.2,125.7 231.6,125.7 232,125.7 232.5,125.7 232.9,125.7 233.3,125.7 233.7,125.7 234.1,125.7 234.5,125.7 234.9,125.7 235.3,125.7 235.7,125.7 236.1,125.7 236.5,125.7 236.9,125.7 237.3,125.7 237.6,125.7 238,125.7 238.4,125.7 238.7,125.7 239.1,125.7 239.4,125.7 239.8,125.7 240.1,125.7 240.8,125.6 241.4,125.6 242.1,125.6 242.7,125.6 243.4,125.6 244,125.6 244.6,125.6 245.2,125.6 245.7,125.6 246.3,125.6 246.9,125.6 247.4,125.6 248,125.6 248.5,125.6 249,125.6 249.6,125 249.8,124.1 250.1,122.6"/>
<polyline class="gp" points="86.8,303.4 109.9,241.2 123.5,218.3 133.1,207.6 140.6,191.7 146.7,190.9 151.8,185.5 156.3,178.2 160.2,172.6 163.8,168.2 167,164.4 169.9,161.1 172.5,157.5 175,154.5 177.3,152.5 179.5,151.2 181.5,148.3 183.4,146.9 185.2,145 187,142.4 188.6,140.9 190.1,139 191.6,136.9 193,135.6 194.4,133.7 195.7,133.5 197,132.4 198.2,131.5 199.4,129.9 200.5,129.2 201.6,128.5 202.7,127.4 203.7,126.5 204.7,126.1 205.7,125.5 206.6,125 207.5,124.9 208.4,124.8 209.3,124.5 210.1,124.1 211,123.8 211.8,123.8 212.6,123.8 213.3,123.8 214.1,123.7 214.8,123.7 215.5,123.7 216.2,123.6 216.9,123.6 217.6,123.6 218.3,123.6 218.9,123.6 219.5,123.6 220.2,123.5 220.8,123.5 221.4,123.5 222,123.5 222.6,123.5 223.1,123.5 223.7,123.5 224.2,123.5 224.8,123.5 225.3,123.5 225.9,123.5 226.4,123.5 226.9,123.5 227.4,123.5 227.9,123.5 228.4,122.9 228.9,122 229.3,120.4"/>
<polyline class="gp" points="86.8,315.4 109.9,244.7 123.5,211.3 133.1,204.5 140.6,190.4 146.7,187.2 151.8,182.4 156.3,180.7 160.2,174.7 163.8,168.8 167,166.3 169.9,164.2 172.5,161.2 175,158.2 177.3,155.5 179.5,152.7 181.5,150.7 183.4,148.3 185.2,146.2 187,145.1 188.6,143 190.1,141.2 191.6,140.4 193,138.9 194.4,137.2 195.7,135.6 197,134.9 198.2,133.7 199.4,132.8 200.5,132.3 201.6,130.9 202.7,130.2 203.7,129.6 204.7,129.6 205.7,129.6 206.6,129.1 207.5,129 208.4,129 209.3,128.8 210.1,128.6 211,128.5 211.8,128.4 212.6,128.4 213.3,128.3 214.1,128.3 214.8,128.3 215.5,128.3 216.2,128.3 216.9,128.3 217.6,128.3 218.3,128.3 218.9,128.2 219.5,128.2 220.2,128.2 220.8,128.2 221.4,128.2 222,128.2 222.6,128.2 223.1,128.2 223.7,128.2 224.2,128.2 224.8,128.2 225.3,128.2 225.9,128.2 226.4,128.2 226.9,128.2 227.4,128.2 227.9,128.2 228.4,128.2 228.9,128.2 229.3,128.2 229.8,128.2 230.3,128.2 230.7,128.2 231.2,128.2 231.6,128.2 232,128.2 232.5,128.2 232.9,128.2 233.3,128.2 233.7,128.2 234.1,128.2 234.5,128.2 234.9,128.2 235.3,128.2 235.7,128.2 236.1,128.2 236.5,128.2 236.9,128.2 237.3,128.2 237.6,128.2 238,128.2 238.4,128.2 238.7,128.2 239.1,128.2 239.4,128.2 239.8,128.2 240.1,128.2 240.8,128.2 241.4,128.2 242.1,128.2 242.7,128.2 243.4,128.2 244,128.2 244.6,128.2 245.2,128.2 245.7,128.2 246.3,128.2 246.9,128.2 247.4,128.2 248,128.2 248.5,128.2 249,128.2 249.6,128.2 250.1,128.2 250.6,128.2 251.1,128.2 251.6,128.2 252,128.2 252.5,128.2 253,128.2 253.4,128.2 253.9,128.2 254.3,128.2 254.8,128.2 255.2,128.2 255.7,128.2 256.1,128.2 256.5,128.2 256.9,128.2 257.3,128.2 257.7,128.2 258.1,128.2 258.5,128.2 258.9,128.2 259.3,128.2 259.7,128.2 260.1,128.2 260.4,128.2 260.8,128.2 261.2,128.2 261.5,128.2 261.9,128.2 262.2,128.2 262.6,128.2 262.9,128.2 263.3,128.2 263.8,128.2 264.3,128.2 264.8,128.2 265.3,128.2 265.8,128.2 266.2,128.2 266.7,128.2 267.2,128.2 267.6,128.2 268.1,128.2 268.5,128.2 268.9,128.2 269.4,128.2 269.8,128.2 270.2,128.2 270.6,128.2 271,128.2 271.4,128.2 271.8,128.2 272.2,128.2 272.6,128.2 273,128.2 273.4,128.2 273.8,128.2 274.1,128.2 274.5,128.2 274.9,128.2 275.2,128.2 275.6,128.2 275.9,128.2 276.3,128.2 276.6,128.2 277,128.2 277.4,128.2 277.9,128.2 278.3,128.2 278.7,128.2 279.2,128.2 279.6,128.2 280,128.2 280.4,128.2 280.8,128.2 281.2,128.2 281.6,128.2 282,128.2 282.4,128.2 282.8,128.2 283.2,128.2 283.5,128.2 283.9,128.2 284.3,128.2 284.6,128.2 285,128.2 285.3,128.2 285.7,128.2 286,128.2 286.4,128.2 286.7,128.2 287.1,128.2 287.5,128.1 287.6,127.9 287.6,127.7"/>
<polyline class="gp" points="86.8,320.9 109.9,244.8 123.5,214.5 133.1,206.8 140.6,194.3 146.7,190.8 151.8,190.8 156.3,188.2 160.2,182.2 163.8,176.7 167,172.8 169.9,168.7 172.5,167 175,164.6 177.3,162.4 179.5,160.4 181.5,156.9 183.4,155.2 185.2,152.9 187,151.7 188.6,150.8 190.1,149.4 191.6,147.1 193,145.8 194.4,144.2 195.7,142.8 197,142.1 198.2,140.5 199.4,139.6 200.5,138.6 201.6,138 202.7,137.2 203.7,136.3 204.7,135.2 205.7,134.2 206.6,133.6 207.5,132.9 208.4,132 209.3,131.3 210.1,130.8 211,130.3 211.8,129.8 212.6,129.5 213.3,129.2 214.1,128.9 214.8,128.6 215.5,128.4 216.2,128.1 216.9,127.9 217.6,127.7 218.3,127.5 218.9,127.3 219.5,127.2 220.2,127.1 220.8,127 221.4,126.9 222,126.8 222.6,126.8 223.1,126.7 223.7,126.6 224.2,126.6 224.8,126.5 225.3,126.5 225.9,126.4 226.4,126.4 226.9,126.4 227.4,126.3 227.9,126.3 228.4,126.2 228.9,126.2 229.3,126.2 229.8,126.1 230.3,126.1 230.7,126.1 231.2,126.1 231.6,126 232,126 232.5,126 232.9,126 233.3,125.9 233.7,125.9 234.1,125.9 234.5,125.9 234.9,125.9 235.3,125.9 235.7,125.9 236.1,125.8 236.5,125.8 236.9,125.8 237.3,125.8 237.6,125.8 238,125.8 238.4,125.8 238.7,125.8 239.1,125.8 239.4,125.7 239.8,125.7 240.1,125.7 240.8,125.7 241.4,125.7 242.1,125.7 242.7,125.7 243.4,125.7 244,125.7 244.6,125.6 245.2,125.6 245.7,125.6 246.3,125.6 246.9,125.6 247.4,125.6 248,125.6 248.5,125.6 249,125.6 249.6,125.6 250.1,125.6 250.6,125.6 251.1,125 251.3,124 251.6,122.5"/>
<polyline class="gp" points="86.8,340.3 109.9,240 123.5,212.6 133.1,201.9 140.6,188.3 146.7,188.3 151.8,187.8 156.3,173.3 160.2,166.9 163.8,162.9 167,157.5 169.9,153.2 172.5,150.2 175,148.3 177.3,146.8 179.5,145.5 181.5,143.2 183.4,141.8 185.2,140.4 187,138.4 188.6,137.1 190.1,134.5 191.6,133.5 193,132.2 194.4,131.4 195.7,129 197,128.4 198.2,128.1 199.4,127.4 200.5,126.8 201.6,126 202.7,125.6 203.7,124.8 204.7,124.7 205.7,124.7 206.6,124.3 207.5,124.3 208.4,124.3 209.3,124.1 210.1,124.1 211,124.1 211.8,124.1 212.6,124 213.3,124 214.1,124 214.8,124 215.5,124 216.2,124 216.9,124 217.6,124 218.3,124 218.9,124 219.5,124 220.2,124 220.8,124 221.4,124 222,124 222.6,124 223.1,124 223.7,124 224.2,124 224.8,124 225.3,124 225.9,124 226.4,124 226.9,124 227.4,124 227.9,124 228.4,124 228.9,124 229.3,124 229.8,123.4 230.3,122.4 230.7,120.9"/>
<polyline class="gp" points="86.8,319.9 109.9,239.4 123.5,218.6 133.1,205 140.6,193.5 146.7,190.3 151.8,186.9 156.3,185.7 160.2,179.2 163.8,173.1 167,168.6 169.9,165.5 172.5,162.1 175,160.5 177.3,157.2 179.5,156.2 181.5,154 183.4,151.9 185.2,150.6 187,147.3 188.6,146.7 190.1,144.8 191.6,144 193,143.4 194.4,142.7 195.7,141 197,140 198.2,138.8 199.4,137.5 200.5,136.4 201.6,135.9 202.7,134.6 203.7,133.9 204.7,133 205.7,131.9 206.6,130.9 207.5,130.2 208.4,129.5 209.3,129.3 210.1,128.7 211,128.3 211.8,128 212.6,127.7 213.3,127.5 214.1,127.3 214.8,127.1 215.5,127 216.2,126.8 216.9,126.7 217.6,126.6 218.3,126.5 218.9,126.4 219.5,126.3 220.2,126.2 220.8,126.2 221.4,126.1 222,126.1 222.6,126.1 223.1,126 223.7,126 224.2,126 224.8,125.9 225.3,125.9 225.9,125.9 226.4,125.9 226.9,125.9 227.4,125.8 227.9,125.8 228.4,125.8 228.9,125.8 229.3,125.8 229.8,125.8 230.3,125.8 230.7,125.8 231.2,125.7 231.6,125.7 232,125.7 232.5,125.7 232.9,125.7 233.3,125.7 233.7,125.7 234.1,125.7 234.5,125.7 234.9,125.7 235.3,125.7 235.7,125.7 236.1,125.6 236.5,125.6 236.9,125.6 237.3,125.6 237.6,125.6 238,125.6 238.4,125.6 238.7,125.6 239.1,125.6 239.4,125.6 239.8,125.6 240.1,125.6 240.8,125.6 241.4,125.6 242.1,125.6 242.7,125.6 243,125 243.4,124 243.7,122.5"/>
<polyline class="gp" points="86.8,309.7 109.9,240.7 123.5,214.9 133.1,206.1 140.6,190.6 146.7,188.2 151.8,186.3 156.3,181.6 160.2,176.4 163.8,171.1 167,166.4 169.9,162 172.5,158.9 175,158 177.3,155.4 179.5,153.4 181.5,152.1 183.4,149.8 185.2,148.2 187,145.5 188.6,143.4 190.1,142 191.6,140.4 193,138.8 194.4,138.6 195.7,137.5 197,136 198.2,134.9 199.4,133.7 200.5,131.6 201.6,130.7 202.7,129.5 203.7,128.4 204.7,127.8 205.7,127.4 206.6,127.2 207.5,126.6 208.4,126.4 209.3,126.2 210.1,125.9 211,125.5 211.8,125.3 212.6,125.1 213.3,124.9 214.1,124.8 214.8,124.7 215.5,124.7 216.2,124.6 216.9,124.5 217.6,124.5 218.3,124.4 218.9,124.4 219.5,124.3 220.2,124.3 220.8,124.3 221.4,124.3 222,124.3 222.6,124.3 223.1,124.2 223.7,124.2 224.2,124.2 224.8,124.2 225.3,124.2 225.9,124.2 226.4,124.2 226.9,124.2 227.4,124.2 227.9,124.2 228.4,124.2 228.9,124.2 229.3,124.2 229.8,124.2 230.3,124.1 230.7,124.1 231.2,124.1 231.6,124.1 232,124.1 232.5,124.1 232.9,124.1 233.3,124.1 233.7,124.1 234.1,124.1 234.5,124.1 234.9,124.1 235.3,124.1 235.7,124.1 236.1,124.1 236.5,124.1 236.9,124.1 237.3,124.1 237.6,124.1 238,124.1 238.4,124.1 238.7,124.1 239.1,124.1 239.4,124.1 239.8,124.1 240.1,124.1 240.8,124.1 241.4,124.1 242.1,124.1 242.7,124.1 243.4,124.1 244,124.1 244.6,124.1 245.2,124.1 245.7,124.1 246.3,124.1 246.9,124.1 247.4,124.1 248,124.1 248.5,124.1 249,124.1 249.6,124.1 250.1,124.1 250.6,124.1 251.1,124.1 251.6,124.1 252,124.1 252.5,124.1 253,124.1 253.4,124.1 253.9,124.1 254.3,124.1 254.8,124.1 255.2,124.1 255.7,124.1 256.1,124.1 256.5,124.1 256.9,124.1 257.3,124.1 257.7,124.1 258.1,124.1 258.5,124.1 258.9,124.1 259.3,124.1 259.7,124.1 260.1,124.1 260.4,124.1 260.8,124.1 261.2,124.1 261.5,124.1 261.9,124.1 262.2,124.1 262.6,124.1 262.9,124.1 263.3,124.1 263.8,124.1 264.3,124.1 264.8,124.1 265.3,124.1 265.8,124.1 266.2,124.1 266.7,124.1 267.2,124.1 267.6,124.1 268.1,124.1 268.5,124.1 268.9,124.1 269.4,124.1 269.8,124.1 270.2,124.1 270.6,124.1 271,124.1 271.4,124.1 271.8,124.1 272.2,124.1 272.6,124.1 273,124.1 273.4,124.1 273.8,124.1 274.1,124.1 274.5,124.1 274.9,124.1 275.2,124.1 275.6,124.1 275.9,124.1 276.3,124.1 276.6,124.1 277,124.1 277.4,124.1 277.9,124.1 278.3,124.1 278.7,124.1 279.2,124.1 279.6,124.1 280,124.1 280.4,124.1 280.8,124.1 281.2,124.1 281.6,124.1 282,124.1 282.4,124.1 282.8,124.1 283.2,124.1 283.5,124.1 283.9,124.1 284.3,124.1 284.6,124.1 285,124.1 285.2,123.5 285.3,122.5 285.3,121"/>
<polyline class="gp" points="86.8,310.9 109.9,244.9 123.5,216.5 133.1,200.5 140.6,189.4 146.7,189.4 151.8,185 156.3,178.7 160.2,173.9 163.8,167.6 167,162.8 169.9,158.2 172.5,155.5 175,154.7 177.3,153.8 179.5,150.9 181.5,149.2 183.4,145.3 185.2,143.3 187,143.3 188.6,142.2 190.1,139.4 191.6,138.1 193,136.2 194.4,135 195.7,134.9 197,133.5 198.2,131.7 199.4,130.1 200.5,129.6 201.6,128.8 202.7,128.1 203.7,127.5 204.7,127.4 205.7,127.1 206.6,127 207.5,126.5 208.4,126.5 209.3,126.3 210.1,126 211,125.8 211.8,125.7 212.6,125.7 213.3,125.7 214.1,125.6 214.8,125.6 215.5,125.6 216.2,125.6 216.9,125.6 217.6,125.6 218.3,125.6 218.9,125.5 219.5,125.5 220.2,125.5 220.8,125.5 221.4,125.5 222,125.5 222.6,125.5 223.1,125.5 223.7,125.5 224.2,125.5 224.8,125.5 225.3,125.5 225.9,125.5 226.4,125.5 226.9,125.5 227.4,125.5 227.9,125.5 228.4,125.5 228.9,125.5 229.3,125.5 229.8,125.5 230.3,125.5 230.7,125.5 231.2,125.5 231.6,125.5 232,125.5 232.5,125.5 232.9,125.5 233.3,125.5 233.7,125.5 234.1,125.5 234.5,125.5 234.9,125.5 235.3,125.5 235.7,125.5 236.1,125.5 236.5,125.5 236.9,125.5 237.3,125.5 237.6,125.5 238,125.5 238.4,125.5 238.7,125.5 239.1,125.5 239.4,125.5 239.8,125.5 240.1,125.5 240.8,125.5 241.4,125.5 242.1,125.5 242.7,125.5 243.4,125.5 244,125.5 244.6,125.5 245.2,125.5 245.7,125.5 246.3,125.5 246.9,125.5 247.4,125.5 248,125.5 248.5,125.5 249,125.5 249.6,125.5 250.1,125.5 250.6,125.5 251.1,125.5 251.6,125.5 252,125.5 252.5,125.5 253,125.5 253.4,125.5 253.9,125.5 254.3,125.5 254.8,125.5 255.2,125.5 255.7,125.5 256.1,125.5 256.5,125.5 256.9,125.5 257.3,125.5 257.7,125.5 258.1,125.5 258.5,125.5 258.9,125.5 259.3,125.5 259.7,125.5 260.1,124.9 260.3,123.9 260.4,122.4"/>
<polyline class="gp" points="86.8,325.9 109.9,241 123.5,219.7 133.1,211.6 140.6,193.5 146.7,188.3 151.8,183 156.3,171.8 160.2,165.3 163.8,159.6 167,154.7 169.9,151.3 172.5,150.3 175,147 177.3,144.6 179.5,141.5 181.5,138.9 183.4,138.3 185.2,137.2 187,135.4 188.6,133.3 190.1,132 191.6,130 193,129 194.4,128.7 195.7,127.9 197,127.9 198.2,127.4 199.4,126.4 200.5,125.8 201.6,125.8 202.7,125.6 203.7,125.6 204.7,125.6 205.7,125.6 206.6,125.6 207.5,125.6 208.4,125.6 209.3,125.6 210.1,125.6 211,125.6 211.8,125.6 212.6,125.6 213.3,125.6 214.1,125.6 214.8,125.6 215.5,125.6 216.2,125.6 216.9,125.6 217.6,125.6 218.3,125.6 218.9,125.6 219.5,125.6 220.2,125.6 220.8,125.6 221.4,125.6 222,125.6 222.6,125.6 223.1,125.6 223.7,125.6 224.2,125.6 224.8,125.6 225.3,125.6 225.9,125.6 226.4,125.6 226.9,125.6 227.4,125.6 227.9,125.6 228.4,125.6 228.9,125.6 229.3,125.6 229.8,125.6 230.3,125.6 230.7,125.6 231.2,125.6 231.6,125.6 232,125.6 232.5,125.6 232.9,125.6 233.3,125.6 233.7,125.6 234.1,125.6 234.5,125.6 234.9,125.6 235.3,125.6 235.7,125.6 236.1,125.6 236.5,125.6 236.9,125.6 237.3,125.6 237.6,125.6 238,125.6 238.4,125.6 238.7,125.6 239.1,125.6 239.4,125.6 239.8,125.6 240.1,125.6 240.8,125.6 241.4,125.6 242.1,125.6 242.7,125.6 243.4,125.6 244,125.6 244.6,125.6 245.2,125.6 245.7,125.6 246.3,125.6 246.9,125.6 247.4,125.6 248,125.6 248.5,125.6 249,125.6 249.6,125.6 250.1,125.6 250.6,125.6 251.1,125.6 251.6,125.6 252,125.6 252.5,125.6 253,125.6 253.4,125.6 253.9,125.6 254.3,125.6 254.8,125.6 255.2,125.6 255.7,125.6 256.1,125.6 256.5,125.6 256.9,125.6 257.3,125.6 257.7,125.6 258.1,125.6 258.5,125.6 258.9,125.6 259.3,125.6 259.7,125.6 260.1,125.6 260.4,125.6 260.8,125.6 261.2,125.6 261.5,125.6 261.9,125.6 262.2,125.6 262.6,125.6 262.9,125.6 263.3,125.6 263.8,125.6 264.3,125.6 264.8,125.6 265.3,125.6 265.8,125.6 266.2,125.6 266.7,125.6 267.2,125.6 267.6,125.6 268.1,125.6 268.5,125.6 268.9,125.6 269.4,125.6 269.8,125.6 270.2,125.6 270.6,125.6 271,125.6 271.4,125.6 271.7,125 271.8,124.1 272,122.6"/>
<polyline class="gp" points="86.8,324.5 109.9,246.8 123.5,220.6 133.1,210.9 140.6,195 146.7,193 151.8,188.7 156.3,180.7 160.2,174.6 163.8,168.8 167,164.2 169.9,160.1 172.5,156.1 175,153.9 177.3,152.4 179.5,151.1 181.5,149.4 183.4,148.5 185.2,146 187,145.7 188.6,144.6 190.1,143 191.6,141.1 193,139.8 194.4,138.6 195.7,136.3 197,135.3 198.2,134.3 199.4,132.9 200.5,131.7 201.6,130.9 202.7,129.9 203.7,129 204.7,128.6 205.7,128.2 206.6,127.9 207.5,127.7 208.4,127.5 209.3,127.2 210.1,127.2 211,127 211.8,126.9 212.6,126.8 213.3,126.8 214.1,126.8 214.8,126.7 215.5,126.7 216.2,126.7 216.9,126.7 217.6,126.7 218.3,126.6 218.9,126.6 219.5,126.6 220.2,126.6 220.8,126.6 221.4,126.6 222,126.6 222.6,126.6 223.1,126.6 223.7,126.6 224.2,126 224.8,125 225.3,123.5"/>
<polyline class="gp" points="86.8,331.4 109.9,241.2 123.5,216.7 133.1,209.1 140.6,201 146.7,192.5 151.8,188.5 156.3,184.8 160.2,180.5 163.8,175.1 167,169.5 169.9,165.7 172.5,164.4 175,161.1 177.3,158.5 179.5,155.7 181.5,155.4 183.4,153.3 185.2,150.3 187,148.8 188.6,147.1 190.1,143.6 191.6,143 193,142.6 194.4,141.4 195.7,140.1 197,139.1 198.2,137.1 199.4,136.2 200.5,134.8 201.6,134.3 202.7,133.5 203.7,132.2 204.7,131.3 205.7,130.7 206.6,130.6 207.5,129.7 208.4,129.3 209.3,129.1 210.1,128.7 211,128.5 211.8,128.2 212.6,128 213.3,127.8 214.1,127.7 214.8,127.6 215.5,127.5 216.2,127.4 216.9,127.4 217.6,127.3 218.3,127.2 218.9,127.2 219.5,127.1 220.2,127.1 220.8,127.1 221.4,127.1 222,127.1 222.6,127 223.1,127 223.7,127 224.2,127 224.8,127 225.3,127 225.9,127 226.4,127 226.9,126.9 227.4,126.9 227.9,126.9 228.4,126.9 228.9,126.9 229.3,126.9 229.8,126.9 230.3,126.9 230.7,126.9 231.2,126.9 231.6,126.9 232,126.9 232.5,126.9 232.9,126.9 233.3,126.9 233.7,126.9 234.1,126.9 234.5,126.9 234.9,126.9 235.3,126.9 235.7,126.9 236.1,126.9 236.5,126.9 236.9,126.8 237.3,126.8 237.6,126.8 238,126.8 238.4,126.8 238.7,126.8 239.1,126.8 239.4,126.8 239.8,126.8 240.1,126.8 240.8,126.8 241.4,126.8 242.1,126.8 242.7,126.8 243.4,126.8 244,126.8 244.6,126.8 245.2,126.8 245.7,126.8 246.3,126.8 246.9,126.8 247.4,126.8 248,126.8 248.5,126.8 249,126.8 249.6,126.8 250.1,126.8 250.6,126.8 251.1,126.8 251.6,126.8 252,126.8 252.5,126.8 253,126.8 253.4,126.8 253.9,126.8 254.3,126.8 254.8,126.8 255.2,126.8 255.7,126.8 256.1,126.8 256.5,126.8 256.9,126.8 257.3,126.8 257.7,126.8 258.1,126.8 258.5,126.8 258.9,126.8 259.3,126.8 259.7,126.8 260.1,126.8 260.4,126.8 260.8,126.8 261.2,126.8 261.5,126.8 261.9,126.8 262.2,126.8 262.6,126.8 262.9,126.8 263.3,126.8 263.8,126.8 264.3,126.8 264.8,126.8 265.3,126.8 265.8,126.8 266.2,126.8 266.7,126.8 267.2,126.8 267.6,126.8 268.1,126.8 268.5,126.8 268.9,126.8 269.4,126.8 269.8,126.8 270.2,126.8 270.6,126.8 271,126.8 271.4,126.8 271.8,126.8 272.2,126.8 272.6,126.8 273,126.8 273.4,126.8 273.8,126.8 274.1,126.8 274.5,126.8 274.9,126.8 275.2,126.8 275.6,126.8 275.9,126.8 276.3,126.8 276.6,126.8 277,126.8 277.4,126.8 277.9,126.8 278.3,126.8 278.7,126.8 279.2,126.8 279.6,126.8 280,126.8 280.4,126.8 280.8,126.8 281.2,126.8 281.6,126.8 282,126.8 282.4,126.8 282.8,126.8 283.2,126.8 283.5,126.8 283.9,126.8 284.3,126.8 284.6,126.8 285,126.8 285.3,126.8 285.7,126.8 286,126.8 286.4,126.8 286.7,126.8 287.1,126.8 287.5,126.6 287.6,126.3 287.6,125.8"/>
<polyline class="gp" points="86.8,327.6 109.9,228.7 123.5,217.2 133.1,211.7 140.6,195.4 146.7,194.4 151.8,192.7 156.3,189.7 160.2,184.2 163.8,176.8 167,174 169.9,169.3 172.5,167 175,164.6 177.3,163.4 179.5,160.3 181.5,157.9 183.4,157.7 185.2,155.7 187,152.9 188.6,150.9 190.1,149.3 191.6,148.7 193,148.7 194.4,147.5 195.7,146 197,145.2 198.2,143.4 199.4,141.8 200.5,139.8 201.6,138.2 202.7,137.4 203.7,136.9 204.7,135.9 205.7,135.5 206.6,134.9 207.5,134.3 208.4,133.8 209.3,133.5 210.1,133 211,132.6 211.8,132.2 212.6,132 213.3,131.7 214.1,131.6 214.8,131.4 215.5,131.2 216.2,131.1 216.9,131 217.6,130.9 218.3,130.8 218.9,130.7 219.5,130.6 220.2,130.6 220.8,130.5 221.4,130.5 222,130.5 222.6,130.4 223.1,130.4 223.7,130.4 224.2,130.4 224.8,130.3 225.3,129.3 225.9,127.7 226.4,125.1"/>
<polyline class="gp" points="86.8,338.1 109.9,245.7 123.5,223.1 133.1,201.7 140.6,194.7 146.7,194.7 151.8,189.7 156.3,184.2 160.2,177.6 163.8,173.2 167,169.4 169.9,164.7 172.5,161.9 175,159.3 177.3,158.6 179.5,155.3 181.5,153.8 183.4,151.6 185.2,151.5 187,149 188.6,147.4 190.1,145 191.6,142.8 193,142.3 194.4,141.3 195.7,140.7 197,139.5 198.2,137.6 199.4,136.5 200.5,135.1 201.6,134.2 202.7,133.7 203.7,133.1 204.7,132.6 205.7,131.9 206.6,131.6 207.5,131.3 208.4,131.3 209.3,131.3 210.1,131.3 211,131.2 211.8,131.1 212.6,131.1 213.3,131.1 214.1,131 214.8,131 215.5,131 216.2,131 216.9,131 217.6,131 218.3,130.9 218.9,130.9 219.5,130.9 220.2,130.9 220.8,130.9 221.4,130.9 222,130.9 222.6,130.9 223.1,130.9 223.7,130.9 224.2,130.9 224.8,130.9 225.3,130.9 225.9,130.9 226.4,130.9 226.9,130.9 227.4,130.9 227.9,130.9 228.4,130.9 228.9,130.9 229.3,130.9 229.8,130.9 230.3,130.9 230.7,130.9 231.2,130.9 231.6,130.9 232,130.9 232.5,130.9 232.9,130.9 233.3,130.9 233.7,130.9 234.1,130.9 234.5,130.9 234.9,130.9 235.3,130.9 235.7,130.9 236.1,130.9 236.5,130.9 236.9,129.9 237.3,128.3 237.6,125.7"/>
<polyline class="gp" points="86.8,340.3 109.9,248.6 123.5,220.9 133.1,209 140.6,199.4 146.7,197.1 151.8,192.3 156.3,192.3 160.2,188.9 163.8,185.6 167,181 169.9,176.9 172.5,171.5 175,169 177.3,165.4 179.5,164.2 181.5,162.3 183.4,160.2 185.2,158.8 187,157.1 188.6,154.2 190.1,152.7 191.6,150.7 193,149.9 194.4,148.6 195.7,148.1 197,147 198.2,145 199.4,144 200.5,143.5 201.6,142.6 202.7,141.5 203.7,140.7 204.7,138.9 205.7,138.6 206.6,138.2 207.5,137.7 208.4,137.2 209.3,136.5 210.1,136.1 211,135.9 211.8,135.5 212.6,135.3 213.3,135.1 214.1,134.9 214.8,134.7 215.5,134.6 216.2,134.5 216.9,134.3 217.6,134.2 218.3,134.1 218.9,134.1 219.5,134 220.2,133.9 220.8,133.9 221.4,133.9 222,133.8 222.6,133.8 223.1,133.8 223.7,133.8 224.2,133.7 224.8,133.7 225.3,133.7 225.9,133.7 226.4,133.7 226.9,133.6 227.4,133.6 227.9,133.6 228.4,133.6 228.9,133.6 229.3,133.6 229.8,133.6 230.3,133.6 230.7,133.5 231.2,133.5 231.6,133.5 232,133.5 232.5,132.5 232.9,130.9 233.3,128.4"/>
<polyline class="gp" points="86.8,315.7 109.9,251.9 123.5,220.2 133.1,216.2 140.6,199 146.7,195.1 151.8,190.2 156.3,187.4 160.2,180.2 163.8,175 167,169.8 169.9,164.8 172.5,161.5 175,161.5 177.3,160.1 179.5,159.3 181.5,158 183.4,156.9 185.2,153.5 187,151.3 188.6,149.2 190.1,148.7 191.6,147 193,145.8 194.4,144.4 195.7,143.2 197,142.2 198.2,140.7 199.4,140.7 200.5,139.4 201.6,138.1 202.7,137.3 203.7,136.8 204.7,136.7 205.7,136.2 206.6,136.2 207.5,136.1 208.4,136.1 209.3,136.1 210.1,135.9 211,135.7 211.8,135.7 212.6,135.7 213.3,135.7 214.1,135.7 214.8,135.7 215.5,135.6 216.2,135.6 216.9,135.6 217.6,135.6 218.3,134.6 218.9,133 219.5,130.5"/>
<polyline class="gp" points="86.8,340.3 109.9,255.9 123.5,226.4 133.1,202.4 140.6,191.6 146.7,191.6 151.8,191.5 156.3,187.2 160.2,180.5 163.8,176.5 167,171.7 169.9,167.4 172.5,163.6 175,160.2 177.3,160 179.5,158.4 181.5,154.8 183.4,153.6 185.2,153.3 187,151 188.6,149.4 190.1,147.5 191.6,146.3 193,145.2 194.4,144.3 195.7,143.1 197,141.7 198.2,140.8 199.4,139.7 200.5,139 201.6,138.5 202.7,138 203.7,137.4 204.7,137.4 205.7,137.4 206.6,137.4 207.5,137.4 208.4,137.4 209.3,137.4 210.1,137.4 211,137.4 211.8,137.4 212.6,137.4 213.3,137.4 214.1,137.4 214.8,137.4 215.5,137.4 216.2,137.4 216.9,137.4 217.6,137.4 218.3,137.4 218.9,137.4 219.5,137.4 220.2,137.4 220.8,137.4 221.4,137.4 222,137.4 222.6,137.4 223.1,137.4 223.7,137.4 224.2,137.4 224.8,137.4 225.3,137.4 225.9,137.4 226.4,137.4 226.9,137.4 227.4,137.4 227.9,137.4 228.4,137.4 228.9,137.4 229.3,137.4 229.8,137.4 230.3,137.4 230.7,137.4 231.2,137.4 231.6,137.4 232,137.4 232.5,137.4 232.9,137.4 233.3,137.4 233.7,137.4 234.1,137.4 234.5,137.4 234.9,137.4 235.3,137.4 235.7,137.4 236.1,137.4 236.5,137.4 236.9,137.4 237.3,137.4 237.6,137.4 238,137.4 238.4,137.4 238.7,137.4 239.1,137.4 239.4,137.4 239.8,137.4 240.1,137.4 240.8,137.4 241.4,137.4 242.1,137.4 242.7,137.4 243.4,137.4 244,137.4 244.6,137.4 245.2,137.4 245.7,137.4 246.3,137.4 246.9,137.4 247.4,137.4 248,137.4 248.5,137.4 249,137.4 249.6,137.4 250.1,137.4 250.6,137.4 251.1,137.4 251.6,137.4 252,137.4 252.5,137.4 253,137.4 253.4,137.4 253.9,137.4 254.3,137.4 254.8,136.4 255,134.9 255.2,132.3"/>
<polyline class="gp" points="86.8,324.7 109.9,250.6 123.5,220.5 133.1,211.2 140.6,202.3 146.7,198.6 151.8,197.3 156.3,192.8 160.2,186.8 163.8,182.3 167,177.5 169.9,172.4 172.5,171.2 175,168.7 177.3,165.2 179.5,162.4 181.5,160.6 183.4,159 185.2,157.1 187,156.2 188.6,154.6 190.1,153.4 191.6,153.2 193,150.5 194.4,150.1 195.7,148.8 197,147.1 198.2,145.6 199.4,144.6 200.5,143.5 201.6,142.5 202.7,141.8 203.7,140.8 204.7,140.2 205.7,139.9 206.6,139.8 207.5,139.6 208.4,139.6 209.3,139.5 210.1,139.3 211,139.2 211.8,139.1 212.6,139 213.3,139 214.1,138.9 214.8,138.9 215.5,138.9 216.2,138.9 216.9,138.9 217.6,138.8 218.3,138.8 218.9,138.8 219.5,138.8 220.2,138.8 220.8,138.8 221.4,137.8 222,136.2 222.6,133.6"/>
<polyline class="gp" points="86.8,329.9 109.9,234.2 123.5,220.9 133.1,219.1 140.6,199.5 146.7,196.7 151.8,186.9 156.3,186.9 160.2,186.1 163.8,180.3 167,175.4 169.9,170.2 172.5,168.6 175,165.6 177.3,164.7 179.5,163.7 181.5,160.9 183.4,159.7 185.2,157.6 187,156 188.6,153.2 190.1,152.3 191.6,150.8 193,150 194.4,149.1 195.7,148.4 197,146.3 198.2,145.5 199.4,144.3 200.5,144.1 201.6,142.8 202.7,141.8 203.7,141.7 204.7,141.5 205.7,140.9 206.6,140.8 207.5,140.6 208.4,140.4 209.3,140.3 210.1,140.2 211,140.2 211.8,140.2 212.6,140.2 213.3,140.1 214.1,140.1 214.8,140.1 215.5,140.1 216.2,140.1 216.9,140.1 217.6,140.1 218.3,140.1 218.9,140.1 219.5,140.1 220.2,140.1 220.8,140.1 221.4,140.1 222,140.1 222.6,140.1 223.1,140.1 223.7,140.1 224.2,140.1 224.8,140.1 225.3,140.1 225.9,139.1 226.4,137.5 226.9,134.9"/>
<polyline class="gp" points="86.8,321 109.9,253.3 123.5,225.1 133.1,219.1 140.6,202.9 146.7,202.2 151.8,188.5 156.3,187.9 160.2,184.1 163.8,178.6 167,173.1 169.9,168.7 172.5,166.3 175,163 177.3,162 179.5,159.3 181.5,157 183.4,154.5 185.2,153.1 187,152.4 188.6,150.1 190.1,148.1 191.6,146.8 193,145.4 194.4,144.2 195.7,144.2 197,143.9 198.2,143.1 199.4,142.4 200.5,142.4 201.6,142.4 202.7,142.4 203.7,142.4 204.7,142.2 205.7,142.2 206.6,141.2 207.5,139.6 208.4,137"/>
<polyline class="gp" points="86.8,340.3 109.9,258 123.5,231.7 133.1,222.4 140.6,205.1 146.7,203.3 151.8,194.7 156.3,192.8 160.2,186.2 163.8,181.6 167,177.1 169.9,171.3 172.5,170.3 175,167.9 177.3,165.8 179.5,165.2 181.5,162.6 183.4,159.4 185.2,157.9 187,157.5 188.6,154.7 190.1,152.9 191.6,151.8 193,151.1 194.4,149.8 195.7,148 197,147.3 198.2,145.9 199.4,145.9 200.5,144.8 201.6,144.3 202.7,144.3 203.7,144 204.7,143.7 205.7,143.7 206.6,143.6 207.5,143.6 208.4,143.6 209.3,143.6 210.1,143.6 211,143.6 211.8,143.6 212.6,143.6 213.3,143.6 214.1,143.6 214.8,143.6 215.5,143.6 216.2,143.6 216.9,143.6 217.6,143.6 218.3,142.6 218.9,141 219.5,138.4"/>
<polyline class="gp" points="86.8,308.8 109.9,252.1 123.5,229.4 133.1,212.1 140.6,204.5 146.7,195.7 151.8,193.2 156.3,188.1 160.2,181.5 163.8,177.4 167,174.4 169.9,169 172.5,165.6 175,162.8 177.3,160.5 179.5,157.9 181.5,156.8 183.4,156 185.2,154.6 187,152.7 188.6,151.1 190.1,149.1 191.6,148 193,148 194.4,146.9 195.7,145.9 197,145.3 198.2,145.3 199.4,145.1 200.5,145.1 201.6,145.1 202.7,144.8 203.7,144.8 204.7,144.8 205.7,144.8 206.6,144.8 207.5,144.8 208.4,144.8 209.3,144.8 210.1,144.8 211,144.8 211.8,144.8 212.6,144.8 213.3,144.8 214.1,144.8 214.8,144.8 215.5,144.8 216.2,144.8 216.9,144.8 217.6,144.8 218.3,144.8 218.9,144.8 219.5,144.8 220.2,144.8 220.8,144.8 221.4,144.8 222,144.8 222.6,144.8 223.1,144.8 223.7,144.8 224.2,144.8 224.8,144.8 225.3,144.8 225.9,144.8 226.4,144.8 226.9,144.8 227.4,144.8 227.9,144.8 228.4,144.8 228.9,144.8 229.3,144.8 229.8,144.8 230.3,144.8 230.7,144.8 231.2,144.8 231.6,143.8 232,142.3 232.5,139.7"/>
<polyline class="gp" points="86.8,335.4 109.9,259.8 123.5,222 133.1,215.5 140.6,204.8 146.7,203.1 151.8,197.9 156.3,188.9 160.2,183.6 163.8,179.8 167,175.7 169.9,171.1 172.5,168.4 175,164.8 177.3,164 179.5,160.5 181.5,159.8 183.4,156.5 185.2,155.5 187,154 188.6,152.5 190.1,151.4 191.6,149.7 193,149 194.4,148.5 195.7,148.2 197,148 198.2,147.3 199.4,146.8 200.5,146.8 201.6,146.8 202.7,146.8 203.7,146.8 204.7,146.8 205.7,146.8 206.6,146.8 207.5,146.8 208.4,146.8 209.3,146.8 210.1,146.8 211,146.8 211.8,146.8 212.6,146.8 213.3,146.8 214.1,146.8 214.8,145.8 215.5,144.2 216.2,141.7"/>
<polyline class="gp" points="86.8,333.4 109.9,249 123.5,225.5 133.1,213.1 140.6,203.1 146.7,202.6 151.8,197.9 156.3,192.3 160.2,186.3 163.8,180 167,177 169.9,172.8 172.5,169.3 175,166.7 177.3,164.5 179.5,164.5 181.5,163.6 183.4,161.8 185.2,159.5 187,157.5 188.6,156.4 190.1,154.8 191.6,153.8 193,152.7 194.4,152.1 195.7,151.7 197,151.4 198.2,150.4 199.4,150.4 200.5,150.4 201.6,150.4 202.7,150.1 203.7,150.1 204.7,149.8 205.7,149.8 206.6,149.8 207.5,149.8 208.4,149.8 209.3,149.8 210.1,149.8 211,149.8 211.8,149.8 212.6,149.8 213.3,149.8 214.1,149.8 214.8,149.8 215.5,149.8 216.2,149.8 216.9,149.8 217.6,149.8 218.3,149.8 218.9,149.8 219.5,149.8 220.2,148.8 220.8,147.3 221.4,144.7"/>
<polyline class="gp" points="86.8,340.3 109.9,259.8 123.5,226.5 133.1,214.2 140.6,202.3 146.7,197.7 151.8,190.2 156.3,190.2 160.2,188.9 163.8,182.9 167,180.1 169.9,174.6 172.5,172.9 175,169.5 177.3,168.5 179.5,166.4 181.5,164.4 183.4,161.7 185.2,159.2 187,157 188.6,155.8 190.1,154.6 191.6,154.2 193,154.2 194.4,152.7 195.7,152.6 197,152.2 198.2,151.8 199.4,151.4 200.5,151.3 201.6,150.8 202.7,150.8 203.7,150.8 204.7,150.8 205.7,149.8 206.6,148.2 207.5,145.7"/>
<polyline class="gp" points="86.8,333.9 109.9,256.3 123.5,221.4 133.1,213.2 140.6,201.7 146.7,197.2 151.8,194 156.3,191.9 160.2,186.9 163.8,180.8 167,175.6 169.9,172.6 172.5,170.5 175,167.2 177.3,164.8 179.5,163.9 181.5,161.6 183.4,159.9 185.2,157.7 187,156.4 188.6,155.3 190.1,153.5 191.6,152.2 193,152.2 194.4,152.2 195.7,152.2 197,152.2 198.2,152.2 199.4,152.2 200.5,152.2 201.6,152.2 202.7,151.2 203.7,149.6 204.7,147"/>
<polyline class="gp" points="86.8,340.3 109.9,259.8 123.5,231.7 133.1,220 140.6,205.5 146.7,201.3 151.8,197.9 156.3,195.3 160.2,188.9 163.8,184.3 167,180.5 169.9,176.9 172.5,173.7 175,171.3 177.3,168.9 179.5,167 181.5,166.2 183.4,163.6 185.2,161 187,161 188.6,158.8 190.1,157.6 191.6,155.8 193,155.8 194.4,155.7 195.7,155.7 197,155.7 198.2,155.7 199.4,155.7 200.5,155.7 201.6,154.3 202.7,152.4 203.7,149.8"/>
<polyline class="gp" points="86.8,370.8 109.9,298.5 123.5,267 133.1,244.5 140.6,231 146.7,226.6 151.8,220 156.3,212.5 160.2,205.5 163.8,197.1 167,192.4 169.9,188.2 172.5,185.2 175,183 177.3,180.9 179.5,178.9 181.5,177 183.4,175.1 185.2,173.3 187,171.5 188.6,169.9 190.1,168.5 191.6,167.3 193,166.2 194.4,165.1 195.7,164.1 197,163.1 198.2,162.6 199.4,162.3 200.5,162 201.6,161.7 202.7,161.4 203.7,160.6 204.7,159.2 205.7,157.6 206.6,156 207.5,154.9 208.4,153.9"/>
<polyline class="gp" points="86.8,352 109.9,296 123.5,262 133.1,242 140.6,229 146.7,223 151.8,217 156.3,209.5 160.2,201.9 163.8,193.6 167,188.9 169.9,184.7 172.5,181.7 175,179.5 177.3,177.4 179.5,175.4 181.5,173.5 183.4,171.6 185.2,169.8 187,168 188.6,166.4 190.1,165 191.6,163.8 193,162.7 194.4,161.6 195.7,160.6 197,159.6 198.2,158.9 199.4,158.4 200.5,157.9 201.6,157.4 202.7,156.9 203.7,156.5 204.7,156 205.7,155.6 206.6,155.1 207.5,154.7 208.4,154.4 209.3,154.2 210.1,154 211,153.9 211.8,153.7 212.6,153.5 213.3,153.3 214.1,153.2 214.8,153.2 215.5,153.1 216.2,153.1 216.9,153.1 217.6,153.1 218.3,153 218.9,153 219.5,153 220.2,153 220.8,152.8 221.4,152.4 222,151.6 222.6,150.8 223.1,149.9 223.7,149 224.2,148.3 224.8,147.8 225.3,147.2 225.9,146.6 226.4,145.7"/>
<polyline class="gp" points="86.8,344 109.9,291 123.5,258 133.1,240 140.6,227 146.7,221 151.8,214 156.3,206 160.2,198.4 163.8,190.1 167,185.4 169.9,181.2 172.5,178.2 175,176 177.3,173.9 179.5,171.9 181.5,170 183.4,168.1 185.2,166.3 187,164.5 188.6,162.9 190.1,161.5 191.6,160.3 193,159.2 194.4,158.1 195.7,157.1 197,156.1 198.2,155.1 199.4,154.3 200.5,153.4 201.6,152.6 202.7,151.8 203.7,151 204.7,150.2 205.7,149.7 206.6,149.3 207.5,148.9 208.4,148.5 209.3,148.2 210.1,147.8 211,147.4 211.8,147.1 212.6,146.9 213.3,146.8 214.1,146.7 214.8,146.6 215.5,146.5 216.2,146.4 216.9,146.3 217.6,146.2 218.3,146.1 218.9,146 219.5,145.9 220.2,145.8 220.8,145.8 221.4,145.8 222,145.7 222.6,145.7 223.1,145.7 223.7,145.7 224.2,145.7 224.8,145.6 225.3,145.6 225.9,145.6 226.4,145.6 226.9,145.6 227.4,145.5 227.9,145.5 228.4,145.5 228.9,145.5 229.3,145.5 229.8,145.5 230.3,145.5 230.7,145.4 231.2,145.4 231.6,145.4 232,145.3 232.5,145 232.9,144.5 233.3,143.9 233.7,143.3 234.1,142.7 234.5,142 234.9,141.4 235.3,140.9 235.7,140.5 236.1,140.2 236.5,140 236.9,139.7 237.3,139.1 237.6,138.2"/>
<polyline class="gp" points="86.8,356 109.9,294 123.5,255 133.1,237 140.6,225 146.7,218 151.8,211 156.3,202.5 160.2,194.9 163.8,186.6 167,181.9 169.9,177.7 172.5,174.7 175,172.5 177.3,170.4 179.5,168.4 181.5,166.5 183.4,164.6 185.2,162.8 187,161 188.6,159.4 190.1,157.8 191.6,156.3 193,154.8 194.4,153.4 195.7,152 197,150.7 198.2,149.8 199.4,149 200.5,148.2 201.6,147.4 202.7,146.6 203.7,145.9 204.7,145.2 205.7,144.7 206.6,144.2 207.5,143.7 208.4,143.3 209.3,142.9 210.1,142.4 211,142 211.8,141.6 212.6,141.4 213.3,141.2 214.1,141 214.8,140.8 215.5,140.7 216.2,140.5 216.9,140.3 217.6,140.2 218.3,140 218.9,139.9 219.5,139.7 220.2,139.6 220.8,139.5 221.4,139.5 222,139.4 222.6,139.4 223.1,139.3 223.7,139.3 224.2,139.3 224.8,139.2 225.3,139.2 225.9,139.1 226.4,139.1 226.9,139 227.4,139 227.9,139 228.4,138.9 228.9,138.9 229.3,138.9 229.8,138.8 230.3,138.8 230.7,138.7 231.2,138.7 231.6,138.7 232,138.6 232.5,138.6 232.9,138.6 233.3,138.5 233.7,138.5 234.1,138.5 234.5,138.4 234.9,138.4 235.3,138.4 235.7,138.4 236.1,138.4 236.5,138.4 236.9,138.4 237.3,138.4 237.6,138.3 238,138.3 238.4,138.3 238.7,138.3 239.1,138.3 239.4,138.3 239.8,138.3 240.1,138.3 240.8,138.3 241.4,138.3 242.1,138.2 242.7,138.2 243.4,138.2 244,138.2 244.6,138.2 245.2,138.2 245.7,138.2 246.3,138.2 246.9,138.1 247.4,138.1 248,138.1 248.5,138.1 249,138.1 249.6,138.1 250.1,138.1 250.6,138.1 251.1,138 251.6,138 252,138 252.5,138 253,138 253.4,138 253.9,138 254.3,138 254.8,138 255.2,138 255.7,137.9 256.1,137.9 256.5,137.9 256.9,137.8 257.3,137.5 257.7,137.1 258.1,136.5 258.5,135.9 258.9,135.3 259.3,134.7 259.7,134.1 260.1,133.6 260.4,133.2 260.8,132.9 261.2,132.7 261.5,132.6 261.9,132.6 262.1,132.3 262.2,131.7 262.4,130.8"/>
<polyline class="gp" points="86.8,338.2 109.9,282.2 123.5,248.2 133.1,228.2 140.6,215.2 146.7,209.2 151.8,203.2 156.3,195.7 160.2,195.7 163.8,188.8 167,184.1 169.9,179.9 172.5,176.9 175,174.7 177.3,172.6 179.5,170.6 181.5,168.7 183.4,166.8 185.2,165 187,163.2 188.6,161.6 190.1,160.2 191.6,159 193,157.9 194.4,156.8 195.7,155.8 197,154.8 198.2,154.1 199.4,153.6 200.5,153.1 201.6,152.6 202.7,152.1 203.7,151.7 204.7,151.2 205.7,150.8 206.6,150.3 207.5,149.9 208.4,149.6 209.3,149.4 210.1,149.2 211,149.1 211.8,148.9 212.6,148.7 213.3,148.5 214.1,148.4 214.8,147.4 215.5,145.8 216.2,143.2"/>
<polyline class="gp" points="86.8,326.2 109.9,273.2 123.5,240.2 133.1,222.2 140.6,209.2 146.7,203.2 151.8,196.2 156.3,188.2 160.2,188.2 163.8,185.3 167,180.6 169.9,176.4 172.5,173.4 175,171.2 177.3,169.1 179.5,167.1 181.5,165.2 183.4,163.3 185.2,161.5 187,159.7 188.6,158.1 190.1,156.7 191.6,155.5 193,154.4 194.4,153.3 195.7,152.3 197,151.3 198.2,150.3 199.4,149.5 200.5,148.6 201.6,147.8 202.7,147 203.7,146.2 204.7,145.4 205.7,144.9 206.6,144.5 207.5,144.1 208.4,143.7 209.3,143.4 210.1,143 211,142.6 211.8,142.3 212.6,142.1 213.3,142 214.1,141.9 214.8,141.8 215.5,141.7 216.2,141.6 216.9,141.5 217.6,141.4 218.3,141.3 218.9,141.2 219.5,141.1 220.2,141 220.8,141 221.4,141 222,140.9 222.6,140.9 223.1,140.9 223.7,140.9 224.2,140.9 224.8,140.8 225.3,140.8 225.9,140.8 226.4,139.8 226.9,138.2 227.4,135.6"/>
<polyline class="gp" points="86.8,334.2 109.9,272.2 123.5,233.2 133.1,215.2 140.6,203.2 146.7,196.2 151.8,189.2 156.3,180.7 160.2,180.7 163.8,180.7 167,177.1 169.9,172.9 172.5,169.9 175,167.7 177.3,165.6 179.5,163.6 181.5,161.7 183.4,159.8 185.2,158 187,156.2 188.6,154.6 190.1,153 191.6,151.5 193,150 194.4,148.6 195.7,147.2 197,145.9 198.2,145 199.4,144.2 200.5,143.4 201.6,142.6 202.7,141.8 203.7,141.1 204.7,140.4 205.7,139.9 206.6,139.4 207.5,138.9 208.4,138.5 209.3,138.1 210.1,137.6 211,137.2 211.8,136.8 212.6,136.6 213.3,136.4 214.1,136.2 214.8,136 215.5,135.9 216.2,135.7 216.9,135.5 217.6,135.4 218.3,135.2 218.9,135.1 219.5,134.9 220.2,134.8 220.8,134.7 221.4,134.7 222,134.6 222.6,134.6 223.1,134.5 223.7,134.5 224.2,134.5 224.8,134.4 225.3,134.4 225.9,134.3 226.4,134.3 226.9,134.2 227.4,134.2 227.9,134.2 228.4,134.1 228.9,134.1 229.3,134.1 229.8,134 230.3,134 230.7,133.9 231.2,133.9 231.6,133.9 232,133.8 232.5,133.8 232.9,133.8 233.3,133.7 233.7,133.7 234.1,133.7 234.5,133.6 234.9,133.6 235.3,133.6 235.7,133.6 236.1,133.6 236.5,133.6 236.9,133.6 237.3,133.6 237.6,133.5 238,133.5 238.4,133.5 238.7,133.5 239.1,133.5 239.4,133.5 239.8,133.5 240.1,133.5 240.8,133.5 241.4,133.5 242.1,133.4 242.7,133.4 243.4,133.4 244,133.4 244.6,133.4 245.2,133.4 245.7,133.4 246.3,133.4 246.9,133.3 247.4,133.3 248,133.3 248.5,133.3 249,133.3 249.6,133.3 250.1,133.3 250.6,133.3 251.1,132.2 251.3,130.7 251.6,128.1"/>
<polyline class="gp" points="86.8,355.8 109.9,293.9 123.5,261.9 133.1,243.8 140.6,226 146.7,221.8 151.8,214.4 156.3,206.5 160.2,198 163.8,193.5 167,188.8 169.9,186 172.5,181.7 175,180.1 177.3,176.8 179.5,175.3 181.5,173.5 183.4,171.5 185.2,169.5 187,166.5 188.6,165.5 190.1,164.3 191.6,163 193,162.2 194.4,160.7 195.7,159.5 197,158.1 198.2,157 199.4,156 200.5,154.8 201.6,153.3 202.7,152.4 203.7,151.2 204.7,149.9 205.7,149.3 206.6,148.6 207.5,148.1 208.4,147.7 209.3,147.2 210.1,146.5 211,145.8 211.8,145.1 212.6,144.7 213.3,144.3 214.1,144 214.8,143.6 215.5,143.2 216.2,142.9 216.9,142.5 217.6,142.2 218.3,141.9 218.9,141.6 219.5,141.2 220.2,141 220.8,140.8 221.4,140.6 222,140.4 222.6,140.3 223.1,140.1 223.7,140 224.2,139.8 224.8,139.7 225.3,139.5 225.9,139.4 226.4,139.2 226.9,139.1 227.4,138.9 227.9,138.8 228.4,137.6 228.9,136 229.3,133.2"/>
<polyline class="gp" points="86.8,344.2 109.9,264 123.5,236.9 133.1,222.6 140.6,212.5 146.7,211.3 151.8,199.6 156.3,199.6 160.2,193.8 163.8,189.7 167,184.8 169.9,181.1 172.5,178.6 175,176.3 177.3,174 179.5,171 181.5,169.1 183.4,166.9 185.2,165.7 187,163.7 188.6,161.1 190.1,159.9 191.6,158.6 193,157.6 194.4,156.1 195.7,155.4 197,153.8 198.2,152.9 199.4,152.4 200.5,151 201.6,149.8 202.7,148.3 203.7,147.6 204.7,146.5 205.7,145.6 206.6,145.1 207.5,144.4 208.4,143.6 209.3,143 210.1,142.4 211,141.9 211.8,141.3 212.6,140.9 213.3,140.5 214.1,140.1 214.8,139.8 215.5,139.4 216.2,139.1 216.9,138.7 217.6,138.4 218.3,138.1 218.9,137.7 219.5,137.4 220.2,137.1 220.8,137 221.4,136.8 222,136.6 222.6,136.5 223.1,136.3 223.7,136.2 224.2,136 224.8,135.8 225.3,135.7 225.9,135.5 226.4,135.4 226.9,135.3 227.4,135.1 227.9,135 228.4,134.8 228.9,134.7 229.3,134.6 229.8,134.5 230.3,134.3 230.7,134.2 231.2,134.1 231.6,134 232,133.8 232.5,133.7 232.9,133.6 233.3,133.5 233.7,133.4 234.1,133.3 234.5,133.2 234.9,133 235.3,132.9 235.7,132.8 236.1,132.7 236.5,132.6 236.9,132.5 237.3,132.4 237.6,132.3 238,132.2 238.4,132.1 238.7,132.1 239.1,132 239.4,131.9 239.8,131.8 240.1,131.7 240.8,131.6 241.4,131.4 242.1,131.2 242.7,131.1 243.4,131 244,130.8 244.6,130.7 245.2,130.5 245.7,130.4 246.3,130.3 246.9,130.1 247.4,130 248,129.9 248.5,129.8 249,129.7 249.6,129.6 250.1,129.5 250.6,129.4 251.1,129.3 251.6,129.2 252,129.1 252.5,129 253,128.9 253.4,128.8 253.9,128.7 254.3,128.6 254.8,128.5 255,127.5 255.2,125.9 255.4,123.3"/>
<polyline class="gp" points="86.8,344.5 109.9,272 123.5,237.5 133.1,228.5 140.6,214.3 146.7,212.4 151.8,203.9 156.3,201.3 160.2,196.1 163.8,191.7 167,184.7 169.9,180.4 172.5,179.2 175,177 177.3,174.2 179.5,172.2 181.5,170.6 183.4,169 185.2,167.7 187,164.6 188.6,163.4 190.1,162.4 191.6,160.7 193,159.4 194.4,158.5 195.7,156.9 197,156 198.2,154.7 199.4,153.8 200.5,152.7 201.6,151.6 202.7,150.4 203.7,148.9 204.7,147.7 205.7,146.9 206.6,145.9 207.5,145.4 208.4,145.1 209.3,144.3 210.1,143.8 211,143.2 211.8,142.5 212.6,142 213.3,141.6 214.1,141.3 214.8,140.9 215.5,140.5 216.2,140.2 216.9,139.9 217.6,139.5 218.3,139.2 218.9,138.9 219.5,138.6 220.2,138.3 220.8,138.1 221.4,137.9 222,137.8 222.6,137.6 223.1,137.4 223.7,137.3 224.2,137.1 224.8,137 225.3,136.8 225.9,136.7 226.4,136.5 226.9,136.4 227.4,136.3 227.9,136.1 228.4,136 228.9,135.9 229.3,135.7 229.8,135.6 230.3,135.5 230.7,135.3 231.2,135.2 231.6,135.1 232,135 232.5,134.9 232.9,134.7 233.3,134.6 233.7,134.5 234.1,134.4 234.5,134.3 234.9,134.2 235.3,134.1 235.7,134 236.1,133.9 236.5,133.8 236.9,133.7 237.3,133.6 237.6,133.5 238,133.4 238.4,133.3 238.7,133.2 239.1,133.1 239.4,133 239.8,133 240.1,132.9 240.8,132.7 241.4,132.6 242.1,132.4 242.7,132.3 243.4,132.1 244,132 244.6,131.8 245.2,131.7 245.7,131.6 246.3,131.4 246.9,131.3 247.4,130.2 247.7,128.6 248,125.9"/>
<polyline class="gp" points="86.8,344.3 109.9,260.2 123.5,238.6 133.1,225 140.6,206.2 146.7,206.2 151.8,201 156.3,190.7 160.2,183.4 163.8,178 167,173.4 169.9,170.1 172.5,166.9 175,164.8 177.3,163.3 179.5,161.9 181.5,160.4 183.4,158 185.2,155.2 187,154.4 188.6,153.8 190.1,151.9 191.6,150.4 193,149.1 194.4,147.7 195.7,146.7 197,145.2 198.2,144.8 199.4,143.3 200.5,142.2 201.6,140.9 202.7,139.4 203.7,138.8 204.7,137.3 205.7,136 206.6,135.5 207.5,134.8 208.4,134.1 209.3,133.6 210.1,133.2 211,132.7 211.8,132.3 212.6,131.9 213.3,131.6 214.1,131.3 214.8,131 215.5,130.8 216.2,130.5 216.9,130.3 217.6,130 218.3,129.8 218.9,129.6 219.5,129.5 220.2,129.3 220.8,129.2 221.4,129.1 222,129.1 222.6,129 223.1,128.9 223.7,128.8 224.2,128.8 224.8,128.7 225.3,128.6 225.9,128.6 226.4,128.5 226.9,128.5 227.4,128.4 227.9,128.4 228.4,128.4 228.9,128.3 229.3,128.3 229.8,128.2 230.3,128.2 230.7,128.2 231.2,128.1 231.6,128.1 232,128.1 232.5,128.1 232.9,128 233.3,128 233.7,128 234.1,128 234.5,127.9 234.9,127.9 235.3,127.9 235.7,127.9 236.1,127.9 236.5,127.9 236.9,127.8 237.3,127.8 237.6,127.8 238,127.8 238.4,127.8 238.7,127.8 239.1,127.8 239.4,127.8 239.8,127.7 240.1,127.7 240.8,127.7 241.4,127.7 242.1,127.7 242.7,127.7 243.4,127.7 244,127.6 244.6,127.6 245.2,127.6 245.7,127.6 246.3,127.6 246.9,127.6 247.4,127.6 248,126.6 248.2,125 248.5,122.4"/>
<path d="M90.5 264.5L106.2 227.8M114.9 210.8L118.5 204.8M126.9 187.6L129.7 180.4M136.2 162.3L137.6 158.1" fill="none" stroke="#3d7fc6" stroke-width="1.1"/>
<polyline class="bp" points="86.76,273.28 109.94,219.02 123.5,196.57 133.12,171.43 140.58,148.98 146.68,136.68 151.84,129.77 156.3,128.01 160.24,125.19 163.77,120.82 166.96,115.46 169.87,112.39 172.54,111.73 175.02,110.62 177.33,108.86 179.49,108.4 181.52,108.05 183.43,107.49 185.24,106.55 186.95,104.68 188.58,101.99 190.14,101.5 191.63,101.5 193.05,101.49 194.41,101.49 195.73,101.49 196.99,101.48 198.2,101.48 199.38,101.48 200.51,101.47 201.61,101.47 202.67,101.47 203.7,101.46 204.7,101.46 205.67,101.45 206.61,101.45 207.53,101.45 208.42,101.44 209.29,101.44 210.13,101.43 210.96,101.43 211.77,101.43 212.55,101.42 213.32,101.42 214.07,101.41 214.81,101.41 215.53,101.41 216.23,101.41 216.92,101.4 217.6,101.4 218.26,101.39 218.91,101.39 219.55,101.38 220.17,101.38 220.79,101.37 221.39,101.37 221.98,101.37 222.56,101.36 223.13,101.35 223.7,101.35 224.25,101.35 224.79,101.35 225.33,101.34 225.85,101.34 226.37,101.34 226.88,101.33 227.39,101.33 227.88,101.33 228.37,101.32 228.85,101.32 229.33,101.31 229.79,101.31 230.25,101.3 230.71,101.3 231.16,101.29 231.6,101.29 232.04,101.28 232.47,101.28 232.9,101.28 233.32,101.27 233.73,101.26 234.14,101.26 234.55,101.26 234.95,101.25 235.34,101.25 235.74,101.24 236.12,101.24 236.5,101.24 236.88,101.23 237.26,101.23 237.63,101.23 237.99,101.22 238.35,101.22 238.71,101.22 239.06,101.21 239.42,101.21 239.76,101.2 240.1,101.2 240.44,101.2 240.78,101.2 241.11,101.19 241.44,101.19 241.77,101.18 242.09,101.18 242.41,101.17 242.73,101.17 243.04,101.17 243.35,101.16 243.66,101.16 243.97,101.16 244.27,101.16 244.57,101.15 244.87,101.15 245.16,101.15 245.45,101.15 245.74,101.14 246.03,101.09 246.32,101.02 246.6,100.92 246.88,100.8 247.16,100.65 247.43,100.46 247.7,100.23 247.98,99.97 248.24,99.66 248.51,99.31 248.77,98.91 249.04,98.43 249.3,97.22 249.56,96.81 249.81,96.52 250.07,96.34 250.32,96.23 250.57,96.17 250.82,96.14 251.06,96.14 251.31,96.14 251.55,96.13 251.79,96.13 252.03,96.13 252.27,96.12 252.51,96.12 252.74,96.12 252.98,96.11 253.21,96.11 253.44,96.11 253.67,96.1 253.89,96.1 254.12,96.1 254.34,96.09 254.56,96.09 254.78,96.08 255,96.08 255.22,96.08 255.44,96.07 255.65,96.07 255.87,96.07 256.08,96.07 256.29,96.06 256.5,96.06 256.71,96.06 256.92,96.05 257.12,96.05 257.33,96.05 257.53,96.04 257.73,96.04 257.93,96.04 258.13,96.03 258.33,96.03 258.53,96.03 258.72,96.02 258.92,96.02 259.11,96.02 259.31,96.02 259.5,96.01 259.69,96.01 259.88,96 260.07,96 260.25,96 260.44,95.99 260.62,95.99 260.81,95.99 260.99,95.98 261.17,95.98 261.36,95.98 261.54,95.97 261.72,95.97 261.89,95.97 262.07,95.96 262.25,95.96 262.42,95.96 262.6,95.95 262.77,95.95 262.94,95.94 263.12,95.94 263.29,95.94 263.46,95.93 263.63,95.93 263.8,95.93 263.96,95.92 264.13,95.92 264.3,95.92 264.46,95.91 264.63,95.91 264.79,95.91 264.95,95.9 265.11,95.9 265.28,95.9 265.44,95.89 265.6,95.89 265.75,95.88 265.91,95.88 266.07,95.87 266.23,95.87 266.38,95.86 266.54,95.86 266.69,95.85 266.85,95.85 267,95.85 267.15,95.84 267.3,95.84 267.45,95.84 267.6,95.84 267.75,95.83 267.9,95.83 268.05,95.83 268.2,95.82 268.35,95.82 268.49,95.81 268.64,95.81 268.78,95.8 268.93,95.8 269.07,95.8 269.21,95.79 269.36,95.79 269.5,95.79 269.64,95.78 269.78,95.78 269.92,95.77 270.06,95.77 270.2,95.76 270.34,95.76 270.48,95.76 270.61,95.75 270.75,95.75 270.89,95.75 271.02,95.74 271.16,95.74 271.29,95.74 271.43,95.73 271.56,95.73 271.69,95.72 271.83,95.72 271.96,95.71 272.09,95.71 272.22,95.71 272.35,95.7 272.48,95.7 272.61,95.7 272.74,95.69 272.87,95.69 272.99,95.69 273.12,95.68 273.25,95.68 273.38,95.68 273.5,95.67 273.63,95.67 273.75,95.67 273.88,95.67 274,95.67 274.12,95.66 274.25,95.66 274.37,95.66 274.49,95.65 274.61,95.65 274.74,95.65 274.86,95.64 274.98,95.64 275.1,95.64 275.22,95.63 275.34,95.63 275.46,95.63 275.57,95.63 275.69,95.62 275.81,95.62 275.93,95.61 276.04,95.56 276.16,95.46 276.28,95.25 276.39,94.22 276.51,92.61 276.62,89.96"/>
</g>
<g clip-path="url(#cr)">
<path class="ln" d="M424.2 99.5L445.9 245.1M454.2 247.9L454.8 247.4M473.3 264.1L478.3 297.7M481.9 316.5L484 325.7M488.1 344.5L489.7 352.3"/>
<polyline class="kp" points="422.76,89.96 447.3,254.63 461.66,240.7 471.84,254.63 479.74,307.19 486.2,335.09 491.66,361.72 496.39,356.22 500.56,348.22 504.29,343.1 507.66,355 510.74,367.43 513.58,365.08 516.2,361.72 518.65,368.5 520.93,369.03 523.08,367.91 525.1,365.99 527.02,361.19 528.83,356.92 530.56,368.28 532.21,370.83 533.78,370.82 535.29,370.83 536.73,370.82 538.12,370.82 539.46,370.84 540.75,370.84 541.99,370.82 543.19,370.83 544.35,370.83 545.48,370.81 546.56,370.83 547.62,370.82 548.65,370.83 549.65,370.82 550.62,370.84 551.56,370.82 552.48,370.82 553.38,370.83 554.25,370.82 555.1,370.82 555.94,370.84 556.75,370.82 557.55,370.82 558.33,370.83 559.09,370.84 559.83,370.82 560.56,370.83 561.28,370.82 561.98,370.82 562.67,370.82 563.34,370.81 564,370.83 564.65,370.82 565.29,370.83 565.92,370.81 566.53,370.82 567.14,370.84 567.73,370.84 568.32,370.83 568.89,370.81 569.46,370.83 570.02,370.82 570.57,370.83 571.11,370.83 571.64,370.83 572.17,370.83 572.68,370.82 573.19,370.82 573.69,370.81 574.19,370.82 574.68,370.81 575.16,370.82 575.64,370.81 576.1,370.82 576.57,370.83 577.02,370.82 577.48,370.81 577.92,370.81 578.36,370.82 578.79,370.82 579.22,370.83 579.65,370.82 580.07,370.82 580.48,370.83 580.89,370.84 581.3,370.82 581.7,370.81 582.09,370.84 582.48,370.82 582.87,370.83 583.25,370.84 583.63,370.83 584.01,370.82 584.38,370.82 584.74,370.84 585.11,370.82 585.47,370.84 585.82,370.82 586.17,370.83 586.52,370.82 586.87,370.81 587.21,370.83 587.55,370.81 587.89,370.83 588.22,370.84 588.55,370.82 588.87,370.84 589.2,370.83 589.52,370.83 589.83,370.82 590.15,370.83 590.46,370.84 590.77,370.82 591.08,370.58 591.38,370.47 591.68,370.36 591.98,370.2 592.28,370.04 592.57,369.88 592.86,369.67 593.15,369.46 593.44,369.24 593.72,369.03 594.01,368.82 594.29,368.34 594.56,364.6 594.84,368.71 595.11,369.35 595.38,369.88 595.65,370.31 595.92,370.52 596.19,370.68 596.45,370.84 596.71,370.83 596.97,370.82 597.23,370.84 597.48,370.82 597.74,370.82 597.99,370.84 598.24,370.82 598.49,370.83 598.73,370.82 598.98,370.83 599.22,370.82 599.46,370.82 599.7,370.84 599.94,370.84 600.18,370.82 600.41,370.81 600.65,370.83 600.88,370.83 601.11,370.82 601.34,370.83 601.57,370.83 601.79,370.83 602.02,370.83 602.24,370.82 602.46,370.83 602.68,370.83 602.9,370.82 603.12,370.84 603.34,370.82 603.55,370.82 603.77,370.83 603.98,370.83 604.19,370.82 604.4,370.83 604.61,370.83 604.82,370.83 605.03,370.82 605.23,370.84 605.43,370.83 605.64,370.83 605.84,370.82 606.04,370.83 606.24,370.82 606.44,370.83 606.63,370.83 606.83,370.82 607.03,370.82 607.22,370.83 607.41,370.83 607.61,370.84 607.8,370.82 607.99,370.83 608.17,370.82 608.36,370.82 608.55,370.83 608.74,370.83 608.92,370.82 609.1,370.82 609.29,370.82 609.47,370.83 609.65,370.84 609.83,370.83 610.01,370.82 610.19,370.83 610.37,370.83 610.54,370.83 610.72,370.83 610.89,370.83 611.07,370.81 611.24,370.83 611.41,370.84 611.58,370.81 611.75,370.82 611.92,370.81 612.09,370.83 612.26,370.81 612.43,370.81 612.6,370.83 612.76,370.82 612.93,370.82 613.09,370.82 613.25,370.83 613.42,370.83 613.58,370.83 613.74,370.83 613.9,370.84 614.06,370.82 614.22,370.83 614.38,370.82 614.54,370.84 614.69,370.81 614.85,370.82 615.01,370.81 615.16,370.82 615.31,370.82 615.47,370.82 615.62,370.84 615.77,370.82 615.93,370.83 616.08,370.83 616.23,370.82 616.38,370.83 616.53,370.83 616.67,370.81 616.82,370.82 616.97,370.83 617.12,370.83 617.26,370.82 617.41,370.83 617.55,370.82 617.7,370.83 617.84,370.83 617.98,370.82 618.13,370.82 618.27,370.83 618.41,370.82 618.55,370.81 618.69,370.82 618.83,370.82 618.97,370.84 619.11,370.82 619.24,370.82 619.38,370.84 619.52,370.83 619.66,370.83 619.79,370.83 619.93,370.83 620.06,370.83 620.2,370.82 620.33,370.84 620.46,370.84 620.6,370.84 620.73,370.84 620.86,370.84 620.99,370.81 621.12,370.82 621.25,370.84 621.38,370.83 621.51,370.83 621.64,370.83 621.77,370.83 621.9,370.82 622.03,370.82 622.15,370.83 622.28,370.83 622.41,370.83 622.53,370.84 622.66,370.82 622.78,370.82 622.91,370.83 623.03,370.58 623.15,370.31 623.28,369.78 623.4,365.51 623.52,362.52 623.64,357.08"/>
</g>
<rect class="ln" x="78.72" y="78.72" width="216.96" height="303.36"/>
<path class="ln" d="M86.76 382.08H294.61M86.76 382.08v9.6M109.94 382.08v9.6M140.58 382.08v9.6M163.77 382.08v9.6M186.95 382.08v9.6M217.6 382.08v9.6M240.78 382.08v9.6M263.96 382.08v9.6M294.61 382.08v9.6M78.72 376.72V119.02M78.72 376.72h-9.6M78.72 325.18h-9.6M78.72 273.64h-9.6M78.72 222.1h-9.6M78.72 170.56h-9.6M78.72 119.02h-9.6"/>
<text class="ax" x="86.76" y="416.64">1</text>
<text class="ax" x="109.94" y="416.64">2</text>
<text class="ax" x="140.58" y="416.64">5</text>
<text class="ax" x="186.95" y="416.64">20</text>
<text class="ax" x="240.78" y="416.64">100</text>
<text class="ax" x="294.61" y="416.64">500</text>
<text class="ax" transform="translate(55.68 377.42) rotate(-90)">-450</text>
<text class="ax" transform="translate(55.68 325.88) rotate(-90)">-400</text>
<text class="ax" transform="translate(55.68 274.34) rotate(-90)">-350</text>
<text class="ax" transform="translate(55.68 222.8) rotate(-90)">-300</text>
<text class="ax" transform="translate(55.68 171.26) rotate(-90)">-250</text>
<text class="ax" transform="translate(55.68 119.72) rotate(-90)">-200</text>
<text class="ax" x="187.2" y="455.84">Iterations - log scale</text>
<text class="ax" transform="translate(17.28 231.4) rotate(-90)">ELBO</text>
<text class="tt" x="187.2" y="34.6">fiSAN - Results over 100 runs</text>
<text class="tt" x="187.2" y="57.6">ELBO trajectories</text>
<rect class="ln" x="414.72" y="78.72" width="216.96" height="303.36"/>
<path class="ln" d="M422.76 382.08H610.37M422.76 382.08v9.6M447.3 382.08v9.6M479.74 382.08v9.6M504.29 382.08v9.6M528.83 382.08v9.6M561.28 382.08v9.6M585.82 382.08v9.6M610.37 382.08v9.6M414.72 370.84V104.04M414.72 370.84h-9.6M414.72 317.48h-9.6M414.72 264.12h-9.6M414.72 210.76h-9.6M414.72 157.4h-9.6M414.72 104.04h-9.6"/>
<text class="ax" x="422.76" y="416.64">1</text>
<text class="ax" x="447.3" y="416.64">2</text>
<text class="ax" x="479.74" y="416.64">5</text>
<text class="ax" x="528.83" y="416.64">20</text>
<text class="ax" x="561.28" y="416.64">50</text>
<text class="ax" x="610.37" y="416.64">200</text>
<text class="ax" transform="translate(391.68 371.54) rotate(-90)">0</text>
<text class="ax" transform="translate(391.68 318.18) rotate(-90)">10</text>
<text class="ax" transform="translate(391.68 264.82) rotate(-90)">20</text>
<text class="ax" transform="translate(391.68 211.46) rotate(-90)">30</text>
<text class="ax" transform="translate(391.68 158.1) rotate(-90)">40</text>
<text class="ax" transform="translate(391.68 104.74) rotate(-90)">50</text>
<text class="ax" x="523.2" y="455.84">Iterations - log scale</text>
<text class="ax" transform="translate(353.28 231.4) rotate(-90)">diff(ELBO)</text>
<text class="tt" x="523.2" y="34.6">fiSAN - Best run</text>
<text class="tt" x="523.2" y="57.6">ELBO differences</text>
</svg>
</body></html>
